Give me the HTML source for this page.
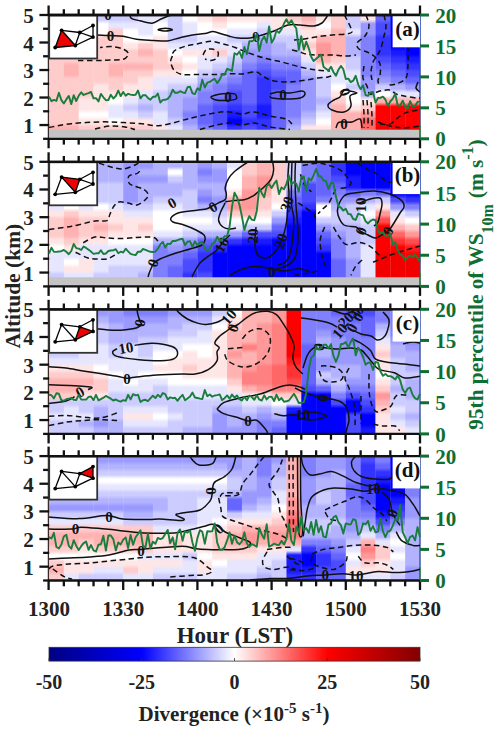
<!DOCTYPE html>
<html><head><meta charset="utf-8"><style>
html,body{margin:0;padding:0;background:#fff;}
body{width:500px;height:733px;overflow:hidden;position:relative;}
svg{position:absolute;left:0;top:0;}
</style></head><body>
<svg width="500" height="733" viewBox="0 0 500 733">
<defs><linearGradient id="g0_0" x1="0" y1="0" x2="0" y2="1"><stop offset="1.67%" stop-color="#ffcccc"/><stop offset="3.89%" stop-color="#ffcccc"/><stop offset="7.22%" stop-color="#ffcccc"/><stop offset="9.44%" stop-color="#ffcccc"/><stop offset="12.78%" stop-color="#ffcccc"/><stop offset="15.00%" stop-color="#ffcccc"/><stop offset="18.33%" stop-color="#ffcccc"/><stop offset="20.56%" stop-color="#ffcccc"/><stop offset="23.89%" stop-color="#ffcccc"/><stop offset="26.11%" stop-color="#ffcccc"/><stop offset="29.44%" stop-color="#ffcccc"/><stop offset="31.67%" stop-color="#ffcccc"/><stop offset="35.00%" stop-color="#ffcccc"/><stop offset="37.22%" stop-color="#ffcccc"/><stop offset="40.56%" stop-color="#ffcccc"/><stop offset="42.78%" stop-color="#ffcccc"/><stop offset="46.11%" stop-color="#ffcccc"/><stop offset="48.33%" stop-color="#ffcccc"/><stop offset="51.67%" stop-color="#ffcccc"/><stop offset="53.89%" stop-color="#ffcccc"/><stop offset="57.22%" stop-color="#ffcccc"/><stop offset="59.44%" stop-color="#ffcccc"/><stop offset="62.78%" stop-color="#ffcccc"/><stop offset="65.00%" stop-color="#ffcccc"/><stop offset="68.33%" stop-color="#ffcccc"/><stop offset="70.56%" stop-color="#ffcccc"/><stop offset="73.89%" stop-color="#ffcccc"/><stop offset="76.11%" stop-color="#ffcccc"/><stop offset="79.44%" stop-color="#ffcccc"/><stop offset="81.67%" stop-color="#ffcccc"/><stop offset="85.00%" stop-color="#ffcccc"/><stop offset="87.22%" stop-color="#ffcccc"/><stop offset="90.56%" stop-color="#ffb2b2"/><stop offset="92.78%" stop-color="#ffb2b2"/><stop offset="96.11%" stop-color="#ffcccc"/><stop offset="98.33%" stop-color="#ffcccc"/></linearGradient>
<linearGradient id="g0_1" x1="0" y1="0" x2="0" y2="1"><stop offset="1.67%" stop-color="#ffcccc"/><stop offset="3.89%" stop-color="#ffcccc"/><stop offset="7.22%" stop-color="#ffcccc"/><stop offset="9.44%" stop-color="#ffcccc"/><stop offset="12.78%" stop-color="#ffcccc"/><stop offset="15.00%" stop-color="#ffcccc"/><stop offset="18.33%" stop-color="#ffcccc"/><stop offset="20.56%" stop-color="#ffcccc"/><stop offset="23.89%" stop-color="#ffcccc"/><stop offset="26.11%" stop-color="#ffcccc"/><stop offset="29.44%" stop-color="#ffcccc"/><stop offset="31.67%" stop-color="#ffcccc"/><stop offset="35.00%" stop-color="#ffcccc"/><stop offset="37.22%" stop-color="#ffcccc"/><stop offset="40.56%" stop-color="#ffb2b2"/><stop offset="42.78%" stop-color="#ffb2b2"/><stop offset="46.11%" stop-color="#ffb2b2"/><stop offset="48.33%" stop-color="#ffb2b2"/><stop offset="51.67%" stop-color="#ffcccc"/><stop offset="53.89%" stop-color="#ffcccc"/><stop offset="57.22%" stop-color="#ffcccc"/><stop offset="59.44%" stop-color="#ffcccc"/><stop offset="62.78%" stop-color="#ffcccc"/><stop offset="65.00%" stop-color="#ffcccc"/><stop offset="68.33%" stop-color="#ffcccc"/><stop offset="70.56%" stop-color="#ffcccc"/><stop offset="73.89%" stop-color="#ffcccc"/><stop offset="76.11%" stop-color="#ffcccc"/><stop offset="79.44%" stop-color="#ffcccc"/><stop offset="81.67%" stop-color="#ffcccc"/><stop offset="85.00%" stop-color="#ffcccc"/><stop offset="87.22%" stop-color="#ffcccc"/><stop offset="90.56%" stop-color="#ffb2b2"/><stop offset="92.78%" stop-color="#ffb2b2"/><stop offset="96.11%" stop-color="#ffb2b2"/><stop offset="98.33%" stop-color="#ffb2b2"/></linearGradient>
<linearGradient id="g0_2" x1="0" y1="0" x2="0" y2="1"><stop offset="1.67%" stop-color="#ffcccc"/><stop offset="3.89%" stop-color="#ffcccc"/><stop offset="7.22%" stop-color="#ffcccc"/><stop offset="9.44%" stop-color="#ffcccc"/><stop offset="12.78%" stop-color="#ffcccc"/><stop offset="15.00%" stop-color="#ffcccc"/><stop offset="18.33%" stop-color="#ffcccc"/><stop offset="20.56%" stop-color="#ffcccc"/><stop offset="23.89%" stop-color="#ffcccc"/><stop offset="26.11%" stop-color="#ffcccc"/><stop offset="29.44%" stop-color="#ffcccc"/><stop offset="31.67%" stop-color="#ffcccc"/><stop offset="35.00%" stop-color="#ffcccc"/><stop offset="37.22%" stop-color="#ffcccc"/><stop offset="40.56%" stop-color="#ffcccc"/><stop offset="42.78%" stop-color="#ffcccc"/><stop offset="46.11%" stop-color="#ffcccc"/><stop offset="48.33%" stop-color="#ffcccc"/><stop offset="51.67%" stop-color="#ffcccc"/><stop offset="53.89%" stop-color="#ffcccc"/><stop offset="57.22%" stop-color="#ffcccc"/><stop offset="59.44%" stop-color="#ffcccc"/><stop offset="62.78%" stop-color="#ffcccc"/><stop offset="65.00%" stop-color="#ffcccc"/><stop offset="68.33%" stop-color="#ffe6e6"/><stop offset="70.56%" stop-color="#ffe6e6"/><stop offset="73.89%" stop-color="#ffe6e6"/><stop offset="76.11%" stop-color="#ffe6e6"/><stop offset="79.44%" stop-color="#ffffff"/><stop offset="81.67%" stop-color="#ffffff"/><stop offset="85.00%" stop-color="#ffe6e6"/><stop offset="87.22%" stop-color="#ffe6e6"/><stop offset="90.56%" stop-color="#ffcccc"/><stop offset="92.78%" stop-color="#ffcccc"/><stop offset="96.11%" stop-color="#ffcccc"/><stop offset="98.33%" stop-color="#ffcccc"/></linearGradient>
<linearGradient id="g0_3" x1="0" y1="0" x2="0" y2="1"><stop offset="1.67%" stop-color="#ccccff"/><stop offset="3.89%" stop-color="#ccccff"/><stop offset="7.22%" stop-color="#ffffff"/><stop offset="9.44%" stop-color="#ffffff"/><stop offset="12.78%" stop-color="#ffffff"/><stop offset="15.00%" stop-color="#ffffff"/><stop offset="18.33%" stop-color="#ffcccc"/><stop offset="20.56%" stop-color="#ffcccc"/><stop offset="23.89%" stop-color="#ffcccc"/><stop offset="26.11%" stop-color="#ffcccc"/><stop offset="29.44%" stop-color="#ffcccc"/><stop offset="31.67%" stop-color="#ffcccc"/><stop offset="35.00%" stop-color="#ffcccc"/><stop offset="37.22%" stop-color="#ffcccc"/><stop offset="40.56%" stop-color="#ffcccc"/><stop offset="42.78%" stop-color="#ffcccc"/><stop offset="46.11%" stop-color="#ffcccc"/><stop offset="48.33%" stop-color="#ffcccc"/><stop offset="51.67%" stop-color="#ffcccc"/><stop offset="53.89%" stop-color="#ffcccc"/><stop offset="57.22%" stop-color="#ffe6e6"/><stop offset="59.44%" stop-color="#ffe6e6"/><stop offset="62.78%" stop-color="#ffe6e6"/><stop offset="65.00%" stop-color="#ffe6e6"/><stop offset="68.33%" stop-color="#ffe6e6"/><stop offset="70.56%" stop-color="#ffe6e6"/><stop offset="73.89%" stop-color="#ffe6e6"/><stop offset="76.11%" stop-color="#ffe6e6"/><stop offset="79.44%" stop-color="#ffffff"/><stop offset="81.67%" stop-color="#ffffff"/><stop offset="85.00%" stop-color="#ffe6e6"/><stop offset="87.22%" stop-color="#ffe6e6"/><stop offset="90.56%" stop-color="#ffcccc"/><stop offset="92.78%" stop-color="#ffcccc"/><stop offset="96.11%" stop-color="#ffcccc"/><stop offset="98.33%" stop-color="#ffcccc"/></linearGradient>
<linearGradient id="g0_4" x1="0" y1="0" x2="0" y2="1"><stop offset="1.67%" stop-color="#ccccff"/><stop offset="3.89%" stop-color="#ccccff"/><stop offset="7.22%" stop-color="#e6e6ff"/><stop offset="9.44%" stop-color="#e6e6ff"/><stop offset="12.78%" stop-color="#ffcccc"/><stop offset="15.00%" stop-color="#ffcccc"/><stop offset="18.33%" stop-color="#ffcccc"/><stop offset="20.56%" stop-color="#ffcccc"/><stop offset="23.89%" stop-color="#ffcccc"/><stop offset="26.11%" stop-color="#ffcccc"/><stop offset="29.44%" stop-color="#ffcccc"/><stop offset="31.67%" stop-color="#ffcccc"/><stop offset="35.00%" stop-color="#ffcccc"/><stop offset="37.22%" stop-color="#ffcccc"/><stop offset="40.56%" stop-color="#ffb2b2"/><stop offset="42.78%" stop-color="#ffb2b2"/><stop offset="46.11%" stop-color="#ffb2b2"/><stop offset="48.33%" stop-color="#ffb2b2"/><stop offset="51.67%" stop-color="#ffcccc"/><stop offset="53.89%" stop-color="#ffcccc"/><stop offset="57.22%" stop-color="#ffcccc"/><stop offset="59.44%" stop-color="#ffcccc"/><stop offset="62.78%" stop-color="#ffe6e6"/><stop offset="65.00%" stop-color="#ffe6e6"/><stop offset="68.33%" stop-color="#ffffff"/><stop offset="70.56%" stop-color="#ffffff"/><stop offset="73.89%" stop-color="#e6e6ff"/><stop offset="76.11%" stop-color="#e6e6ff"/><stop offset="79.44%" stop-color="#e6e6ff"/><stop offset="81.67%" stop-color="#e6e6ff"/><stop offset="85.00%" stop-color="#ffffff"/><stop offset="87.22%" stop-color="#ffffff"/><stop offset="90.56%" stop-color="#ffcccc"/><stop offset="92.78%" stop-color="#ffcccc"/><stop offset="96.11%" stop-color="#ffcccc"/><stop offset="98.33%" stop-color="#ffcccc"/></linearGradient>
<linearGradient id="g0_5" x1="0" y1="0" x2="0" y2="1"><stop offset="1.67%" stop-color="#ccccff"/><stop offset="3.89%" stop-color="#ccccff"/><stop offset="7.22%" stop-color="#e6e6ff"/><stop offset="9.44%" stop-color="#e6e6ff"/><stop offset="12.78%" stop-color="#ffffff"/><stop offset="15.00%" stop-color="#ffffff"/><stop offset="18.33%" stop-color="#ffffff"/><stop offset="20.56%" stop-color="#ffffff"/><stop offset="23.89%" stop-color="#ffe6e6"/><stop offset="26.11%" stop-color="#ffe6e6"/><stop offset="29.44%" stop-color="#ffcccc"/><stop offset="31.67%" stop-color="#ffcccc"/><stop offset="35.00%" stop-color="#ffcccc"/><stop offset="37.22%" stop-color="#ffcccc"/><stop offset="40.56%" stop-color="#ffb2b2"/><stop offset="42.78%" stop-color="#ffb2b2"/><stop offset="46.11%" stop-color="#ffcccc"/><stop offset="48.33%" stop-color="#ffcccc"/><stop offset="51.67%" stop-color="#ffcccc"/><stop offset="53.89%" stop-color="#ffcccc"/><stop offset="57.22%" stop-color="#ffe6e6"/><stop offset="59.44%" stop-color="#ffe6e6"/><stop offset="62.78%" stop-color="#ffe6e6"/><stop offset="65.00%" stop-color="#ffe6e6"/><stop offset="68.33%" stop-color="#e6e6ff"/><stop offset="70.56%" stop-color="#e6e6ff"/><stop offset="73.89%" stop-color="#ccccff"/><stop offset="76.11%" stop-color="#ccccff"/><stop offset="79.44%" stop-color="#e6e6ff"/><stop offset="81.67%" stop-color="#e6e6ff"/><stop offset="85.00%" stop-color="#ffe6e6"/><stop offset="87.22%" stop-color="#ffe6e6"/><stop offset="90.56%" stop-color="#ffcccc"/><stop offset="92.78%" stop-color="#ffcccc"/><stop offset="96.11%" stop-color="#ffcccc"/><stop offset="98.33%" stop-color="#ffcccc"/></linearGradient>
<linearGradient id="g0_6" x1="0" y1="0" x2="0" y2="1"><stop offset="1.67%" stop-color="#e6e6ff"/><stop offset="3.89%" stop-color="#e6e6ff"/><stop offset="7.22%" stop-color="#e6e6ff"/><stop offset="9.44%" stop-color="#e6e6ff"/><stop offset="12.78%" stop-color="#e6e6ff"/><stop offset="15.00%" stop-color="#e6e6ff"/><stop offset="18.33%" stop-color="#ffffff"/><stop offset="20.56%" stop-color="#ffffff"/><stop offset="23.89%" stop-color="#ffcccc"/><stop offset="26.11%" stop-color="#ffcccc"/><stop offset="29.44%" stop-color="#ffb2b2"/><stop offset="31.67%" stop-color="#ffb2b2"/><stop offset="35.00%" stop-color="#ffcccc"/><stop offset="37.22%" stop-color="#ffcccc"/><stop offset="40.56%" stop-color="#ffb2b2"/><stop offset="42.78%" stop-color="#ffb2b2"/><stop offset="46.11%" stop-color="#ffcccc"/><stop offset="48.33%" stop-color="#ffcccc"/><stop offset="51.67%" stop-color="#ffe6e6"/><stop offset="53.89%" stop-color="#ffe6e6"/><stop offset="57.22%" stop-color="#ffe6e6"/><stop offset="59.44%" stop-color="#ffe6e6"/><stop offset="62.78%" stop-color="#e6e6ff"/><stop offset="65.00%" stop-color="#e6e6ff"/><stop offset="68.33%" stop-color="#ccccff"/><stop offset="70.56%" stop-color="#ccccff"/><stop offset="73.89%" stop-color="#b2b2ff"/><stop offset="76.11%" stop-color="#b2b2ff"/><stop offset="79.44%" stop-color="#ccccff"/><stop offset="81.67%" stop-color="#ccccff"/><stop offset="85.00%" stop-color="#ffe6e6"/><stop offset="87.22%" stop-color="#ffe6e6"/><stop offset="90.56%" stop-color="#ffcccc"/><stop offset="92.78%" stop-color="#ffcccc"/><stop offset="96.11%" stop-color="#ffcccc"/><stop offset="98.33%" stop-color="#ffcccc"/></linearGradient>
<linearGradient id="g0_7" x1="0" y1="0" x2="0" y2="1"><stop offset="1.67%" stop-color="#e6e6ff"/><stop offset="3.89%" stop-color="#e6e6ff"/><stop offset="7.22%" stop-color="#ffffff"/><stop offset="9.44%" stop-color="#ffffff"/><stop offset="12.78%" stop-color="#ffffff"/><stop offset="15.00%" stop-color="#ffffff"/><stop offset="18.33%" stop-color="#ffe6e6"/><stop offset="20.56%" stop-color="#ffe6e6"/><stop offset="23.89%" stop-color="#ffe6e6"/><stop offset="26.11%" stop-color="#ffe6e6"/><stop offset="29.44%" stop-color="#ffcccc"/><stop offset="31.67%" stop-color="#ffcccc"/><stop offset="35.00%" stop-color="#ffcccc"/><stop offset="37.22%" stop-color="#ffcccc"/><stop offset="40.56%" stop-color="#ffcccc"/><stop offset="42.78%" stop-color="#ffcccc"/><stop offset="46.11%" stop-color="#ffe6e6"/><stop offset="48.33%" stop-color="#ffe6e6"/><stop offset="51.67%" stop-color="#e6e6ff"/><stop offset="53.89%" stop-color="#e6e6ff"/><stop offset="57.22%" stop-color="#e6e6ff"/><stop offset="59.44%" stop-color="#e6e6ff"/><stop offset="62.78%" stop-color="#ccccff"/><stop offset="65.00%" stop-color="#ccccff"/><stop offset="68.33%" stop-color="#ccccff"/><stop offset="70.56%" stop-color="#ccccff"/><stop offset="73.89%" stop-color="#ccccff"/><stop offset="76.11%" stop-color="#ccccff"/><stop offset="79.44%" stop-color="#e6e6ff"/><stop offset="81.67%" stop-color="#e6e6ff"/><stop offset="85.00%" stop-color="#e6e6ff"/><stop offset="87.22%" stop-color="#e6e6ff"/><stop offset="90.56%" stop-color="#ffe6e6"/><stop offset="92.78%" stop-color="#ffe6e6"/><stop offset="96.11%" stop-color="#ffe6e6"/><stop offset="98.33%" stop-color="#ffe6e6"/></linearGradient>
<linearGradient id="g0_8" x1="0" y1="0" x2="0" y2="1"><stop offset="1.67%" stop-color="#ccccff"/><stop offset="3.89%" stop-color="#ccccff"/><stop offset="7.22%" stop-color="#ccccff"/><stop offset="9.44%" stop-color="#ccccff"/><stop offset="12.78%" stop-color="#ccccff"/><stop offset="15.00%" stop-color="#ccccff"/><stop offset="18.33%" stop-color="#ccccff"/><stop offset="20.56%" stop-color="#ccccff"/><stop offset="23.89%" stop-color="#e6e6ff"/><stop offset="26.11%" stop-color="#e6e6ff"/><stop offset="29.44%" stop-color="#ffffff"/><stop offset="31.67%" stop-color="#ffffff"/><stop offset="35.00%" stop-color="#ffe6e6"/><stop offset="37.22%" stop-color="#ffe6e6"/><stop offset="40.56%" stop-color="#ffcccc"/><stop offset="42.78%" stop-color="#ffcccc"/><stop offset="46.11%" stop-color="#ffe6e6"/><stop offset="48.33%" stop-color="#ffe6e6"/><stop offset="51.67%" stop-color="#e6e6ff"/><stop offset="53.89%" stop-color="#e6e6ff"/><stop offset="57.22%" stop-color="#ccccff"/><stop offset="59.44%" stop-color="#ccccff"/><stop offset="62.78%" stop-color="#b2b2ff"/><stop offset="65.00%" stop-color="#b2b2ff"/><stop offset="68.33%" stop-color="#b2b2ff"/><stop offset="70.56%" stop-color="#b2b2ff"/><stop offset="73.89%" stop-color="#b2b2ff"/><stop offset="76.11%" stop-color="#b2b2ff"/><stop offset="79.44%" stop-color="#b2b2ff"/><stop offset="81.67%" stop-color="#b2b2ff"/><stop offset="85.00%" stop-color="#ccccff"/><stop offset="87.22%" stop-color="#ccccff"/><stop offset="90.56%" stop-color="#e6e6ff"/><stop offset="92.78%" stop-color="#e6e6ff"/><stop offset="96.11%" stop-color="#e6e6ff"/><stop offset="98.33%" stop-color="#e6e6ff"/></linearGradient>
<linearGradient id="g0_9" x1="0" y1="0" x2="0" y2="1"><stop offset="1.67%" stop-color="#ffffff"/><stop offset="3.89%" stop-color="#ffffff"/><stop offset="7.22%" stop-color="#e6e6ff"/><stop offset="9.44%" stop-color="#e6e6ff"/><stop offset="12.78%" stop-color="#e6e6ff"/><stop offset="15.00%" stop-color="#e6e6ff"/><stop offset="18.33%" stop-color="#ccccff"/><stop offset="20.56%" stop-color="#ccccff"/><stop offset="23.89%" stop-color="#e6e6ff"/><stop offset="26.11%" stop-color="#e6e6ff"/><stop offset="29.44%" stop-color="#ffe6e6"/><stop offset="31.67%" stop-color="#ffe6e6"/><stop offset="35.00%" stop-color="#ffffff"/><stop offset="37.22%" stop-color="#ffffff"/><stop offset="40.56%" stop-color="#ffe6e6"/><stop offset="42.78%" stop-color="#ffe6e6"/><stop offset="46.11%" stop-color="#ffffff"/><stop offset="48.33%" stop-color="#ffffff"/><stop offset="51.67%" stop-color="#e6e6ff"/><stop offset="53.89%" stop-color="#e6e6ff"/><stop offset="57.22%" stop-color="#ccccff"/><stop offset="59.44%" stop-color="#ccccff"/><stop offset="62.78%" stop-color="#b2b2ff"/><stop offset="65.00%" stop-color="#b2b2ff"/><stop offset="68.33%" stop-color="#9999ff"/><stop offset="70.56%" stop-color="#9999ff"/><stop offset="73.89%" stop-color="#9999ff"/><stop offset="76.11%" stop-color="#9999ff"/><stop offset="79.44%" stop-color="#8080ff"/><stop offset="81.67%" stop-color="#8080ff"/><stop offset="85.00%" stop-color="#9999ff"/><stop offset="87.22%" stop-color="#9999ff"/><stop offset="90.56%" stop-color="#b2b2ff"/><stop offset="92.78%" stop-color="#b2b2ff"/><stop offset="96.11%" stop-color="#b2b2ff"/><stop offset="98.33%" stop-color="#b2b2ff"/></linearGradient>
<linearGradient id="g0_10" x1="0" y1="0" x2="0" y2="1"><stop offset="1.67%" stop-color="#ffe6e6"/><stop offset="3.89%" stop-color="#ffe6e6"/><stop offset="7.22%" stop-color="#ffffff"/><stop offset="9.44%" stop-color="#ffffff"/><stop offset="12.78%" stop-color="#ffffff"/><stop offset="15.00%" stop-color="#ffffff"/><stop offset="18.33%" stop-color="#e6e6ff"/><stop offset="20.56%" stop-color="#e6e6ff"/><stop offset="23.89%" stop-color="#e6e6ff"/><stop offset="26.11%" stop-color="#e6e6ff"/><stop offset="29.44%" stop-color="#ffe6e6"/><stop offset="31.67%" stop-color="#ffe6e6"/><stop offset="35.00%" stop-color="#e6e6ff"/><stop offset="37.22%" stop-color="#e6e6ff"/><stop offset="40.56%" stop-color="#e6e6ff"/><stop offset="42.78%" stop-color="#e6e6ff"/><stop offset="46.11%" stop-color="#ccccff"/><stop offset="48.33%" stop-color="#ccccff"/><stop offset="51.67%" stop-color="#b2b2ff"/><stop offset="53.89%" stop-color="#b2b2ff"/><stop offset="57.22%" stop-color="#9999ff"/><stop offset="59.44%" stop-color="#9999ff"/><stop offset="62.78%" stop-color="#8080ff"/><stop offset="65.00%" stop-color="#8080ff"/><stop offset="68.33%" stop-color="#8080ff"/><stop offset="70.56%" stop-color="#8080ff"/><stop offset="73.89%" stop-color="#6666ff"/><stop offset="76.11%" stop-color="#6666ff"/><stop offset="79.44%" stop-color="#6666ff"/><stop offset="81.67%" stop-color="#6666ff"/><stop offset="85.00%" stop-color="#6666ff"/><stop offset="87.22%" stop-color="#6666ff"/><stop offset="90.56%" stop-color="#8080ff"/><stop offset="92.78%" stop-color="#8080ff"/><stop offset="96.11%" stop-color="#8080ff"/><stop offset="98.33%" stop-color="#8080ff"/></linearGradient>
<linearGradient id="g0_11" x1="0" y1="0" x2="0" y2="1"><stop offset="1.67%" stop-color="#ffcccc"/><stop offset="3.89%" stop-color="#ffcccc"/><stop offset="7.22%" stop-color="#ffe6e6"/><stop offset="9.44%" stop-color="#ffe6e6"/><stop offset="12.78%" stop-color="#ffffff"/><stop offset="15.00%" stop-color="#ffffff"/><stop offset="18.33%" stop-color="#e6e6ff"/><stop offset="20.56%" stop-color="#e6e6ff"/><stop offset="23.89%" stop-color="#e6e6ff"/><stop offset="26.11%" stop-color="#e6e6ff"/><stop offset="29.44%" stop-color="#ffcccc"/><stop offset="31.67%" stop-color="#ffcccc"/><stop offset="35.00%" stop-color="#e6e6ff"/><stop offset="37.22%" stop-color="#e6e6ff"/><stop offset="40.56%" stop-color="#ccccff"/><stop offset="42.78%" stop-color="#ccccff"/><stop offset="46.11%" stop-color="#b2b2ff"/><stop offset="48.33%" stop-color="#b2b2ff"/><stop offset="51.67%" stop-color="#9999ff"/><stop offset="53.89%" stop-color="#9999ff"/><stop offset="57.22%" stop-color="#8080ff"/><stop offset="59.44%" stop-color="#8080ff"/><stop offset="62.78%" stop-color="#8080ff"/><stop offset="65.00%" stop-color="#8080ff"/><stop offset="68.33%" stop-color="#6666ff"/><stop offset="70.56%" stop-color="#6666ff"/><stop offset="73.89%" stop-color="#4c4cff"/><stop offset="76.11%" stop-color="#4c4cff"/><stop offset="79.44%" stop-color="#4c4cff"/><stop offset="81.67%" stop-color="#4c4cff"/><stop offset="85.00%" stop-color="#4c4cff"/><stop offset="87.22%" stop-color="#4c4cff"/><stop offset="90.56%" stop-color="#6666ff"/><stop offset="92.78%" stop-color="#6666ff"/><stop offset="96.11%" stop-color="#6666ff"/><stop offset="98.33%" stop-color="#6666ff"/></linearGradient>
<linearGradient id="g0_12" x1="0" y1="0" x2="0" y2="1"><stop offset="1.67%" stop-color="#ffe6e6"/><stop offset="3.89%" stop-color="#ffe6e6"/><stop offset="7.22%" stop-color="#ffffff"/><stop offset="9.44%" stop-color="#ffffff"/><stop offset="12.78%" stop-color="#e6e6ff"/><stop offset="15.00%" stop-color="#e6e6ff"/><stop offset="18.33%" stop-color="#ccccff"/><stop offset="20.56%" stop-color="#ccccff"/><stop offset="23.89%" stop-color="#e6e6ff"/><stop offset="26.11%" stop-color="#e6e6ff"/><stop offset="29.44%" stop-color="#e6e6ff"/><stop offset="31.67%" stop-color="#e6e6ff"/><stop offset="35.00%" stop-color="#ccccff"/><stop offset="37.22%" stop-color="#ccccff"/><stop offset="40.56%" stop-color="#b2b2ff"/><stop offset="42.78%" stop-color="#b2b2ff"/><stop offset="46.11%" stop-color="#9999ff"/><stop offset="48.33%" stop-color="#9999ff"/><stop offset="51.67%" stop-color="#8080ff"/><stop offset="53.89%" stop-color="#8080ff"/><stop offset="57.22%" stop-color="#6666ff"/><stop offset="59.44%" stop-color="#6666ff"/><stop offset="62.78%" stop-color="#4c4cff"/><stop offset="65.00%" stop-color="#4c4cff"/><stop offset="68.33%" stop-color="#4c4cff"/><stop offset="70.56%" stop-color="#4c4cff"/><stop offset="73.89%" stop-color="#3333ff"/><stop offset="76.11%" stop-color="#3333ff"/><stop offset="79.44%" stop-color="#1a1aff"/><stop offset="81.67%" stop-color="#1a1aff"/><stop offset="85.00%" stop-color="#0000ff"/><stop offset="87.22%" stop-color="#0000ff"/><stop offset="90.56%" stop-color="#3333ff"/><stop offset="92.78%" stop-color="#3333ff"/><stop offset="96.11%" stop-color="#3333ff"/><stop offset="98.33%" stop-color="#3333ff"/></linearGradient>
<linearGradient id="g0_13" x1="0" y1="0" x2="0" y2="1"><stop offset="1.67%" stop-color="#ffe6e6"/><stop offset="3.89%" stop-color="#ffe6e6"/><stop offset="7.22%" stop-color="#ffffff"/><stop offset="9.44%" stop-color="#ffffff"/><stop offset="12.78%" stop-color="#e6e6ff"/><stop offset="15.00%" stop-color="#e6e6ff"/><stop offset="18.33%" stop-color="#ccccff"/><stop offset="20.56%" stop-color="#ccccff"/><stop offset="23.89%" stop-color="#b2b2ff"/><stop offset="26.11%" stop-color="#b2b2ff"/><stop offset="29.44%" stop-color="#9999ff"/><stop offset="31.67%" stop-color="#9999ff"/><stop offset="35.00%" stop-color="#9999ff"/><stop offset="37.22%" stop-color="#9999ff"/><stop offset="40.56%" stop-color="#8080ff"/><stop offset="42.78%" stop-color="#8080ff"/><stop offset="46.11%" stop-color="#6666ff"/><stop offset="48.33%" stop-color="#6666ff"/><stop offset="51.67%" stop-color="#6666ff"/><stop offset="53.89%" stop-color="#6666ff"/><stop offset="57.22%" stop-color="#6666ff"/><stop offset="59.44%" stop-color="#6666ff"/><stop offset="62.78%" stop-color="#6666ff"/><stop offset="65.00%" stop-color="#6666ff"/><stop offset="68.33%" stop-color="#6666ff"/><stop offset="70.56%" stop-color="#6666ff"/><stop offset="73.89%" stop-color="#4c4cff"/><stop offset="76.11%" stop-color="#4c4cff"/><stop offset="79.44%" stop-color="#4c4cff"/><stop offset="81.67%" stop-color="#4c4cff"/><stop offset="85.00%" stop-color="#3333ff"/><stop offset="87.22%" stop-color="#3333ff"/><stop offset="90.56%" stop-color="#4c4cff"/><stop offset="92.78%" stop-color="#4c4cff"/><stop offset="96.11%" stop-color="#6666ff"/><stop offset="98.33%" stop-color="#6666ff"/></linearGradient>
<linearGradient id="g0_14" x1="0" y1="0" x2="0" y2="1"><stop offset="1.67%" stop-color="#ffe6e6"/><stop offset="3.89%" stop-color="#ffe6e6"/><stop offset="7.22%" stop-color="#e6e6ff"/><stop offset="9.44%" stop-color="#e6e6ff"/><stop offset="12.78%" stop-color="#ccccff"/><stop offset="15.00%" stop-color="#ccccff"/><stop offset="18.33%" stop-color="#b2b2ff"/><stop offset="20.56%" stop-color="#b2b2ff"/><stop offset="23.89%" stop-color="#9999ff"/><stop offset="26.11%" stop-color="#9999ff"/><stop offset="29.44%" stop-color="#9999ff"/><stop offset="31.67%" stop-color="#9999ff"/><stop offset="35.00%" stop-color="#8080ff"/><stop offset="37.22%" stop-color="#8080ff"/><stop offset="40.56%" stop-color="#6666ff"/><stop offset="42.78%" stop-color="#6666ff"/><stop offset="46.11%" stop-color="#4c4cff"/><stop offset="48.33%" stop-color="#4c4cff"/><stop offset="51.67%" stop-color="#3333ff"/><stop offset="53.89%" stop-color="#3333ff"/><stop offset="57.22%" stop-color="#3333ff"/><stop offset="59.44%" stop-color="#3333ff"/><stop offset="62.78%" stop-color="#3333ff"/><stop offset="65.00%" stop-color="#3333ff"/><stop offset="68.33%" stop-color="#3333ff"/><stop offset="70.56%" stop-color="#3333ff"/><stop offset="73.89%" stop-color="#1a1aff"/><stop offset="76.11%" stop-color="#1a1aff"/><stop offset="79.44%" stop-color="#1a1aff"/><stop offset="81.67%" stop-color="#1a1aff"/><stop offset="85.00%" stop-color="#3333ff"/><stop offset="87.22%" stop-color="#3333ff"/><stop offset="90.56%" stop-color="#3333ff"/><stop offset="92.78%" stop-color="#3333ff"/><stop offset="96.11%" stop-color="#ff4c4c"/><stop offset="98.33%" stop-color="#ff4c4c"/></linearGradient>
<linearGradient id="g0_15" x1="0" y1="0" x2="0" y2="1"><stop offset="1.67%" stop-color="#ffe6e6"/><stop offset="3.89%" stop-color="#ffe6e6"/><stop offset="7.22%" stop-color="#ffe6e6"/><stop offset="9.44%" stop-color="#ffe6e6"/><stop offset="12.78%" stop-color="#e6e6ff"/><stop offset="15.00%" stop-color="#e6e6ff"/><stop offset="18.33%" stop-color="#ccccff"/><stop offset="20.56%" stop-color="#ccccff"/><stop offset="23.89%" stop-color="#b2b2ff"/><stop offset="26.11%" stop-color="#b2b2ff"/><stop offset="29.44%" stop-color="#b2b2ff"/><stop offset="31.67%" stop-color="#b2b2ff"/><stop offset="35.00%" stop-color="#9999ff"/><stop offset="37.22%" stop-color="#9999ff"/><stop offset="40.56%" stop-color="#8080ff"/><stop offset="42.78%" stop-color="#8080ff"/><stop offset="46.11%" stop-color="#6666ff"/><stop offset="48.33%" stop-color="#6666ff"/><stop offset="51.67%" stop-color="#4c4cff"/><stop offset="53.89%" stop-color="#4c4cff"/><stop offset="57.22%" stop-color="#4c4cff"/><stop offset="59.44%" stop-color="#4c4cff"/><stop offset="62.78%" stop-color="#6666ff"/><stop offset="65.00%" stop-color="#6666ff"/><stop offset="68.33%" stop-color="#6666ff"/><stop offset="70.56%" stop-color="#6666ff"/><stop offset="73.89%" stop-color="#6666ff"/><stop offset="76.11%" stop-color="#6666ff"/><stop offset="79.44%" stop-color="#6666ff"/><stop offset="81.67%" stop-color="#6666ff"/><stop offset="85.00%" stop-color="#6666ff"/><stop offset="87.22%" stop-color="#6666ff"/><stop offset="90.56%" stop-color="#6666ff"/><stop offset="92.78%" stop-color="#6666ff"/><stop offset="96.11%" stop-color="#8080ff"/><stop offset="98.33%" stop-color="#8080ff"/></linearGradient>
<linearGradient id="g0_16" x1="0" y1="0" x2="0" y2="1"><stop offset="1.67%" stop-color="#ffcccc"/><stop offset="3.89%" stop-color="#ffcccc"/><stop offset="7.22%" stop-color="#ffe6e6"/><stop offset="9.44%" stop-color="#ffe6e6"/><stop offset="12.78%" stop-color="#e6e6ff"/><stop offset="15.00%" stop-color="#e6e6ff"/><stop offset="18.33%" stop-color="#ccccff"/><stop offset="20.56%" stop-color="#ccccff"/><stop offset="23.89%" stop-color="#ccccff"/><stop offset="26.11%" stop-color="#ccccff"/><stop offset="29.44%" stop-color="#b2b2ff"/><stop offset="31.67%" stop-color="#b2b2ff"/><stop offset="35.00%" stop-color="#9999ff"/><stop offset="37.22%" stop-color="#9999ff"/><stop offset="40.56%" stop-color="#8080ff"/><stop offset="42.78%" stop-color="#8080ff"/><stop offset="46.11%" stop-color="#6666ff"/><stop offset="48.33%" stop-color="#6666ff"/><stop offset="51.67%" stop-color="#6666ff"/><stop offset="53.89%" stop-color="#6666ff"/><stop offset="57.22%" stop-color="#8080ff"/><stop offset="59.44%" stop-color="#8080ff"/><stop offset="62.78%" stop-color="#8080ff"/><stop offset="65.00%" stop-color="#8080ff"/><stop offset="68.33%" stop-color="#8080ff"/><stop offset="70.56%" stop-color="#8080ff"/><stop offset="73.89%" stop-color="#8080ff"/><stop offset="76.11%" stop-color="#8080ff"/><stop offset="79.44%" stop-color="#8080ff"/><stop offset="81.67%" stop-color="#8080ff"/><stop offset="85.00%" stop-color="#9999ff"/><stop offset="87.22%" stop-color="#9999ff"/><stop offset="90.56%" stop-color="#b2b2ff"/><stop offset="92.78%" stop-color="#b2b2ff"/><stop offset="96.11%" stop-color="#b2b2ff"/><stop offset="98.33%" stop-color="#b2b2ff"/></linearGradient>
<linearGradient id="g0_17" x1="0" y1="0" x2="0" y2="1"><stop offset="1.67%" stop-color="#ffb2b2"/><stop offset="3.89%" stop-color="#ffb2b2"/><stop offset="7.22%" stop-color="#ffcccc"/><stop offset="9.44%" stop-color="#ffcccc"/><stop offset="12.78%" stop-color="#ffe6e6"/><stop offset="15.00%" stop-color="#ffe6e6"/><stop offset="18.33%" stop-color="#ffe6e6"/><stop offset="20.56%" stop-color="#ffe6e6"/><stop offset="23.89%" stop-color="#ffcccc"/><stop offset="26.11%" stop-color="#ffcccc"/><stop offset="29.44%" stop-color="#ffe6e6"/><stop offset="31.67%" stop-color="#ffe6e6"/><stop offset="35.00%" stop-color="#e6e6ff"/><stop offset="37.22%" stop-color="#e6e6ff"/><stop offset="40.56%" stop-color="#ccccff"/><stop offset="42.78%" stop-color="#ccccff"/><stop offset="46.11%" stop-color="#b2b2ff"/><stop offset="48.33%" stop-color="#b2b2ff"/><stop offset="51.67%" stop-color="#9999ff"/><stop offset="53.89%" stop-color="#9999ff"/><stop offset="57.22%" stop-color="#9999ff"/><stop offset="59.44%" stop-color="#9999ff"/><stop offset="62.78%" stop-color="#9999ff"/><stop offset="65.00%" stop-color="#9999ff"/><stop offset="68.33%" stop-color="#9999ff"/><stop offset="70.56%" stop-color="#9999ff"/><stop offset="73.89%" stop-color="#9999ff"/><stop offset="76.11%" stop-color="#9999ff"/><stop offset="79.44%" stop-color="#b2b2ff"/><stop offset="81.67%" stop-color="#b2b2ff"/><stop offset="85.00%" stop-color="#ccccff"/><stop offset="87.22%" stop-color="#ccccff"/><stop offset="90.56%" stop-color="#ffe6e6"/><stop offset="92.78%" stop-color="#ffe6e6"/><stop offset="96.11%" stop-color="#ffe6e6"/><stop offset="98.33%" stop-color="#ffe6e6"/></linearGradient>
<linearGradient id="g0_18" x1="0" y1="0" x2="0" y2="1"><stop offset="1.67%" stop-color="#ffe6e6"/><stop offset="3.89%" stop-color="#ffe6e6"/><stop offset="7.22%" stop-color="#ffffff"/><stop offset="9.44%" stop-color="#ffffff"/><stop offset="12.78%" stop-color="#ffe6e6"/><stop offset="15.00%" stop-color="#ffe6e6"/><stop offset="18.33%" stop-color="#ffb2b2"/><stop offset="20.56%" stop-color="#ffb2b2"/><stop offset="23.89%" stop-color="#ff9999"/><stop offset="26.11%" stop-color="#ff9999"/><stop offset="29.44%" stop-color="#ff9999"/><stop offset="31.67%" stop-color="#ff9999"/><stop offset="35.00%" stop-color="#ffb2b2"/><stop offset="37.22%" stop-color="#ffb2b2"/><stop offset="40.56%" stop-color="#ffe6e6"/><stop offset="42.78%" stop-color="#ffe6e6"/><stop offset="46.11%" stop-color="#e6e6ff"/><stop offset="48.33%" stop-color="#e6e6ff"/><stop offset="51.67%" stop-color="#ccccff"/><stop offset="53.89%" stop-color="#ccccff"/><stop offset="57.22%" stop-color="#ccccff"/><stop offset="59.44%" stop-color="#ccccff"/><stop offset="62.78%" stop-color="#ccccff"/><stop offset="65.00%" stop-color="#ccccff"/><stop offset="68.33%" stop-color="#b2b2ff"/><stop offset="70.56%" stop-color="#b2b2ff"/><stop offset="73.89%" stop-color="#ccccff"/><stop offset="76.11%" stop-color="#ccccff"/><stop offset="79.44%" stop-color="#e6e6ff"/><stop offset="81.67%" stop-color="#e6e6ff"/><stop offset="85.00%" stop-color="#ffffff"/><stop offset="87.22%" stop-color="#ffffff"/><stop offset="90.56%" stop-color="#ffe6e6"/><stop offset="92.78%" stop-color="#ffe6e6"/><stop offset="96.11%" stop-color="#ffe6e6"/><stop offset="98.33%" stop-color="#ffe6e6"/></linearGradient>
<linearGradient id="g0_19" x1="0" y1="0" x2="0" y2="1"><stop offset="1.67%" stop-color="#ffcccc"/><stop offset="3.89%" stop-color="#ffcccc"/><stop offset="7.22%" stop-color="#ffcccc"/><stop offset="9.44%" stop-color="#ffcccc"/><stop offset="12.78%" stop-color="#ffb2b2"/><stop offset="15.00%" stop-color="#ffb2b2"/><stop offset="18.33%" stop-color="#ffb2b2"/><stop offset="20.56%" stop-color="#ffb2b2"/><stop offset="23.89%" stop-color="#ffb2b2"/><stop offset="26.11%" stop-color="#ffb2b2"/><stop offset="29.44%" stop-color="#ffb2b2"/><stop offset="31.67%" stop-color="#ffb2b2"/><stop offset="35.00%" stop-color="#ffcccc"/><stop offset="37.22%" stop-color="#ffcccc"/><stop offset="40.56%" stop-color="#ffe6e6"/><stop offset="42.78%" stop-color="#ffe6e6"/><stop offset="46.11%" stop-color="#e6e6ff"/><stop offset="48.33%" stop-color="#e6e6ff"/><stop offset="51.67%" stop-color="#e6e6ff"/><stop offset="53.89%" stop-color="#e6e6ff"/><stop offset="57.22%" stop-color="#ffffff"/><stop offset="59.44%" stop-color="#ffffff"/><stop offset="62.78%" stop-color="#ffe6e6"/><stop offset="65.00%" stop-color="#ffe6e6"/><stop offset="68.33%" stop-color="#ffcccc"/><stop offset="70.56%" stop-color="#ffcccc"/><stop offset="73.89%" stop-color="#ffb2b2"/><stop offset="76.11%" stop-color="#ffb2b2"/><stop offset="79.44%" stop-color="#ffb2b2"/><stop offset="81.67%" stop-color="#ffb2b2"/><stop offset="85.00%" stop-color="#ffb2b2"/><stop offset="87.22%" stop-color="#ffb2b2"/><stop offset="90.56%" stop-color="#ffb2b2"/><stop offset="92.78%" stop-color="#ffb2b2"/><stop offset="96.11%" stop-color="#ffb2b2"/><stop offset="98.33%" stop-color="#ffb2b2"/></linearGradient>
<linearGradient id="g0_20" x1="0" y1="0" x2="0" y2="1"><stop offset="1.67%" stop-color="#ccccff"/><stop offset="3.89%" stop-color="#ccccff"/><stop offset="7.22%" stop-color="#ccccff"/><stop offset="9.44%" stop-color="#ccccff"/><stop offset="12.78%" stop-color="#e6e6ff"/><stop offset="15.00%" stop-color="#e6e6ff"/><stop offset="18.33%" stop-color="#b2b2ff"/><stop offset="20.56%" stop-color="#b2b2ff"/><stop offset="23.89%" stop-color="#b2b2ff"/><stop offset="26.11%" stop-color="#b2b2ff"/><stop offset="29.44%" stop-color="#b2b2ff"/><stop offset="31.67%" stop-color="#b2b2ff"/><stop offset="35.00%" stop-color="#ccccff"/><stop offset="37.22%" stop-color="#ccccff"/><stop offset="40.56%" stop-color="#ccccff"/><stop offset="42.78%" stop-color="#ccccff"/><stop offset="46.11%" stop-color="#e6e6ff"/><stop offset="48.33%" stop-color="#e6e6ff"/><stop offset="51.67%" stop-color="#e6e6ff"/><stop offset="53.89%" stop-color="#e6e6ff"/><stop offset="57.22%" stop-color="#ccccff"/><stop offset="59.44%" stop-color="#ccccff"/><stop offset="62.78%" stop-color="#ffffff"/><stop offset="65.00%" stop-color="#ffffff"/><stop offset="68.33%" stop-color="#ffffff"/><stop offset="70.56%" stop-color="#ffffff"/><stop offset="73.89%" stop-color="#ffe6e6"/><stop offset="76.11%" stop-color="#ffe6e6"/><stop offset="79.44%" stop-color="#ffb2b2"/><stop offset="81.67%" stop-color="#ffb2b2"/><stop offset="85.00%" stop-color="#ffb2b2"/><stop offset="87.22%" stop-color="#ffb2b2"/><stop offset="90.56%" stop-color="#ffb2b2"/><stop offset="92.78%" stop-color="#ffb2b2"/><stop offset="96.11%" stop-color="#ffb2b2"/><stop offset="98.33%" stop-color="#ffb2b2"/></linearGradient>
<linearGradient id="g0_21" x1="0" y1="0" x2="0" y2="1"><stop offset="1.67%" stop-color="#ffe6e6"/><stop offset="3.89%" stop-color="#ffe6e6"/><stop offset="7.22%" stop-color="#9999ff"/><stop offset="9.44%" stop-color="#9999ff"/><stop offset="12.78%" stop-color="#9999ff"/><stop offset="15.00%" stop-color="#9999ff"/><stop offset="18.33%" stop-color="#8080ff"/><stop offset="20.56%" stop-color="#8080ff"/><stop offset="23.89%" stop-color="#8080ff"/><stop offset="26.11%" stop-color="#8080ff"/><stop offset="29.44%" stop-color="#8080ff"/><stop offset="31.67%" stop-color="#8080ff"/><stop offset="35.00%" stop-color="#8080ff"/><stop offset="37.22%" stop-color="#8080ff"/><stop offset="40.56%" stop-color="#8080ff"/><stop offset="42.78%" stop-color="#8080ff"/><stop offset="46.11%" stop-color="#8080ff"/><stop offset="48.33%" stop-color="#8080ff"/><stop offset="51.67%" stop-color="#9999ff"/><stop offset="53.89%" stop-color="#9999ff"/><stop offset="57.22%" stop-color="#9999ff"/><stop offset="59.44%" stop-color="#9999ff"/><stop offset="62.78%" stop-color="#b2b2ff"/><stop offset="65.00%" stop-color="#b2b2ff"/><stop offset="68.33%" stop-color="#ffe6e6"/><stop offset="70.56%" stop-color="#ffe6e6"/><stop offset="73.89%" stop-color="#ffcccc"/><stop offset="76.11%" stop-color="#ffcccc"/><stop offset="79.44%" stop-color="#ff9999"/><stop offset="81.67%" stop-color="#ff9999"/><stop offset="85.00%" stop-color="#ff6666"/><stop offset="87.22%" stop-color="#ff6666"/><stop offset="90.56%" stop-color="#ff6666"/><stop offset="92.78%" stop-color="#ff6666"/><stop offset="96.11%" stop-color="#ff6666"/><stop offset="98.33%" stop-color="#ff6666"/></linearGradient>
<linearGradient id="g0_22" x1="0" y1="0" x2="0" y2="1"><stop offset="1.67%" stop-color="#6666ff"/><stop offset="3.89%" stop-color="#6666ff"/><stop offset="7.22%" stop-color="#4c4cff"/><stop offset="9.44%" stop-color="#4c4cff"/><stop offset="12.78%" stop-color="#4c4cff"/><stop offset="15.00%" stop-color="#4c4cff"/><stop offset="18.33%" stop-color="#3333ff"/><stop offset="20.56%" stop-color="#3333ff"/><stop offset="23.89%" stop-color="#3333ff"/><stop offset="26.11%" stop-color="#3333ff"/><stop offset="29.44%" stop-color="#3333ff"/><stop offset="31.67%" stop-color="#3333ff"/><stop offset="35.00%" stop-color="#4c4cff"/><stop offset="37.22%" stop-color="#4c4cff"/><stop offset="40.56%" stop-color="#6666ff"/><stop offset="42.78%" stop-color="#6666ff"/><stop offset="46.11%" stop-color="#8080ff"/><stop offset="48.33%" stop-color="#8080ff"/><stop offset="51.67%" stop-color="#9999ff"/><stop offset="53.89%" stop-color="#9999ff"/><stop offset="57.22%" stop-color="#ccccff"/><stop offset="59.44%" stop-color="#ccccff"/><stop offset="62.78%" stop-color="#ffffff"/><stop offset="65.00%" stop-color="#ffffff"/><stop offset="68.33%" stop-color="#ffb2b2"/><stop offset="70.56%" stop-color="#ffb2b2"/><stop offset="73.89%" stop-color="#ff0000"/><stop offset="76.11%" stop-color="#ff0000"/><stop offset="79.44%" stop-color="#ff0000"/><stop offset="81.67%" stop-color="#ff0000"/><stop offset="85.00%" stop-color="#ff0000"/><stop offset="87.22%" stop-color="#ff0000"/><stop offset="90.56%" stop-color="#f20000"/><stop offset="92.78%" stop-color="#f20000"/><stop offset="96.11%" stop-color="#f20000"/><stop offset="98.33%" stop-color="#f20000"/></linearGradient>
<linearGradient id="g0_23" x1="0" y1="0" x2="0" y2="1"><stop offset="1.67%" stop-color="#0000ff"/><stop offset="3.89%" stop-color="#0000ff"/><stop offset="7.22%" stop-color="#0000ff"/><stop offset="9.44%" stop-color="#0000ff"/><stop offset="12.78%" stop-color="#0000ff"/><stop offset="15.00%" stop-color="#0000ff"/><stop offset="18.33%" stop-color="#0000ff"/><stop offset="20.56%" stop-color="#0000ff"/><stop offset="23.89%" stop-color="#0000ff"/><stop offset="26.11%" stop-color="#0000ff"/><stop offset="29.44%" stop-color="#1a1aff"/><stop offset="31.67%" stop-color="#1a1aff"/><stop offset="35.00%" stop-color="#3333ff"/><stop offset="37.22%" stop-color="#3333ff"/><stop offset="40.56%" stop-color="#4c4cff"/><stop offset="42.78%" stop-color="#4c4cff"/><stop offset="46.11%" stop-color="#6666ff"/><stop offset="48.33%" stop-color="#6666ff"/><stop offset="51.67%" stop-color="#8080ff"/><stop offset="53.89%" stop-color="#8080ff"/><stop offset="57.22%" stop-color="#b2b2ff"/><stop offset="59.44%" stop-color="#b2b2ff"/><stop offset="62.78%" stop-color="#e6e6ff"/><stop offset="65.00%" stop-color="#e6e6ff"/><stop offset="68.33%" stop-color="#ffb2b2"/><stop offset="70.56%" stop-color="#ffb2b2"/><stop offset="73.89%" stop-color="#ff0000"/><stop offset="76.11%" stop-color="#ff0000"/><stop offset="79.44%" stop-color="#ff0000"/><stop offset="81.67%" stop-color="#ff0000"/><stop offset="85.00%" stop-color="#ff0000"/><stop offset="87.22%" stop-color="#ff0000"/><stop offset="90.56%" stop-color="#f20000"/><stop offset="92.78%" stop-color="#f20000"/><stop offset="96.11%" stop-color="#f20000"/><stop offset="98.33%" stop-color="#f20000"/></linearGradient>
<linearGradient id="g0_24" x1="0" y1="0" x2="0" y2="1"><stop offset="1.67%" stop-color="#0000ff"/><stop offset="3.89%" stop-color="#0000ff"/><stop offset="7.22%" stop-color="#0000ff"/><stop offset="9.44%" stop-color="#0000ff"/><stop offset="12.78%" stop-color="#0000ff"/><stop offset="15.00%" stop-color="#0000ff"/><stop offset="18.33%" stop-color="#0000ff"/><stop offset="20.56%" stop-color="#0000ff"/><stop offset="23.89%" stop-color="#0000ff"/><stop offset="26.11%" stop-color="#0000ff"/><stop offset="29.44%" stop-color="#0000ff"/><stop offset="31.67%" stop-color="#0000ff"/><stop offset="35.00%" stop-color="#1a1aff"/><stop offset="37.22%" stop-color="#1a1aff"/><stop offset="40.56%" stop-color="#3333ff"/><stop offset="42.78%" stop-color="#3333ff"/><stop offset="46.11%" stop-color="#4c4cff"/><stop offset="48.33%" stop-color="#4c4cff"/><stop offset="51.67%" stop-color="#6666ff"/><stop offset="53.89%" stop-color="#6666ff"/><stop offset="57.22%" stop-color="#9999ff"/><stop offset="59.44%" stop-color="#9999ff"/><stop offset="62.78%" stop-color="#e6e6ff"/><stop offset="65.00%" stop-color="#e6e6ff"/><stop offset="68.33%" stop-color="#ffb2b2"/><stop offset="70.56%" stop-color="#ffb2b2"/><stop offset="73.89%" stop-color="#ff0000"/><stop offset="76.11%" stop-color="#ff0000"/><stop offset="79.44%" stop-color="#ff0000"/><stop offset="81.67%" stop-color="#ff0000"/><stop offset="85.00%" stop-color="#ff0000"/><stop offset="87.22%" stop-color="#ff0000"/><stop offset="90.56%" stop-color="#f20000"/><stop offset="92.78%" stop-color="#f20000"/><stop offset="96.11%" stop-color="#f20000"/><stop offset="98.33%" stop-color="#f20000"/></linearGradient>
<linearGradient id="g1_0" x1="0" y1="0" x2="0" y2="1"><stop offset="1.67%" stop-color="#b2b2ff"/><stop offset="3.89%" stop-color="#b2b2ff"/><stop offset="7.22%" stop-color="#b2b2ff"/><stop offset="9.44%" stop-color="#b2b2ff"/><stop offset="12.78%" stop-color="#b2b2ff"/><stop offset="15.00%" stop-color="#b2b2ff"/><stop offset="18.33%" stop-color="#ccccff"/><stop offset="20.56%" stop-color="#ccccff"/><stop offset="23.89%" stop-color="#ccccff"/><stop offset="26.11%" stop-color="#ccccff"/><stop offset="29.44%" stop-color="#ccccff"/><stop offset="31.67%" stop-color="#ccccff"/><stop offset="35.00%" stop-color="#e6e6ff"/><stop offset="37.22%" stop-color="#e6e6ff"/><stop offset="40.56%" stop-color="#ffe6e6"/><stop offset="42.78%" stop-color="#ffe6e6"/><stop offset="46.11%" stop-color="#ffcccc"/><stop offset="48.33%" stop-color="#ffcccc"/><stop offset="51.67%" stop-color="#ffcccc"/><stop offset="53.89%" stop-color="#ffcccc"/><stop offset="57.22%" stop-color="#ffcccc"/><stop offset="59.44%" stop-color="#ffcccc"/><stop offset="62.78%" stop-color="#ffe6e6"/><stop offset="65.00%" stop-color="#ffe6e6"/><stop offset="68.33%" stop-color="#ffffff"/><stop offset="70.56%" stop-color="#ffffff"/><stop offset="73.89%" stop-color="#e6e6ff"/><stop offset="76.11%" stop-color="#e6e6ff"/><stop offset="79.44%" stop-color="#e6e6ff"/><stop offset="81.67%" stop-color="#e6e6ff"/><stop offset="85.00%" stop-color="#e6e6ff"/><stop offset="87.22%" stop-color="#e6e6ff"/><stop offset="90.56%" stop-color="#ccccff"/><stop offset="92.78%" stop-color="#ccccff"/><stop offset="96.11%" stop-color="#ccccff"/><stop offset="98.33%" stop-color="#ccccff"/></linearGradient>
<linearGradient id="g1_1" x1="0" y1="0" x2="0" y2="1"><stop offset="1.67%" stop-color="#b2b2ff"/><stop offset="3.89%" stop-color="#b2b2ff"/><stop offset="7.22%" stop-color="#b2b2ff"/><stop offset="9.44%" stop-color="#b2b2ff"/><stop offset="12.78%" stop-color="#b2b2ff"/><stop offset="15.00%" stop-color="#b2b2ff"/><stop offset="18.33%" stop-color="#ccccff"/><stop offset="20.56%" stop-color="#ccccff"/><stop offset="23.89%" stop-color="#ccccff"/><stop offset="26.11%" stop-color="#ccccff"/><stop offset="29.44%" stop-color="#ccccff"/><stop offset="31.67%" stop-color="#ccccff"/><stop offset="35.00%" stop-color="#ffffff"/><stop offset="37.22%" stop-color="#ffffff"/><stop offset="40.56%" stop-color="#ffcccc"/><stop offset="42.78%" stop-color="#ffcccc"/><stop offset="46.11%" stop-color="#ffb2b2"/><stop offset="48.33%" stop-color="#ffb2b2"/><stop offset="51.67%" stop-color="#ffb2b2"/><stop offset="53.89%" stop-color="#ffb2b2"/><stop offset="57.22%" stop-color="#ffb2b2"/><stop offset="59.44%" stop-color="#ffb2b2"/><stop offset="62.78%" stop-color="#ffcccc"/><stop offset="65.00%" stop-color="#ffcccc"/><stop offset="68.33%" stop-color="#ffe6e6"/><stop offset="70.56%" stop-color="#ffe6e6"/><stop offset="73.89%" stop-color="#e6e6ff"/><stop offset="76.11%" stop-color="#e6e6ff"/><stop offset="79.44%" stop-color="#ffffff"/><stop offset="81.67%" stop-color="#ffffff"/><stop offset="85.00%" stop-color="#ffe6e6"/><stop offset="87.22%" stop-color="#ffe6e6"/><stop offset="90.56%" stop-color="#e6e6ff"/><stop offset="92.78%" stop-color="#e6e6ff"/><stop offset="96.11%" stop-color="#ffffff"/><stop offset="98.33%" stop-color="#ffffff"/></linearGradient>
<linearGradient id="g1_2" x1="0" y1="0" x2="0" y2="1"><stop offset="1.67%" stop-color="#b2b2ff"/><stop offset="3.89%" stop-color="#b2b2ff"/><stop offset="7.22%" stop-color="#b2b2ff"/><stop offset="9.44%" stop-color="#b2b2ff"/><stop offset="12.78%" stop-color="#b2b2ff"/><stop offset="15.00%" stop-color="#b2b2ff"/><stop offset="18.33%" stop-color="#ccccff"/><stop offset="20.56%" stop-color="#ccccff"/><stop offset="23.89%" stop-color="#ccccff"/><stop offset="26.11%" stop-color="#ccccff"/><stop offset="29.44%" stop-color="#ccccff"/><stop offset="31.67%" stop-color="#ccccff"/><stop offset="35.00%" stop-color="#e6e6ff"/><stop offset="37.22%" stop-color="#e6e6ff"/><stop offset="40.56%" stop-color="#ffe6e6"/><stop offset="42.78%" stop-color="#ffe6e6"/><stop offset="46.11%" stop-color="#ffcccc"/><stop offset="48.33%" stop-color="#ffcccc"/><stop offset="51.67%" stop-color="#ffcccc"/><stop offset="53.89%" stop-color="#ffcccc"/><stop offset="57.22%" stop-color="#ffcccc"/><stop offset="59.44%" stop-color="#ffcccc"/><stop offset="62.78%" stop-color="#ffe6e6"/><stop offset="65.00%" stop-color="#ffe6e6"/><stop offset="68.33%" stop-color="#e6e6ff"/><stop offset="70.56%" stop-color="#e6e6ff"/><stop offset="73.89%" stop-color="#e6e6ff"/><stop offset="76.11%" stop-color="#e6e6ff"/><stop offset="79.44%" stop-color="#ffe6e6"/><stop offset="81.67%" stop-color="#ffe6e6"/><stop offset="85.00%" stop-color="#ffe6e6"/><stop offset="87.22%" stop-color="#ffe6e6"/><stop offset="90.56%" stop-color="#e6e6ff"/><stop offset="92.78%" stop-color="#e6e6ff"/><stop offset="96.11%" stop-color="#e6e6ff"/><stop offset="98.33%" stop-color="#e6e6ff"/></linearGradient>
<linearGradient id="g1_3" x1="0" y1="0" x2="0" y2="1"><stop offset="1.67%" stop-color="#b2b2ff"/><stop offset="3.89%" stop-color="#b2b2ff"/><stop offset="7.22%" stop-color="#b2b2ff"/><stop offset="9.44%" stop-color="#b2b2ff"/><stop offset="12.78%" stop-color="#b2b2ff"/><stop offset="15.00%" stop-color="#b2b2ff"/><stop offset="18.33%" stop-color="#ccccff"/><stop offset="20.56%" stop-color="#ccccff"/><stop offset="23.89%" stop-color="#ccccff"/><stop offset="26.11%" stop-color="#ccccff"/><stop offset="29.44%" stop-color="#ccccff"/><stop offset="31.67%" stop-color="#ccccff"/><stop offset="35.00%" stop-color="#ffffff"/><stop offset="37.22%" stop-color="#ffffff"/><stop offset="40.56%" stop-color="#ffe6e6"/><stop offset="42.78%" stop-color="#ffe6e6"/><stop offset="46.11%" stop-color="#ffcccc"/><stop offset="48.33%" stop-color="#ffcccc"/><stop offset="51.67%" stop-color="#ffb2b2"/><stop offset="53.89%" stop-color="#ffb2b2"/><stop offset="57.22%" stop-color="#ffcccc"/><stop offset="59.44%" stop-color="#ffcccc"/><stop offset="62.78%" stop-color="#ffe6e6"/><stop offset="65.00%" stop-color="#ffe6e6"/><stop offset="68.33%" stop-color="#e6e6ff"/><stop offset="70.56%" stop-color="#e6e6ff"/><stop offset="73.89%" stop-color="#e6e6ff"/><stop offset="76.11%" stop-color="#e6e6ff"/><stop offset="79.44%" stop-color="#e6e6ff"/><stop offset="81.67%" stop-color="#e6e6ff"/><stop offset="85.00%" stop-color="#e6e6ff"/><stop offset="87.22%" stop-color="#e6e6ff"/><stop offset="90.56%" stop-color="#ccccff"/><stop offset="92.78%" stop-color="#ccccff"/><stop offset="96.11%" stop-color="#ccccff"/><stop offset="98.33%" stop-color="#ccccff"/></linearGradient>
<linearGradient id="g1_4" x1="0" y1="0" x2="0" y2="1"><stop offset="1.67%" stop-color="#b2b2ff"/><stop offset="3.89%" stop-color="#b2b2ff"/><stop offset="7.22%" stop-color="#b2b2ff"/><stop offset="9.44%" stop-color="#b2b2ff"/><stop offset="12.78%" stop-color="#b2b2ff"/><stop offset="15.00%" stop-color="#b2b2ff"/><stop offset="18.33%" stop-color="#ccccff"/><stop offset="20.56%" stop-color="#ccccff"/><stop offset="23.89%" stop-color="#ccccff"/><stop offset="26.11%" stop-color="#ccccff"/><stop offset="29.44%" stop-color="#ccccff"/><stop offset="31.67%" stop-color="#ccccff"/><stop offset="35.00%" stop-color="#e6e6ff"/><stop offset="37.22%" stop-color="#e6e6ff"/><stop offset="40.56%" stop-color="#ffe6e6"/><stop offset="42.78%" stop-color="#ffe6e6"/><stop offset="46.11%" stop-color="#ffe6e6"/><stop offset="48.33%" stop-color="#ffe6e6"/><stop offset="51.67%" stop-color="#ffcccc"/><stop offset="53.89%" stop-color="#ffcccc"/><stop offset="57.22%" stop-color="#ffe6e6"/><stop offset="59.44%" stop-color="#ffe6e6"/><stop offset="62.78%" stop-color="#ffffff"/><stop offset="65.00%" stop-color="#ffffff"/><stop offset="68.33%" stop-color="#e6e6ff"/><stop offset="70.56%" stop-color="#e6e6ff"/><stop offset="73.89%" stop-color="#e6e6ff"/><stop offset="76.11%" stop-color="#e6e6ff"/><stop offset="79.44%" stop-color="#e6e6ff"/><stop offset="81.67%" stop-color="#e6e6ff"/><stop offset="85.00%" stop-color="#ccccff"/><stop offset="87.22%" stop-color="#ccccff"/><stop offset="90.56%" stop-color="#ccccff"/><stop offset="92.78%" stop-color="#ccccff"/><stop offset="96.11%" stop-color="#ccccff"/><stop offset="98.33%" stop-color="#ccccff"/></linearGradient>
<linearGradient id="g1_5" x1="0" y1="0" x2="0" y2="1"><stop offset="1.67%" stop-color="#9999ff"/><stop offset="3.89%" stop-color="#9999ff"/><stop offset="7.22%" stop-color="#9999ff"/><stop offset="9.44%" stop-color="#9999ff"/><stop offset="12.78%" stop-color="#9999ff"/><stop offset="15.00%" stop-color="#9999ff"/><stop offset="18.33%" stop-color="#9999ff"/><stop offset="20.56%" stop-color="#9999ff"/><stop offset="23.89%" stop-color="#9999ff"/><stop offset="26.11%" stop-color="#9999ff"/><stop offset="29.44%" stop-color="#9999ff"/><stop offset="31.67%" stop-color="#9999ff"/><stop offset="35.00%" stop-color="#ccccff"/><stop offset="37.22%" stop-color="#ccccff"/><stop offset="40.56%" stop-color="#e6e6ff"/><stop offset="42.78%" stop-color="#e6e6ff"/><stop offset="46.11%" stop-color="#ffe6e6"/><stop offset="48.33%" stop-color="#ffe6e6"/><stop offset="51.67%" stop-color="#ffe6e6"/><stop offset="53.89%" stop-color="#ffe6e6"/><stop offset="57.22%" stop-color="#ffe6e6"/><stop offset="59.44%" stop-color="#ffe6e6"/><stop offset="62.78%" stop-color="#ffffff"/><stop offset="65.00%" stop-color="#ffffff"/><stop offset="68.33%" stop-color="#e6e6ff"/><stop offset="70.56%" stop-color="#e6e6ff"/><stop offset="73.89%" stop-color="#e6e6ff"/><stop offset="76.11%" stop-color="#e6e6ff"/><stop offset="79.44%" stop-color="#e6e6ff"/><stop offset="81.67%" stop-color="#e6e6ff"/><stop offset="85.00%" stop-color="#ccccff"/><stop offset="87.22%" stop-color="#ccccff"/><stop offset="90.56%" stop-color="#ccccff"/><stop offset="92.78%" stop-color="#ccccff"/><stop offset="96.11%" stop-color="#e6e6ff"/><stop offset="98.33%" stop-color="#e6e6ff"/></linearGradient>
<linearGradient id="g1_6" x1="0" y1="0" x2="0" y2="1"><stop offset="1.67%" stop-color="#9999ff"/><stop offset="3.89%" stop-color="#9999ff"/><stop offset="7.22%" stop-color="#b2b2ff"/><stop offset="9.44%" stop-color="#b2b2ff"/><stop offset="12.78%" stop-color="#9999ff"/><stop offset="15.00%" stop-color="#9999ff"/><stop offset="18.33%" stop-color="#b2b2ff"/><stop offset="20.56%" stop-color="#b2b2ff"/><stop offset="23.89%" stop-color="#b2b2ff"/><stop offset="26.11%" stop-color="#b2b2ff"/><stop offset="29.44%" stop-color="#b2b2ff"/><stop offset="31.67%" stop-color="#b2b2ff"/><stop offset="35.00%" stop-color="#ccccff"/><stop offset="37.22%" stop-color="#ccccff"/><stop offset="40.56%" stop-color="#e6e6ff"/><stop offset="42.78%" stop-color="#e6e6ff"/><stop offset="46.11%" stop-color="#ffe6e6"/><stop offset="48.33%" stop-color="#ffe6e6"/><stop offset="51.67%" stop-color="#ffcccc"/><stop offset="53.89%" stop-color="#ffcccc"/><stop offset="57.22%" stop-color="#ffe6e6"/><stop offset="59.44%" stop-color="#ffe6e6"/><stop offset="62.78%" stop-color="#ffffff"/><stop offset="65.00%" stop-color="#ffffff"/><stop offset="68.33%" stop-color="#e6e6ff"/><stop offset="70.56%" stop-color="#e6e6ff"/><stop offset="73.89%" stop-color="#e6e6ff"/><stop offset="76.11%" stop-color="#e6e6ff"/><stop offset="79.44%" stop-color="#e6e6ff"/><stop offset="81.67%" stop-color="#e6e6ff"/><stop offset="85.00%" stop-color="#ccccff"/><stop offset="87.22%" stop-color="#ccccff"/><stop offset="90.56%" stop-color="#b2b2ff"/><stop offset="92.78%" stop-color="#b2b2ff"/><stop offset="96.11%" stop-color="#ccccff"/><stop offset="98.33%" stop-color="#ccccff"/></linearGradient>
<linearGradient id="g1_7" x1="0" y1="0" x2="0" y2="1"><stop offset="1.67%" stop-color="#b2b2ff"/><stop offset="3.89%" stop-color="#b2b2ff"/><stop offset="7.22%" stop-color="#b2b2ff"/><stop offset="9.44%" stop-color="#b2b2ff"/><stop offset="12.78%" stop-color="#9999ff"/><stop offset="15.00%" stop-color="#9999ff"/><stop offset="18.33%" stop-color="#b2b2ff"/><stop offset="20.56%" stop-color="#b2b2ff"/><stop offset="23.89%" stop-color="#b2b2ff"/><stop offset="26.11%" stop-color="#b2b2ff"/><stop offset="29.44%" stop-color="#ccccff"/><stop offset="31.67%" stop-color="#ccccff"/><stop offset="35.00%" stop-color="#e6e6ff"/><stop offset="37.22%" stop-color="#e6e6ff"/><stop offset="40.56%" stop-color="#ffffff"/><stop offset="42.78%" stop-color="#ffffff"/><stop offset="46.11%" stop-color="#ffffff"/><stop offset="48.33%" stop-color="#ffffff"/><stop offset="51.67%" stop-color="#ffffff"/><stop offset="53.89%" stop-color="#ffffff"/><stop offset="57.22%" stop-color="#e6e6ff"/><stop offset="59.44%" stop-color="#e6e6ff"/><stop offset="62.78%" stop-color="#b2b2ff"/><stop offset="65.00%" stop-color="#b2b2ff"/><stop offset="68.33%" stop-color="#8080ff"/><stop offset="70.56%" stop-color="#8080ff"/><stop offset="73.89%" stop-color="#8080ff"/><stop offset="76.11%" stop-color="#8080ff"/><stop offset="79.44%" stop-color="#8080ff"/><stop offset="81.67%" stop-color="#8080ff"/><stop offset="85.00%" stop-color="#8080ff"/><stop offset="87.22%" stop-color="#8080ff"/><stop offset="90.56%" stop-color="#8080ff"/><stop offset="92.78%" stop-color="#8080ff"/><stop offset="96.11%" stop-color="#6666ff"/><stop offset="98.33%" stop-color="#6666ff"/></linearGradient>
<linearGradient id="g1_8" x1="0" y1="0" x2="0" y2="1"><stop offset="1.67%" stop-color="#b2b2ff"/><stop offset="3.89%" stop-color="#b2b2ff"/><stop offset="7.22%" stop-color="#ffffff"/><stop offset="9.44%" stop-color="#ffffff"/><stop offset="12.78%" stop-color="#ccccff"/><stop offset="15.00%" stop-color="#ccccff"/><stop offset="18.33%" stop-color="#b2b2ff"/><stop offset="20.56%" stop-color="#b2b2ff"/><stop offset="23.89%" stop-color="#b2b2ff"/><stop offset="26.11%" stop-color="#b2b2ff"/><stop offset="29.44%" stop-color="#ccccff"/><stop offset="31.67%" stop-color="#ccccff"/><stop offset="35.00%" stop-color="#e6e6ff"/><stop offset="37.22%" stop-color="#e6e6ff"/><stop offset="40.56%" stop-color="#ffffff"/><stop offset="42.78%" stop-color="#ffffff"/><stop offset="46.11%" stop-color="#ffffff"/><stop offset="48.33%" stop-color="#ffffff"/><stop offset="51.67%" stop-color="#ffffff"/><stop offset="53.89%" stop-color="#ffffff"/><stop offset="57.22%" stop-color="#e6e6ff"/><stop offset="59.44%" stop-color="#e6e6ff"/><stop offset="62.78%" stop-color="#b2b2ff"/><stop offset="65.00%" stop-color="#b2b2ff"/><stop offset="68.33%" stop-color="#9999ff"/><stop offset="70.56%" stop-color="#9999ff"/><stop offset="73.89%" stop-color="#8080ff"/><stop offset="76.11%" stop-color="#8080ff"/><stop offset="79.44%" stop-color="#8080ff"/><stop offset="81.67%" stop-color="#8080ff"/><stop offset="85.00%" stop-color="#6666ff"/><stop offset="87.22%" stop-color="#6666ff"/><stop offset="90.56%" stop-color="#6666ff"/><stop offset="92.78%" stop-color="#6666ff"/><stop offset="96.11%" stop-color="#4c4cff"/><stop offset="98.33%" stop-color="#4c4cff"/></linearGradient>
<linearGradient id="g1_9" x1="0" y1="0" x2="0" y2="1"><stop offset="1.67%" stop-color="#b2b2ff"/><stop offset="3.89%" stop-color="#b2b2ff"/><stop offset="7.22%" stop-color="#b2b2ff"/><stop offset="9.44%" stop-color="#b2b2ff"/><stop offset="12.78%" stop-color="#b2b2ff"/><stop offset="15.00%" stop-color="#b2b2ff"/><stop offset="18.33%" stop-color="#b2b2ff"/><stop offset="20.56%" stop-color="#b2b2ff"/><stop offset="23.89%" stop-color="#ccccff"/><stop offset="26.11%" stop-color="#ccccff"/><stop offset="29.44%" stop-color="#ccccff"/><stop offset="31.67%" stop-color="#ccccff"/><stop offset="35.00%" stop-color="#ccccff"/><stop offset="37.22%" stop-color="#ccccff"/><stop offset="40.56%" stop-color="#e6e6ff"/><stop offset="42.78%" stop-color="#e6e6ff"/><stop offset="46.11%" stop-color="#ffffff"/><stop offset="48.33%" stop-color="#ffffff"/><stop offset="51.67%" stop-color="#e6e6ff"/><stop offset="53.89%" stop-color="#e6e6ff"/><stop offset="57.22%" stop-color="#ccccff"/><stop offset="59.44%" stop-color="#ccccff"/><stop offset="62.78%" stop-color="#9999ff"/><stop offset="65.00%" stop-color="#9999ff"/><stop offset="68.33%" stop-color="#8080ff"/><stop offset="70.56%" stop-color="#8080ff"/><stop offset="73.89%" stop-color="#6666ff"/><stop offset="76.11%" stop-color="#6666ff"/><stop offset="79.44%" stop-color="#4c4cff"/><stop offset="81.67%" stop-color="#4c4cff"/><stop offset="85.00%" stop-color="#4c4cff"/><stop offset="87.22%" stop-color="#4c4cff"/><stop offset="90.56%" stop-color="#3333ff"/><stop offset="92.78%" stop-color="#3333ff"/><stop offset="96.11%" stop-color="#1a1aff"/><stop offset="98.33%" stop-color="#1a1aff"/></linearGradient>
<linearGradient id="g1_10" x1="0" y1="0" x2="0" y2="1"><stop offset="1.67%" stop-color="#9999ff"/><stop offset="3.89%" stop-color="#9999ff"/><stop offset="7.22%" stop-color="#8080ff"/><stop offset="9.44%" stop-color="#8080ff"/><stop offset="12.78%" stop-color="#9999ff"/><stop offset="15.00%" stop-color="#9999ff"/><stop offset="18.33%" stop-color="#b2b2ff"/><stop offset="20.56%" stop-color="#b2b2ff"/><stop offset="23.89%" stop-color="#9999ff"/><stop offset="26.11%" stop-color="#9999ff"/><stop offset="29.44%" stop-color="#8080ff"/><stop offset="31.67%" stop-color="#8080ff"/><stop offset="35.00%" stop-color="#b2b2ff"/><stop offset="37.22%" stop-color="#b2b2ff"/><stop offset="40.56%" stop-color="#e6e6ff"/><stop offset="42.78%" stop-color="#e6e6ff"/><stop offset="46.11%" stop-color="#ffffff"/><stop offset="48.33%" stop-color="#ffffff"/><stop offset="51.67%" stop-color="#e6e6ff"/><stop offset="53.89%" stop-color="#e6e6ff"/><stop offset="57.22%" stop-color="#b2b2ff"/><stop offset="59.44%" stop-color="#b2b2ff"/><stop offset="62.78%" stop-color="#6666ff"/><stop offset="65.00%" stop-color="#6666ff"/><stop offset="68.33%" stop-color="#4c4cff"/><stop offset="70.56%" stop-color="#4c4cff"/><stop offset="73.89%" stop-color="#3333ff"/><stop offset="76.11%" stop-color="#3333ff"/><stop offset="79.44%" stop-color="#3333ff"/><stop offset="81.67%" stop-color="#3333ff"/><stop offset="85.00%" stop-color="#3333ff"/><stop offset="87.22%" stop-color="#3333ff"/><stop offset="90.56%" stop-color="#4c4cff"/><stop offset="92.78%" stop-color="#4c4cff"/><stop offset="96.11%" stop-color="#6666ff"/><stop offset="98.33%" stop-color="#6666ff"/></linearGradient>
<linearGradient id="g1_11" x1="0" y1="0" x2="0" y2="1"><stop offset="1.67%" stop-color="#b2b2ff"/><stop offset="3.89%" stop-color="#b2b2ff"/><stop offset="7.22%" stop-color="#9999ff"/><stop offset="9.44%" stop-color="#9999ff"/><stop offset="12.78%" stop-color="#9999ff"/><stop offset="15.00%" stop-color="#9999ff"/><stop offset="18.33%" stop-color="#b2b2ff"/><stop offset="20.56%" stop-color="#b2b2ff"/><stop offset="23.89%" stop-color="#b2b2ff"/><stop offset="26.11%" stop-color="#b2b2ff"/><stop offset="29.44%" stop-color="#9999ff"/><stop offset="31.67%" stop-color="#9999ff"/><stop offset="35.00%" stop-color="#b2b2ff"/><stop offset="37.22%" stop-color="#b2b2ff"/><stop offset="40.56%" stop-color="#ccccff"/><stop offset="42.78%" stop-color="#ccccff"/><stop offset="46.11%" stop-color="#e6e6ff"/><stop offset="48.33%" stop-color="#e6e6ff"/><stop offset="51.67%" stop-color="#e6e6ff"/><stop offset="53.89%" stop-color="#e6e6ff"/><stop offset="57.22%" stop-color="#b2b2ff"/><stop offset="59.44%" stop-color="#b2b2ff"/><stop offset="62.78%" stop-color="#6666ff"/><stop offset="65.00%" stop-color="#6666ff"/><stop offset="68.33%" stop-color="#3333ff"/><stop offset="70.56%" stop-color="#3333ff"/><stop offset="73.89%" stop-color="#0000ff"/><stop offset="76.11%" stop-color="#0000ff"/><stop offset="79.44%" stop-color="#0000ff"/><stop offset="81.67%" stop-color="#0000ff"/><stop offset="85.00%" stop-color="#0000ff"/><stop offset="87.22%" stop-color="#0000ff"/><stop offset="90.56%" stop-color="#0000ff"/><stop offset="92.78%" stop-color="#0000ff"/><stop offset="96.11%" stop-color="#1a1aff"/><stop offset="98.33%" stop-color="#1a1aff"/></linearGradient>
<linearGradient id="g1_12" x1="0" y1="0" x2="0" y2="1"><stop offset="1.67%" stop-color="#e6e6ff"/><stop offset="3.89%" stop-color="#e6e6ff"/><stop offset="7.22%" stop-color="#ffffff"/><stop offset="9.44%" stop-color="#ffffff"/><stop offset="12.78%" stop-color="#ffffff"/><stop offset="15.00%" stop-color="#ffffff"/><stop offset="18.33%" stop-color="#ffffff"/><stop offset="20.56%" stop-color="#ffffff"/><stop offset="23.89%" stop-color="#ffe6e6"/><stop offset="26.11%" stop-color="#ffe6e6"/><stop offset="29.44%" stop-color="#ffb2b2"/><stop offset="31.67%" stop-color="#ffb2b2"/><stop offset="35.00%" stop-color="#ff9999"/><stop offset="37.22%" stop-color="#ff9999"/><stop offset="40.56%" stop-color="#ffcccc"/><stop offset="42.78%" stop-color="#ffcccc"/><stop offset="46.11%" stop-color="#ffffff"/><stop offset="48.33%" stop-color="#ffffff"/><stop offset="51.67%" stop-color="#e6e6ff"/><stop offset="53.89%" stop-color="#e6e6ff"/><stop offset="57.22%" stop-color="#9999ff"/><stop offset="59.44%" stop-color="#9999ff"/><stop offset="62.78%" stop-color="#3333ff"/><stop offset="65.00%" stop-color="#3333ff"/><stop offset="68.33%" stop-color="#0000ff"/><stop offset="70.56%" stop-color="#0000ff"/><stop offset="73.89%" stop-color="#0000ff"/><stop offset="76.11%" stop-color="#0000ff"/><stop offset="79.44%" stop-color="#0000ff"/><stop offset="81.67%" stop-color="#0000ff"/><stop offset="85.00%" stop-color="#0000ff"/><stop offset="87.22%" stop-color="#0000ff"/><stop offset="90.56%" stop-color="#0000ff"/><stop offset="92.78%" stop-color="#0000ff"/><stop offset="96.11%" stop-color="#0000ff"/><stop offset="98.33%" stop-color="#0000ff"/></linearGradient>
<linearGradient id="g1_13" x1="0" y1="0" x2="0" y2="1"><stop offset="1.67%" stop-color="#ffcccc"/><stop offset="3.89%" stop-color="#ffcccc"/><stop offset="7.22%" stop-color="#ffcccc"/><stop offset="9.44%" stop-color="#ffcccc"/><stop offset="12.78%" stop-color="#ffb2b2"/><stop offset="15.00%" stop-color="#ffb2b2"/><stop offset="18.33%" stop-color="#ffb2b2"/><stop offset="20.56%" stop-color="#ffb2b2"/><stop offset="23.89%" stop-color="#ff9999"/><stop offset="26.11%" stop-color="#ff9999"/><stop offset="29.44%" stop-color="#ff9999"/><stop offset="31.67%" stop-color="#ff9999"/><stop offset="35.00%" stop-color="#ff9999"/><stop offset="37.22%" stop-color="#ff9999"/><stop offset="40.56%" stop-color="#ffb2b2"/><stop offset="42.78%" stop-color="#ffb2b2"/><stop offset="46.11%" stop-color="#ffffff"/><stop offset="48.33%" stop-color="#ffffff"/><stop offset="51.67%" stop-color="#ccccff"/><stop offset="53.89%" stop-color="#ccccff"/><stop offset="57.22%" stop-color="#6666ff"/><stop offset="59.44%" stop-color="#6666ff"/><stop offset="62.78%" stop-color="#1a1aff"/><stop offset="65.00%" stop-color="#1a1aff"/><stop offset="68.33%" stop-color="#0000ff"/><stop offset="70.56%" stop-color="#0000ff"/><stop offset="73.89%" stop-color="#0000ff"/><stop offset="76.11%" stop-color="#0000ff"/><stop offset="79.44%" stop-color="#0000ff"/><stop offset="81.67%" stop-color="#0000ff"/><stop offset="85.00%" stop-color="#0000ff"/><stop offset="87.22%" stop-color="#0000ff"/><stop offset="90.56%" stop-color="#0000ff"/><stop offset="92.78%" stop-color="#0000ff"/><stop offset="96.11%" stop-color="#0000ff"/><stop offset="98.33%" stop-color="#0000ff"/></linearGradient>
<linearGradient id="g1_14" x1="0" y1="0" x2="0" y2="1"><stop offset="1.67%" stop-color="#ffb2b2"/><stop offset="3.89%" stop-color="#ffb2b2"/><stop offset="7.22%" stop-color="#ffb2b2"/><stop offset="9.44%" stop-color="#ffb2b2"/><stop offset="12.78%" stop-color="#ff9999"/><stop offset="15.00%" stop-color="#ff9999"/><stop offset="18.33%" stop-color="#ff9999"/><stop offset="20.56%" stop-color="#ff9999"/><stop offset="23.89%" stop-color="#ffb2b2"/><stop offset="26.11%" stop-color="#ffb2b2"/><stop offset="29.44%" stop-color="#ffcccc"/><stop offset="31.67%" stop-color="#ffcccc"/><stop offset="35.00%" stop-color="#ffcccc"/><stop offset="37.22%" stop-color="#ffcccc"/><stop offset="40.56%" stop-color="#ffe6e6"/><stop offset="42.78%" stop-color="#ffe6e6"/><stop offset="46.11%" stop-color="#ffffff"/><stop offset="48.33%" stop-color="#ffffff"/><stop offset="51.67%" stop-color="#ccccff"/><stop offset="53.89%" stop-color="#ccccff"/><stop offset="57.22%" stop-color="#4c4cff"/><stop offset="59.44%" stop-color="#4c4cff"/><stop offset="62.78%" stop-color="#1a1aff"/><stop offset="65.00%" stop-color="#1a1aff"/><stop offset="68.33%" stop-color="#0000ff"/><stop offset="70.56%" stop-color="#0000ff"/><stop offset="73.89%" stop-color="#0000ff"/><stop offset="76.11%" stop-color="#0000ff"/><stop offset="79.44%" stop-color="#0000f2"/><stop offset="81.67%" stop-color="#0000f2"/><stop offset="85.00%" stop-color="#0000f2"/><stop offset="87.22%" stop-color="#0000f2"/><stop offset="90.56%" stop-color="#0000f2"/><stop offset="92.78%" stop-color="#0000f2"/><stop offset="96.11%" stop-color="#0000f2"/><stop offset="98.33%" stop-color="#0000f2"/></linearGradient>
<linearGradient id="g1_15" x1="0" y1="0" x2="0" y2="1"><stop offset="1.67%" stop-color="#ffcccc"/><stop offset="3.89%" stop-color="#ffcccc"/><stop offset="7.22%" stop-color="#ffcccc"/><stop offset="9.44%" stop-color="#ffcccc"/><stop offset="12.78%" stop-color="#ffcccc"/><stop offset="15.00%" stop-color="#ffcccc"/><stop offset="18.33%" stop-color="#ffcccc"/><stop offset="20.56%" stop-color="#ffcccc"/><stop offset="23.89%" stop-color="#ffe6e6"/><stop offset="26.11%" stop-color="#ffe6e6"/><stop offset="29.44%" stop-color="#ffe6e6"/><stop offset="31.67%" stop-color="#ffe6e6"/><stop offset="35.00%" stop-color="#ffffff"/><stop offset="37.22%" stop-color="#ffffff"/><stop offset="40.56%" stop-color="#ccccff"/><stop offset="42.78%" stop-color="#ccccff"/><stop offset="46.11%" stop-color="#9999ff"/><stop offset="48.33%" stop-color="#9999ff"/><stop offset="51.67%" stop-color="#6666ff"/><stop offset="53.89%" stop-color="#6666ff"/><stop offset="57.22%" stop-color="#4c4cff"/><stop offset="59.44%" stop-color="#4c4cff"/><stop offset="62.78%" stop-color="#0000ff"/><stop offset="65.00%" stop-color="#0000ff"/><stop offset="68.33%" stop-color="#0000ff"/><stop offset="70.56%" stop-color="#0000ff"/><stop offset="73.89%" stop-color="#0000ff"/><stop offset="76.11%" stop-color="#0000ff"/><stop offset="79.44%" stop-color="#0000ff"/><stop offset="81.67%" stop-color="#0000ff"/><stop offset="85.00%" stop-color="#0000ff"/><stop offset="87.22%" stop-color="#0000ff"/><stop offset="90.56%" stop-color="#0000ff"/><stop offset="92.78%" stop-color="#0000ff"/><stop offset="96.11%" stop-color="#0000ff"/><stop offset="98.33%" stop-color="#0000ff"/></linearGradient>
<linearGradient id="g1_16" x1="0" y1="0" x2="0" y2="1"><stop offset="1.67%" stop-color="#ccccff"/><stop offset="3.89%" stop-color="#ccccff"/><stop offset="7.22%" stop-color="#ccccff"/><stop offset="9.44%" stop-color="#ccccff"/><stop offset="12.78%" stop-color="#ccccff"/><stop offset="15.00%" stop-color="#ccccff"/><stop offset="18.33%" stop-color="#b2b2ff"/><stop offset="20.56%" stop-color="#b2b2ff"/><stop offset="23.89%" stop-color="#8080ff"/><stop offset="26.11%" stop-color="#8080ff"/><stop offset="29.44%" stop-color="#6666ff"/><stop offset="31.67%" stop-color="#6666ff"/><stop offset="35.00%" stop-color="#4c4cff"/><stop offset="37.22%" stop-color="#4c4cff"/><stop offset="40.56%" stop-color="#3333ff"/><stop offset="42.78%" stop-color="#3333ff"/><stop offset="46.11%" stop-color="#1a1aff"/><stop offset="48.33%" stop-color="#1a1aff"/><stop offset="51.67%" stop-color="#0000ff"/><stop offset="53.89%" stop-color="#0000ff"/><stop offset="57.22%" stop-color="#0000ff"/><stop offset="59.44%" stop-color="#0000ff"/><stop offset="62.78%" stop-color="#0000ff"/><stop offset="65.00%" stop-color="#0000ff"/><stop offset="68.33%" stop-color="#0000ff"/><stop offset="70.56%" stop-color="#0000ff"/><stop offset="73.89%" stop-color="#0000ff"/><stop offset="76.11%" stop-color="#0000ff"/><stop offset="79.44%" stop-color="#0000ff"/><stop offset="81.67%" stop-color="#0000ff"/><stop offset="85.00%" stop-color="#0000ff"/><stop offset="87.22%" stop-color="#0000ff"/><stop offset="90.56%" stop-color="#0000ff"/><stop offset="92.78%" stop-color="#0000ff"/><stop offset="96.11%" stop-color="#0000ff"/><stop offset="98.33%" stop-color="#0000ff"/></linearGradient>
<linearGradient id="g1_17" x1="0" y1="0" x2="0" y2="1"><stop offset="1.67%" stop-color="#8080ff"/><stop offset="3.89%" stop-color="#8080ff"/><stop offset="7.22%" stop-color="#8080ff"/><stop offset="9.44%" stop-color="#8080ff"/><stop offset="12.78%" stop-color="#8080ff"/><stop offset="15.00%" stop-color="#8080ff"/><stop offset="18.33%" stop-color="#4c4cff"/><stop offset="20.56%" stop-color="#4c4cff"/><stop offset="23.89%" stop-color="#4c4cff"/><stop offset="26.11%" stop-color="#4c4cff"/><stop offset="29.44%" stop-color="#4c4cff"/><stop offset="31.67%" stop-color="#4c4cff"/><stop offset="35.00%" stop-color="#3333ff"/><stop offset="37.22%" stop-color="#3333ff"/><stop offset="40.56%" stop-color="#0000ff"/><stop offset="42.78%" stop-color="#0000ff"/><stop offset="46.11%" stop-color="#0000ff"/><stop offset="48.33%" stop-color="#0000ff"/><stop offset="51.67%" stop-color="#0000ff"/><stop offset="53.89%" stop-color="#0000ff"/><stop offset="57.22%" stop-color="#0000ff"/><stop offset="59.44%" stop-color="#0000ff"/><stop offset="62.78%" stop-color="#0000ff"/><stop offset="65.00%" stop-color="#0000ff"/><stop offset="68.33%" stop-color="#0000ff"/><stop offset="70.56%" stop-color="#0000ff"/><stop offset="73.89%" stop-color="#0000ff"/><stop offset="76.11%" stop-color="#0000ff"/><stop offset="79.44%" stop-color="#0000ff"/><stop offset="81.67%" stop-color="#0000ff"/><stop offset="85.00%" stop-color="#0000ff"/><stop offset="87.22%" stop-color="#0000ff"/><stop offset="90.56%" stop-color="#0000ff"/><stop offset="92.78%" stop-color="#0000ff"/><stop offset="96.11%" stop-color="#0000ff"/><stop offset="98.33%" stop-color="#0000ff"/></linearGradient>
<linearGradient id="g1_18" x1="0" y1="0" x2="0" y2="1"><stop offset="1.67%" stop-color="#6666ff"/><stop offset="3.89%" stop-color="#6666ff"/><stop offset="7.22%" stop-color="#6666ff"/><stop offset="9.44%" stop-color="#6666ff"/><stop offset="12.78%" stop-color="#6666ff"/><stop offset="15.00%" stop-color="#6666ff"/><stop offset="18.33%" stop-color="#6666ff"/><stop offset="20.56%" stop-color="#6666ff"/><stop offset="23.89%" stop-color="#6666ff"/><stop offset="26.11%" stop-color="#6666ff"/><stop offset="29.44%" stop-color="#8080ff"/><stop offset="31.67%" stop-color="#8080ff"/><stop offset="35.00%" stop-color="#ffffff"/><stop offset="37.22%" stop-color="#ffffff"/><stop offset="40.56%" stop-color="#ffffff"/><stop offset="42.78%" stop-color="#ffffff"/><stop offset="46.11%" stop-color="#ccccff"/><stop offset="48.33%" stop-color="#ccccff"/><stop offset="51.67%" stop-color="#9999ff"/><stop offset="53.89%" stop-color="#9999ff"/><stop offset="57.22%" stop-color="#6666ff"/><stop offset="59.44%" stop-color="#6666ff"/><stop offset="62.78%" stop-color="#4c4cff"/><stop offset="65.00%" stop-color="#4c4cff"/><stop offset="68.33%" stop-color="#3333ff"/><stop offset="70.56%" stop-color="#3333ff"/><stop offset="73.89%" stop-color="#0000ff"/><stop offset="76.11%" stop-color="#0000ff"/><stop offset="79.44%" stop-color="#0000ff"/><stop offset="81.67%" stop-color="#0000ff"/><stop offset="85.00%" stop-color="#0000ff"/><stop offset="87.22%" stop-color="#0000ff"/><stop offset="90.56%" stop-color="#0000ff"/><stop offset="92.78%" stop-color="#0000ff"/><stop offset="96.11%" stop-color="#0000ff"/><stop offset="98.33%" stop-color="#0000ff"/></linearGradient>
<linearGradient id="g1_19" x1="0" y1="0" x2="0" y2="1"><stop offset="1.67%" stop-color="#3333ff"/><stop offset="3.89%" stop-color="#3333ff"/><stop offset="7.22%" stop-color="#3333ff"/><stop offset="9.44%" stop-color="#3333ff"/><stop offset="12.78%" stop-color="#4c4cff"/><stop offset="15.00%" stop-color="#4c4cff"/><stop offset="18.33%" stop-color="#6666ff"/><stop offset="20.56%" stop-color="#6666ff"/><stop offset="23.89%" stop-color="#8080ff"/><stop offset="26.11%" stop-color="#8080ff"/><stop offset="29.44%" stop-color="#9999ff"/><stop offset="31.67%" stop-color="#9999ff"/><stop offset="35.00%" stop-color="#b2b2ff"/><stop offset="37.22%" stop-color="#b2b2ff"/><stop offset="40.56%" stop-color="#ccccff"/><stop offset="42.78%" stop-color="#ccccff"/><stop offset="46.11%" stop-color="#ccccff"/><stop offset="48.33%" stop-color="#ccccff"/><stop offset="51.67%" stop-color="#b2b2ff"/><stop offset="53.89%" stop-color="#b2b2ff"/><stop offset="57.22%" stop-color="#9999ff"/><stop offset="59.44%" stop-color="#9999ff"/><stop offset="62.78%" stop-color="#8080ff"/><stop offset="65.00%" stop-color="#8080ff"/><stop offset="68.33%" stop-color="#8080ff"/><stop offset="70.56%" stop-color="#8080ff"/><stop offset="73.89%" stop-color="#8080ff"/><stop offset="76.11%" stop-color="#8080ff"/><stop offset="79.44%" stop-color="#6666ff"/><stop offset="81.67%" stop-color="#6666ff"/><stop offset="85.00%" stop-color="#6666ff"/><stop offset="87.22%" stop-color="#6666ff"/><stop offset="90.56%" stop-color="#6666ff"/><stop offset="92.78%" stop-color="#6666ff"/><stop offset="96.11%" stop-color="#4c4cff"/><stop offset="98.33%" stop-color="#4c4cff"/></linearGradient>
<linearGradient id="g1_20" x1="0" y1="0" x2="0" y2="1"><stop offset="1.67%" stop-color="#0000ff"/><stop offset="3.89%" stop-color="#0000ff"/><stop offset="7.22%" stop-color="#0000ff"/><stop offset="9.44%" stop-color="#0000ff"/><stop offset="12.78%" stop-color="#1a1aff"/><stop offset="15.00%" stop-color="#1a1aff"/><stop offset="18.33%" stop-color="#1a1aff"/><stop offset="20.56%" stop-color="#1a1aff"/><stop offset="23.89%" stop-color="#6666ff"/><stop offset="26.11%" stop-color="#6666ff"/><stop offset="29.44%" stop-color="#9999ff"/><stop offset="31.67%" stop-color="#9999ff"/><stop offset="35.00%" stop-color="#ccccff"/><stop offset="37.22%" stop-color="#ccccff"/><stop offset="40.56%" stop-color="#ccccff"/><stop offset="42.78%" stop-color="#ccccff"/><stop offset="46.11%" stop-color="#ccccff"/><stop offset="48.33%" stop-color="#ccccff"/><stop offset="51.67%" stop-color="#b2b2ff"/><stop offset="53.89%" stop-color="#b2b2ff"/><stop offset="57.22%" stop-color="#b2b2ff"/><stop offset="59.44%" stop-color="#b2b2ff"/><stop offset="62.78%" stop-color="#b2b2ff"/><stop offset="65.00%" stop-color="#b2b2ff"/><stop offset="68.33%" stop-color="#b2b2ff"/><stop offset="70.56%" stop-color="#b2b2ff"/><stop offset="73.89%" stop-color="#b2b2ff"/><stop offset="76.11%" stop-color="#b2b2ff"/><stop offset="79.44%" stop-color="#9999ff"/><stop offset="81.67%" stop-color="#9999ff"/><stop offset="85.00%" stop-color="#9999ff"/><stop offset="87.22%" stop-color="#9999ff"/><stop offset="90.56%" stop-color="#9999ff"/><stop offset="92.78%" stop-color="#9999ff"/><stop offset="96.11%" stop-color="#8080ff"/><stop offset="98.33%" stop-color="#8080ff"/></linearGradient>
<linearGradient id="g1_21" x1="0" y1="0" x2="0" y2="1"><stop offset="1.67%" stop-color="#0000ff"/><stop offset="3.89%" stop-color="#0000ff"/><stop offset="7.22%" stop-color="#0000ff"/><stop offset="9.44%" stop-color="#0000ff"/><stop offset="12.78%" stop-color="#0000ff"/><stop offset="15.00%" stop-color="#0000ff"/><stop offset="18.33%" stop-color="#0000ff"/><stop offset="20.56%" stop-color="#0000ff"/><stop offset="23.89%" stop-color="#8080ff"/><stop offset="26.11%" stop-color="#8080ff"/><stop offset="29.44%" stop-color="#b2b2ff"/><stop offset="31.67%" stop-color="#b2b2ff"/><stop offset="35.00%" stop-color="#e6e6ff"/><stop offset="37.22%" stop-color="#e6e6ff"/><stop offset="40.56%" stop-color="#ffffff"/><stop offset="42.78%" stop-color="#ffffff"/><stop offset="46.11%" stop-color="#e6e6ff"/><stop offset="48.33%" stop-color="#e6e6ff"/><stop offset="51.67%" stop-color="#ccccff"/><stop offset="53.89%" stop-color="#ccccff"/><stop offset="57.22%" stop-color="#ccccff"/><stop offset="59.44%" stop-color="#ccccff"/><stop offset="62.78%" stop-color="#ccccff"/><stop offset="65.00%" stop-color="#ccccff"/><stop offset="68.33%" stop-color="#e6e6ff"/><stop offset="70.56%" stop-color="#e6e6ff"/><stop offset="73.89%" stop-color="#e6e6ff"/><stop offset="76.11%" stop-color="#e6e6ff"/><stop offset="79.44%" stop-color="#e6e6ff"/><stop offset="81.67%" stop-color="#e6e6ff"/><stop offset="85.00%" stop-color="#e6e6ff"/><stop offset="87.22%" stop-color="#e6e6ff"/><stop offset="90.56%" stop-color="#e6e6ff"/><stop offset="92.78%" stop-color="#e6e6ff"/><stop offset="96.11%" stop-color="#ccccff"/><stop offset="98.33%" stop-color="#ccccff"/></linearGradient>
<linearGradient id="g1_22" x1="0" y1="0" x2="0" y2="1"><stop offset="1.67%" stop-color="#0000ff"/><stop offset="3.89%" stop-color="#0000ff"/><stop offset="7.22%" stop-color="#0000ff"/><stop offset="9.44%" stop-color="#0000ff"/><stop offset="12.78%" stop-color="#0000ff"/><stop offset="15.00%" stop-color="#0000ff"/><stop offset="18.33%" stop-color="#0000ff"/><stop offset="20.56%" stop-color="#0000ff"/><stop offset="23.89%" stop-color="#6666ff"/><stop offset="26.11%" stop-color="#6666ff"/><stop offset="29.44%" stop-color="#ccccff"/><stop offset="31.67%" stop-color="#ccccff"/><stop offset="35.00%" stop-color="#ffe6e6"/><stop offset="37.22%" stop-color="#ffe6e6"/><stop offset="40.56%" stop-color="#ff9999"/><stop offset="42.78%" stop-color="#ff9999"/><stop offset="46.11%" stop-color="#ff4c4c"/><stop offset="48.33%" stop-color="#ff4c4c"/><stop offset="51.67%" stop-color="#ff0000"/><stop offset="53.89%" stop-color="#ff0000"/><stop offset="57.22%" stop-color="#ff0000"/><stop offset="59.44%" stop-color="#ff0000"/><stop offset="62.78%" stop-color="#ff0000"/><stop offset="65.00%" stop-color="#ff0000"/><stop offset="68.33%" stop-color="#ff0000"/><stop offset="70.56%" stop-color="#ff0000"/><stop offset="73.89%" stop-color="#f20000"/><stop offset="76.11%" stop-color="#f20000"/><stop offset="79.44%" stop-color="#f20000"/><stop offset="81.67%" stop-color="#f20000"/><stop offset="85.00%" stop-color="#f20000"/><stop offset="87.22%" stop-color="#f20000"/><stop offset="90.56%" stop-color="#f20000"/><stop offset="92.78%" stop-color="#f20000"/><stop offset="96.11%" stop-color="#ff0000"/><stop offset="98.33%" stop-color="#ff0000"/></linearGradient>
<linearGradient id="g1_23" x1="0" y1="0" x2="0" y2="1"><stop offset="1.67%" stop-color="#0000ff"/><stop offset="3.89%" stop-color="#0000ff"/><stop offset="7.22%" stop-color="#0000ff"/><stop offset="9.44%" stop-color="#0000ff"/><stop offset="12.78%" stop-color="#0000ff"/><stop offset="15.00%" stop-color="#0000ff"/><stop offset="18.33%" stop-color="#0000ff"/><stop offset="20.56%" stop-color="#0000ff"/><stop offset="23.89%" stop-color="#0000ff"/><stop offset="26.11%" stop-color="#0000ff"/><stop offset="29.44%" stop-color="#4c4cff"/><stop offset="31.67%" stop-color="#4c4cff"/><stop offset="35.00%" stop-color="#9999ff"/><stop offset="37.22%" stop-color="#9999ff"/><stop offset="40.56%" stop-color="#e6e6ff"/><stop offset="42.78%" stop-color="#e6e6ff"/><stop offset="46.11%" stop-color="#ffe6e6"/><stop offset="48.33%" stop-color="#ffe6e6"/><stop offset="51.67%" stop-color="#ffb2b2"/><stop offset="53.89%" stop-color="#ffb2b2"/><stop offset="57.22%" stop-color="#ff6666"/><stop offset="59.44%" stop-color="#ff6666"/><stop offset="62.78%" stop-color="#ff3333"/><stop offset="65.00%" stop-color="#ff3333"/><stop offset="68.33%" stop-color="#ff0000"/><stop offset="70.56%" stop-color="#ff0000"/><stop offset="73.89%" stop-color="#f20000"/><stop offset="76.11%" stop-color="#f20000"/><stop offset="79.44%" stop-color="#f20000"/><stop offset="81.67%" stop-color="#f20000"/><stop offset="85.00%" stop-color="#f20000"/><stop offset="87.22%" stop-color="#f20000"/><stop offset="90.56%" stop-color="#f20000"/><stop offset="92.78%" stop-color="#f20000"/><stop offset="96.11%" stop-color="#ff0000"/><stop offset="98.33%" stop-color="#ff0000"/></linearGradient>
<linearGradient id="g1_24" x1="0" y1="0" x2="0" y2="1"><stop offset="1.67%" stop-color="#0000ff"/><stop offset="3.89%" stop-color="#0000ff"/><stop offset="7.22%" stop-color="#0000ff"/><stop offset="9.44%" stop-color="#0000ff"/><stop offset="12.78%" stop-color="#0000ff"/><stop offset="15.00%" stop-color="#0000ff"/><stop offset="18.33%" stop-color="#0000ff"/><stop offset="20.56%" stop-color="#0000ff"/><stop offset="23.89%" stop-color="#0000ff"/><stop offset="26.11%" stop-color="#0000ff"/><stop offset="29.44%" stop-color="#3333ff"/><stop offset="31.67%" stop-color="#3333ff"/><stop offset="35.00%" stop-color="#8080ff"/><stop offset="37.22%" stop-color="#8080ff"/><stop offset="40.56%" stop-color="#ccccff"/><stop offset="42.78%" stop-color="#ccccff"/><stop offset="46.11%" stop-color="#ffffff"/><stop offset="48.33%" stop-color="#ffffff"/><stop offset="51.67%" stop-color="#ffcccc"/><stop offset="53.89%" stop-color="#ffcccc"/><stop offset="57.22%" stop-color="#ff9999"/><stop offset="59.44%" stop-color="#ff9999"/><stop offset="62.78%" stop-color="#ff4c4c"/><stop offset="65.00%" stop-color="#ff4c4c"/><stop offset="68.33%" stop-color="#ff1a1a"/><stop offset="70.56%" stop-color="#ff1a1a"/><stop offset="73.89%" stop-color="#ff0000"/><stop offset="76.11%" stop-color="#ff0000"/><stop offset="79.44%" stop-color="#f20000"/><stop offset="81.67%" stop-color="#f20000"/><stop offset="85.00%" stop-color="#f20000"/><stop offset="87.22%" stop-color="#f20000"/><stop offset="90.56%" stop-color="#f20000"/><stop offset="92.78%" stop-color="#f20000"/><stop offset="96.11%" stop-color="#ff0000"/><stop offset="98.33%" stop-color="#ff0000"/></linearGradient>
<linearGradient id="g2_0" x1="0" y1="0" x2="0" y2="1"><stop offset="1.67%" stop-color="#b2b2ff"/><stop offset="3.89%" stop-color="#b2b2ff"/><stop offset="7.22%" stop-color="#b2b2ff"/><stop offset="9.44%" stop-color="#b2b2ff"/><stop offset="12.78%" stop-color="#b2b2ff"/><stop offset="15.00%" stop-color="#b2b2ff"/><stop offset="18.33%" stop-color="#b2b2ff"/><stop offset="20.56%" stop-color="#b2b2ff"/><stop offset="23.89%" stop-color="#b2b2ff"/><stop offset="26.11%" stop-color="#b2b2ff"/><stop offset="29.44%" stop-color="#e6e6ff"/><stop offset="31.67%" stop-color="#e6e6ff"/><stop offset="35.00%" stop-color="#ccccff"/><stop offset="37.22%" stop-color="#ccccff"/><stop offset="40.56%" stop-color="#e6e6ff"/><stop offset="42.78%" stop-color="#e6e6ff"/><stop offset="46.11%" stop-color="#ffe6e6"/><stop offset="48.33%" stop-color="#ffe6e6"/><stop offset="51.67%" stop-color="#ffcccc"/><stop offset="53.89%" stop-color="#ffcccc"/><stop offset="57.22%" stop-color="#ffb2b2"/><stop offset="59.44%" stop-color="#ffb2b2"/><stop offset="62.78%" stop-color="#ffb2b2"/><stop offset="65.00%" stop-color="#ffb2b2"/><stop offset="68.33%" stop-color="#ffcccc"/><stop offset="70.56%" stop-color="#ffcccc"/><stop offset="73.89%" stop-color="#ccccff"/><stop offset="76.11%" stop-color="#ccccff"/><stop offset="79.44%" stop-color="#ccccff"/><stop offset="81.67%" stop-color="#ccccff"/><stop offset="85.00%" stop-color="#e6e6ff"/><stop offset="87.22%" stop-color="#e6e6ff"/><stop offset="90.56%" stop-color="#ccccff"/><stop offset="92.78%" stop-color="#ccccff"/><stop offset="96.11%" stop-color="#ccccff"/><stop offset="98.33%" stop-color="#ccccff"/></linearGradient>
<linearGradient id="g2_1" x1="0" y1="0" x2="0" y2="1"><stop offset="1.67%" stop-color="#b2b2ff"/><stop offset="3.89%" stop-color="#b2b2ff"/><stop offset="7.22%" stop-color="#b2b2ff"/><stop offset="9.44%" stop-color="#b2b2ff"/><stop offset="12.78%" stop-color="#b2b2ff"/><stop offset="15.00%" stop-color="#b2b2ff"/><stop offset="18.33%" stop-color="#b2b2ff"/><stop offset="20.56%" stop-color="#b2b2ff"/><stop offset="23.89%" stop-color="#b2b2ff"/><stop offset="26.11%" stop-color="#b2b2ff"/><stop offset="29.44%" stop-color="#e6e6ff"/><stop offset="31.67%" stop-color="#e6e6ff"/><stop offset="35.00%" stop-color="#ccccff"/><stop offset="37.22%" stop-color="#ccccff"/><stop offset="40.56%" stop-color="#e6e6ff"/><stop offset="42.78%" stop-color="#e6e6ff"/><stop offset="46.11%" stop-color="#ffe6e6"/><stop offset="48.33%" stop-color="#ffe6e6"/><stop offset="51.67%" stop-color="#ffcccc"/><stop offset="53.89%" stop-color="#ffcccc"/><stop offset="57.22%" stop-color="#ffb2b2"/><stop offset="59.44%" stop-color="#ffb2b2"/><stop offset="62.78%" stop-color="#ffb2b2"/><stop offset="65.00%" stop-color="#ffb2b2"/><stop offset="68.33%" stop-color="#ffcccc"/><stop offset="70.56%" stop-color="#ffcccc"/><stop offset="73.89%" stop-color="#ccccff"/><stop offset="76.11%" stop-color="#ccccff"/><stop offset="79.44%" stop-color="#e6e6ff"/><stop offset="81.67%" stop-color="#e6e6ff"/><stop offset="85.00%" stop-color="#e6e6ff"/><stop offset="87.22%" stop-color="#e6e6ff"/><stop offset="90.56%" stop-color="#ccccff"/><stop offset="92.78%" stop-color="#ccccff"/><stop offset="96.11%" stop-color="#ccccff"/><stop offset="98.33%" stop-color="#ccccff"/></linearGradient>
<linearGradient id="g2_2" x1="0" y1="0" x2="0" y2="1"><stop offset="1.67%" stop-color="#b2b2ff"/><stop offset="3.89%" stop-color="#b2b2ff"/><stop offset="7.22%" stop-color="#b2b2ff"/><stop offset="9.44%" stop-color="#b2b2ff"/><stop offset="12.78%" stop-color="#b2b2ff"/><stop offset="15.00%" stop-color="#b2b2ff"/><stop offset="18.33%" stop-color="#b2b2ff"/><stop offset="20.56%" stop-color="#b2b2ff"/><stop offset="23.89%" stop-color="#b2b2ff"/><stop offset="26.11%" stop-color="#b2b2ff"/><stop offset="29.44%" stop-color="#ccccff"/><stop offset="31.67%" stop-color="#ccccff"/><stop offset="35.00%" stop-color="#e6e6ff"/><stop offset="37.22%" stop-color="#e6e6ff"/><stop offset="40.56%" stop-color="#e6e6ff"/><stop offset="42.78%" stop-color="#e6e6ff"/><stop offset="46.11%" stop-color="#ffe6e6"/><stop offset="48.33%" stop-color="#ffe6e6"/><stop offset="51.67%" stop-color="#ffcccc"/><stop offset="53.89%" stop-color="#ffcccc"/><stop offset="57.22%" stop-color="#ffb2b2"/><stop offset="59.44%" stop-color="#ffb2b2"/><stop offset="62.78%" stop-color="#ffcccc"/><stop offset="65.00%" stop-color="#ffcccc"/><stop offset="68.33%" stop-color="#ffe6e6"/><stop offset="70.56%" stop-color="#ffe6e6"/><stop offset="73.89%" stop-color="#ccccff"/><stop offset="76.11%" stop-color="#ccccff"/><stop offset="79.44%" stop-color="#ccccff"/><stop offset="81.67%" stop-color="#ccccff"/><stop offset="85.00%" stop-color="#e6e6ff"/><stop offset="87.22%" stop-color="#e6e6ff"/><stop offset="90.56%" stop-color="#b2b2ff"/><stop offset="92.78%" stop-color="#b2b2ff"/><stop offset="96.11%" stop-color="#ccccff"/><stop offset="98.33%" stop-color="#ccccff"/></linearGradient>
<linearGradient id="g2_3" x1="0" y1="0" x2="0" y2="1"><stop offset="1.67%" stop-color="#9999ff"/><stop offset="3.89%" stop-color="#9999ff"/><stop offset="7.22%" stop-color="#b2b2ff"/><stop offset="9.44%" stop-color="#b2b2ff"/><stop offset="12.78%" stop-color="#ccccff"/><stop offset="15.00%" stop-color="#ccccff"/><stop offset="18.33%" stop-color="#ccccff"/><stop offset="20.56%" stop-color="#ccccff"/><stop offset="23.89%" stop-color="#ccccff"/><stop offset="26.11%" stop-color="#ccccff"/><stop offset="29.44%" stop-color="#e6e6ff"/><stop offset="31.67%" stop-color="#e6e6ff"/><stop offset="35.00%" stop-color="#e6e6ff"/><stop offset="37.22%" stop-color="#e6e6ff"/><stop offset="40.56%" stop-color="#e6e6ff"/><stop offset="42.78%" stop-color="#e6e6ff"/><stop offset="46.11%" stop-color="#ffffff"/><stop offset="48.33%" stop-color="#ffffff"/><stop offset="51.67%" stop-color="#ffe6e6"/><stop offset="53.89%" stop-color="#ffe6e6"/><stop offset="57.22%" stop-color="#ffcccc"/><stop offset="59.44%" stop-color="#ffcccc"/><stop offset="62.78%" stop-color="#ffcccc"/><stop offset="65.00%" stop-color="#ffcccc"/><stop offset="68.33%" stop-color="#ffe6e6"/><stop offset="70.56%" stop-color="#ffe6e6"/><stop offset="73.89%" stop-color="#ccccff"/><stop offset="76.11%" stop-color="#ccccff"/><stop offset="79.44%" stop-color="#b2b2ff"/><stop offset="81.67%" stop-color="#b2b2ff"/><stop offset="85.00%" stop-color="#b2b2ff"/><stop offset="87.22%" stop-color="#b2b2ff"/><stop offset="90.56%" stop-color="#9999ff"/><stop offset="92.78%" stop-color="#9999ff"/><stop offset="96.11%" stop-color="#b2b2ff"/><stop offset="98.33%" stop-color="#b2b2ff"/></linearGradient>
<linearGradient id="g2_4" x1="0" y1="0" x2="0" y2="1"><stop offset="1.67%" stop-color="#9999ff"/><stop offset="3.89%" stop-color="#9999ff"/><stop offset="7.22%" stop-color="#9999ff"/><stop offset="9.44%" stop-color="#9999ff"/><stop offset="12.78%" stop-color="#b2b2ff"/><stop offset="15.00%" stop-color="#b2b2ff"/><stop offset="18.33%" stop-color="#b2b2ff"/><stop offset="20.56%" stop-color="#b2b2ff"/><stop offset="23.89%" stop-color="#b2b2ff"/><stop offset="26.11%" stop-color="#b2b2ff"/><stop offset="29.44%" stop-color="#ccccff"/><stop offset="31.67%" stop-color="#ccccff"/><stop offset="35.00%" stop-color="#ccccff"/><stop offset="37.22%" stop-color="#ccccff"/><stop offset="40.56%" stop-color="#e6e6ff"/><stop offset="42.78%" stop-color="#e6e6ff"/><stop offset="46.11%" stop-color="#e6e6ff"/><stop offset="48.33%" stop-color="#e6e6ff"/><stop offset="51.67%" stop-color="#ffffff"/><stop offset="53.89%" stop-color="#ffffff"/><stop offset="57.22%" stop-color="#e6e6ff"/><stop offset="59.44%" stop-color="#e6e6ff"/><stop offset="62.78%" stop-color="#e6e6ff"/><stop offset="65.00%" stop-color="#e6e6ff"/><stop offset="68.33%" stop-color="#ccccff"/><stop offset="70.56%" stop-color="#ccccff"/><stop offset="73.89%" stop-color="#ccccff"/><stop offset="76.11%" stop-color="#ccccff"/><stop offset="79.44%" stop-color="#ccccff"/><stop offset="81.67%" stop-color="#ccccff"/><stop offset="85.00%" stop-color="#ccccff"/><stop offset="87.22%" stop-color="#ccccff"/><stop offset="90.56%" stop-color="#b2b2ff"/><stop offset="92.78%" stop-color="#b2b2ff"/><stop offset="96.11%" stop-color="#b2b2ff"/><stop offset="98.33%" stop-color="#b2b2ff"/></linearGradient>
<linearGradient id="g2_5" x1="0" y1="0" x2="0" y2="1"><stop offset="1.67%" stop-color="#8080ff"/><stop offset="3.89%" stop-color="#8080ff"/><stop offset="7.22%" stop-color="#9999ff"/><stop offset="9.44%" stop-color="#9999ff"/><stop offset="12.78%" stop-color="#9999ff"/><stop offset="15.00%" stop-color="#9999ff"/><stop offset="18.33%" stop-color="#b2b2ff"/><stop offset="20.56%" stop-color="#b2b2ff"/><stop offset="23.89%" stop-color="#b2b2ff"/><stop offset="26.11%" stop-color="#b2b2ff"/><stop offset="29.44%" stop-color="#e6e6ff"/><stop offset="31.67%" stop-color="#e6e6ff"/><stop offset="35.00%" stop-color="#e6e6ff"/><stop offset="37.22%" stop-color="#e6e6ff"/><stop offset="40.56%" stop-color="#e6e6ff"/><stop offset="42.78%" stop-color="#e6e6ff"/><stop offset="46.11%" stop-color="#e6e6ff"/><stop offset="48.33%" stop-color="#e6e6ff"/><stop offset="51.67%" stop-color="#e6e6ff"/><stop offset="53.89%" stop-color="#e6e6ff"/><stop offset="57.22%" stop-color="#ffffff"/><stop offset="59.44%" stop-color="#ffffff"/><stop offset="62.78%" stop-color="#e6e6ff"/><stop offset="65.00%" stop-color="#e6e6ff"/><stop offset="68.33%" stop-color="#ccccff"/><stop offset="70.56%" stop-color="#ccccff"/><stop offset="73.89%" stop-color="#ccccff"/><stop offset="76.11%" stop-color="#ccccff"/><stop offset="79.44%" stop-color="#e6e6ff"/><stop offset="81.67%" stop-color="#e6e6ff"/><stop offset="85.00%" stop-color="#ffe6e6"/><stop offset="87.22%" stop-color="#ffe6e6"/><stop offset="90.56%" stop-color="#e6e6ff"/><stop offset="92.78%" stop-color="#e6e6ff"/><stop offset="96.11%" stop-color="#ccccff"/><stop offset="98.33%" stop-color="#ccccff"/></linearGradient>
<linearGradient id="g2_6" x1="0" y1="0" x2="0" y2="1"><stop offset="1.67%" stop-color="#8080ff"/><stop offset="3.89%" stop-color="#8080ff"/><stop offset="7.22%" stop-color="#9999ff"/><stop offset="9.44%" stop-color="#9999ff"/><stop offset="12.78%" stop-color="#b2b2ff"/><stop offset="15.00%" stop-color="#b2b2ff"/><stop offset="18.33%" stop-color="#b2b2ff"/><stop offset="20.56%" stop-color="#b2b2ff"/><stop offset="23.89%" stop-color="#ccccff"/><stop offset="26.11%" stop-color="#ccccff"/><stop offset="29.44%" stop-color="#ccccff"/><stop offset="31.67%" stop-color="#ccccff"/><stop offset="35.00%" stop-color="#ccccff"/><stop offset="37.22%" stop-color="#ccccff"/><stop offset="40.56%" stop-color="#e6e6ff"/><stop offset="42.78%" stop-color="#e6e6ff"/><stop offset="46.11%" stop-color="#e6e6ff"/><stop offset="48.33%" stop-color="#e6e6ff"/><stop offset="51.67%" stop-color="#ffffff"/><stop offset="53.89%" stop-color="#ffffff"/><stop offset="57.22%" stop-color="#e6e6ff"/><stop offset="59.44%" stop-color="#e6e6ff"/><stop offset="62.78%" stop-color="#e6e6ff"/><stop offset="65.00%" stop-color="#e6e6ff"/><stop offset="68.33%" stop-color="#ccccff"/><stop offset="70.56%" stop-color="#ccccff"/><stop offset="73.89%" stop-color="#ccccff"/><stop offset="76.11%" stop-color="#ccccff"/><stop offset="79.44%" stop-color="#e6e6ff"/><stop offset="81.67%" stop-color="#e6e6ff"/><stop offset="85.00%" stop-color="#ffe6e6"/><stop offset="87.22%" stop-color="#ffe6e6"/><stop offset="90.56%" stop-color="#e6e6ff"/><stop offset="92.78%" stop-color="#e6e6ff"/><stop offset="96.11%" stop-color="#ccccff"/><stop offset="98.33%" stop-color="#ccccff"/></linearGradient>
<linearGradient id="g2_7" x1="0" y1="0" x2="0" y2="1"><stop offset="1.67%" stop-color="#8080ff"/><stop offset="3.89%" stop-color="#8080ff"/><stop offset="7.22%" stop-color="#9999ff"/><stop offset="9.44%" stop-color="#9999ff"/><stop offset="12.78%" stop-color="#b2b2ff"/><stop offset="15.00%" stop-color="#b2b2ff"/><stop offset="18.33%" stop-color="#b2b2ff"/><stop offset="20.56%" stop-color="#b2b2ff"/><stop offset="23.89%" stop-color="#ccccff"/><stop offset="26.11%" stop-color="#ccccff"/><stop offset="29.44%" stop-color="#e6e6ff"/><stop offset="31.67%" stop-color="#e6e6ff"/><stop offset="35.00%" stop-color="#ffffff"/><stop offset="37.22%" stop-color="#ffffff"/><stop offset="40.56%" stop-color="#ffffff"/><stop offset="42.78%" stop-color="#ffffff"/><stop offset="46.11%" stop-color="#ffe6e6"/><stop offset="48.33%" stop-color="#ffe6e6"/><stop offset="51.67%" stop-color="#ffffff"/><stop offset="53.89%" stop-color="#ffffff"/><stop offset="57.22%" stop-color="#e6e6ff"/><stop offset="59.44%" stop-color="#e6e6ff"/><stop offset="62.78%" stop-color="#ccccff"/><stop offset="65.00%" stop-color="#ccccff"/><stop offset="68.33%" stop-color="#ccccff"/><stop offset="70.56%" stop-color="#ccccff"/><stop offset="73.89%" stop-color="#ccccff"/><stop offset="76.11%" stop-color="#ccccff"/><stop offset="79.44%" stop-color="#e6e6ff"/><stop offset="81.67%" stop-color="#e6e6ff"/><stop offset="85.00%" stop-color="#ffffff"/><stop offset="87.22%" stop-color="#ffffff"/><stop offset="90.56%" stop-color="#e6e6ff"/><stop offset="92.78%" stop-color="#e6e6ff"/><stop offset="96.11%" stop-color="#ccccff"/><stop offset="98.33%" stop-color="#ccccff"/></linearGradient>
<linearGradient id="g2_8" x1="0" y1="0" x2="0" y2="1"><stop offset="1.67%" stop-color="#9999ff"/><stop offset="3.89%" stop-color="#9999ff"/><stop offset="7.22%" stop-color="#b2b2ff"/><stop offset="9.44%" stop-color="#b2b2ff"/><stop offset="12.78%" stop-color="#b2b2ff"/><stop offset="15.00%" stop-color="#b2b2ff"/><stop offset="18.33%" stop-color="#ccccff"/><stop offset="20.56%" stop-color="#ccccff"/><stop offset="23.89%" stop-color="#e6e6ff"/><stop offset="26.11%" stop-color="#e6e6ff"/><stop offset="29.44%" stop-color="#e6e6ff"/><stop offset="31.67%" stop-color="#e6e6ff"/><stop offset="35.00%" stop-color="#ffffff"/><stop offset="37.22%" stop-color="#ffffff"/><stop offset="40.56%" stop-color="#ffe6e6"/><stop offset="42.78%" stop-color="#ffe6e6"/><stop offset="46.11%" stop-color="#ffe6e6"/><stop offset="48.33%" stop-color="#ffe6e6"/><stop offset="51.67%" stop-color="#ffffff"/><stop offset="53.89%" stop-color="#ffffff"/><stop offset="57.22%" stop-color="#ffffff"/><stop offset="59.44%" stop-color="#ffffff"/><stop offset="62.78%" stop-color="#e6e6ff"/><stop offset="65.00%" stop-color="#e6e6ff"/><stop offset="68.33%" stop-color="#e6e6ff"/><stop offset="70.56%" stop-color="#e6e6ff"/><stop offset="73.89%" stop-color="#ccccff"/><stop offset="76.11%" stop-color="#ccccff"/><stop offset="79.44%" stop-color="#ccccff"/><stop offset="81.67%" stop-color="#ccccff"/><stop offset="85.00%" stop-color="#e6e6ff"/><stop offset="87.22%" stop-color="#e6e6ff"/><stop offset="90.56%" stop-color="#ccccff"/><stop offset="92.78%" stop-color="#ccccff"/><stop offset="96.11%" stop-color="#ccccff"/><stop offset="98.33%" stop-color="#ccccff"/></linearGradient>
<linearGradient id="g2_9" x1="0" y1="0" x2="0" y2="1"><stop offset="1.67%" stop-color="#9999ff"/><stop offset="3.89%" stop-color="#9999ff"/><stop offset="7.22%" stop-color="#b2b2ff"/><stop offset="9.44%" stop-color="#b2b2ff"/><stop offset="12.78%" stop-color="#ccccff"/><stop offset="15.00%" stop-color="#ccccff"/><stop offset="18.33%" stop-color="#ccccff"/><stop offset="20.56%" stop-color="#ccccff"/><stop offset="23.89%" stop-color="#e6e6ff"/><stop offset="26.11%" stop-color="#e6e6ff"/><stop offset="29.44%" stop-color="#ffffff"/><stop offset="31.67%" stop-color="#ffffff"/><stop offset="35.00%" stop-color="#ffe6e6"/><stop offset="37.22%" stop-color="#ffe6e6"/><stop offset="40.56%" stop-color="#ffe6e6"/><stop offset="42.78%" stop-color="#ffe6e6"/><stop offset="46.11%" stop-color="#ffcccc"/><stop offset="48.33%" stop-color="#ffcccc"/><stop offset="51.67%" stop-color="#ffe6e6"/><stop offset="53.89%" stop-color="#ffe6e6"/><stop offset="57.22%" stop-color="#ffffff"/><stop offset="59.44%" stop-color="#ffffff"/><stop offset="62.78%" stop-color="#e6e6ff"/><stop offset="65.00%" stop-color="#e6e6ff"/><stop offset="68.33%" stop-color="#e6e6ff"/><stop offset="70.56%" stop-color="#e6e6ff"/><stop offset="73.89%" stop-color="#ccccff"/><stop offset="76.11%" stop-color="#ccccff"/><stop offset="79.44%" stop-color="#ccccff"/><stop offset="81.67%" stop-color="#ccccff"/><stop offset="85.00%" stop-color="#ccccff"/><stop offset="87.22%" stop-color="#ccccff"/><stop offset="90.56%" stop-color="#ccccff"/><stop offset="92.78%" stop-color="#ccccff"/><stop offset="96.11%" stop-color="#b2b2ff"/><stop offset="98.33%" stop-color="#b2b2ff"/></linearGradient>
<linearGradient id="g2_10" x1="0" y1="0" x2="0" y2="1"><stop offset="1.67%" stop-color="#9999ff"/><stop offset="3.89%" stop-color="#9999ff"/><stop offset="7.22%" stop-color="#b2b2ff"/><stop offset="9.44%" stop-color="#b2b2ff"/><stop offset="12.78%" stop-color="#ccccff"/><stop offset="15.00%" stop-color="#ccccff"/><stop offset="18.33%" stop-color="#e6e6ff"/><stop offset="20.56%" stop-color="#e6e6ff"/><stop offset="23.89%" stop-color="#e6e6ff"/><stop offset="26.11%" stop-color="#e6e6ff"/><stop offset="29.44%" stop-color="#ffffff"/><stop offset="31.67%" stop-color="#ffffff"/><stop offset="35.00%" stop-color="#ffffff"/><stop offset="37.22%" stop-color="#ffffff"/><stop offset="40.56%" stop-color="#ffe6e6"/><stop offset="42.78%" stop-color="#ffe6e6"/><stop offset="46.11%" stop-color="#ffe6e6"/><stop offset="48.33%" stop-color="#ffe6e6"/><stop offset="51.67%" stop-color="#ffe6e6"/><stop offset="53.89%" stop-color="#ffe6e6"/><stop offset="57.22%" stop-color="#ffffff"/><stop offset="59.44%" stop-color="#ffffff"/><stop offset="62.78%" stop-color="#e6e6ff"/><stop offset="65.00%" stop-color="#e6e6ff"/><stop offset="68.33%" stop-color="#e6e6ff"/><stop offset="70.56%" stop-color="#e6e6ff"/><stop offset="73.89%" stop-color="#ccccff"/><stop offset="76.11%" stop-color="#ccccff"/><stop offset="79.44%" stop-color="#ccccff"/><stop offset="81.67%" stop-color="#ccccff"/><stop offset="85.00%" stop-color="#ccccff"/><stop offset="87.22%" stop-color="#ccccff"/><stop offset="90.56%" stop-color="#ccccff"/><stop offset="92.78%" stop-color="#ccccff"/><stop offset="96.11%" stop-color="#b2b2ff"/><stop offset="98.33%" stop-color="#b2b2ff"/></linearGradient>
<linearGradient id="g2_11" x1="0" y1="0" x2="0" y2="1"><stop offset="1.67%" stop-color="#ccccff"/><stop offset="3.89%" stop-color="#ccccff"/><stop offset="7.22%" stop-color="#e6e6ff"/><stop offset="9.44%" stop-color="#e6e6ff"/><stop offset="12.78%" stop-color="#ffffff"/><stop offset="15.00%" stop-color="#ffffff"/><stop offset="18.33%" stop-color="#ffe6e6"/><stop offset="20.56%" stop-color="#ffe6e6"/><stop offset="23.89%" stop-color="#ffe6e6"/><stop offset="26.11%" stop-color="#ffe6e6"/><stop offset="29.44%" stop-color="#ffe6e6"/><stop offset="31.67%" stop-color="#ffe6e6"/><stop offset="35.00%" stop-color="#ffe6e6"/><stop offset="37.22%" stop-color="#ffe6e6"/><stop offset="40.56%" stop-color="#ffe6e6"/><stop offset="42.78%" stop-color="#ffe6e6"/><stop offset="46.11%" stop-color="#ffe6e6"/><stop offset="48.33%" stop-color="#ffe6e6"/><stop offset="51.67%" stop-color="#ffe6e6"/><stop offset="53.89%" stop-color="#ffe6e6"/><stop offset="57.22%" stop-color="#ffffff"/><stop offset="59.44%" stop-color="#ffffff"/><stop offset="62.78%" stop-color="#e6e6ff"/><stop offset="65.00%" stop-color="#e6e6ff"/><stop offset="68.33%" stop-color="#e6e6ff"/><stop offset="70.56%" stop-color="#e6e6ff"/><stop offset="73.89%" stop-color="#ccccff"/><stop offset="76.11%" stop-color="#ccccff"/><stop offset="79.44%" stop-color="#b2b2ff"/><stop offset="81.67%" stop-color="#b2b2ff"/><stop offset="85.00%" stop-color="#9999ff"/><stop offset="87.22%" stop-color="#9999ff"/><stop offset="90.56%" stop-color="#9999ff"/><stop offset="92.78%" stop-color="#9999ff"/><stop offset="96.11%" stop-color="#9999ff"/><stop offset="98.33%" stop-color="#9999ff"/></linearGradient>
<linearGradient id="g2_12" x1="0" y1="0" x2="0" y2="1"><stop offset="1.67%" stop-color="#ffffff"/><stop offset="3.89%" stop-color="#ffffff"/><stop offset="7.22%" stop-color="#ffe6e6"/><stop offset="9.44%" stop-color="#ffe6e6"/><stop offset="12.78%" stop-color="#ffcccc"/><stop offset="15.00%" stop-color="#ffcccc"/><stop offset="18.33%" stop-color="#ffb2b2"/><stop offset="20.56%" stop-color="#ffb2b2"/><stop offset="23.89%" stop-color="#ffb2b2"/><stop offset="26.11%" stop-color="#ffb2b2"/><stop offset="29.44%" stop-color="#ffb2b2"/><stop offset="31.67%" stop-color="#ffb2b2"/><stop offset="35.00%" stop-color="#ff9999"/><stop offset="37.22%" stop-color="#ff9999"/><stop offset="40.56%" stop-color="#ffb2b2"/><stop offset="42.78%" stop-color="#ffb2b2"/><stop offset="46.11%" stop-color="#ffb2b2"/><stop offset="48.33%" stop-color="#ffb2b2"/><stop offset="51.67%" stop-color="#ffb2b2"/><stop offset="53.89%" stop-color="#ffb2b2"/><stop offset="57.22%" stop-color="#ffcccc"/><stop offset="59.44%" stop-color="#ffcccc"/><stop offset="62.78%" stop-color="#ffe6e6"/><stop offset="65.00%" stop-color="#ffe6e6"/><stop offset="68.33%" stop-color="#e6e6ff"/><stop offset="70.56%" stop-color="#e6e6ff"/><stop offset="73.89%" stop-color="#ccccff"/><stop offset="76.11%" stop-color="#ccccff"/><stop offset="79.44%" stop-color="#b2b2ff"/><stop offset="81.67%" stop-color="#b2b2ff"/><stop offset="85.00%" stop-color="#b2b2ff"/><stop offset="87.22%" stop-color="#b2b2ff"/><stop offset="90.56%" stop-color="#b2b2ff"/><stop offset="92.78%" stop-color="#b2b2ff"/><stop offset="96.11%" stop-color="#9999ff"/><stop offset="98.33%" stop-color="#9999ff"/></linearGradient>
<linearGradient id="g2_13" x1="0" y1="0" x2="0" y2="1"><stop offset="1.67%" stop-color="#ffb2b2"/><stop offset="3.89%" stop-color="#ffb2b2"/><stop offset="7.22%" stop-color="#ffb2b2"/><stop offset="9.44%" stop-color="#ffb2b2"/><stop offset="12.78%" stop-color="#ffb2b2"/><stop offset="15.00%" stop-color="#ffb2b2"/><stop offset="18.33%" stop-color="#ffb2b2"/><stop offset="20.56%" stop-color="#ffb2b2"/><stop offset="23.89%" stop-color="#ffb2b2"/><stop offset="26.11%" stop-color="#ffb2b2"/><stop offset="29.44%" stop-color="#ff8080"/><stop offset="31.67%" stop-color="#ff8080"/><stop offset="35.00%" stop-color="#ffb2b2"/><stop offset="37.22%" stop-color="#ffb2b2"/><stop offset="40.56%" stop-color="#ffb2b2"/><stop offset="42.78%" stop-color="#ffb2b2"/><stop offset="46.11%" stop-color="#ff9999"/><stop offset="48.33%" stop-color="#ff9999"/><stop offset="51.67%" stop-color="#ff8080"/><stop offset="53.89%" stop-color="#ff8080"/><stop offset="57.22%" stop-color="#ff8080"/><stop offset="59.44%" stop-color="#ff8080"/><stop offset="62.78%" stop-color="#ffb2b2"/><stop offset="65.00%" stop-color="#ffb2b2"/><stop offset="68.33%" stop-color="#ffe6e6"/><stop offset="70.56%" stop-color="#ffe6e6"/><stop offset="73.89%" stop-color="#e6e6ff"/><stop offset="76.11%" stop-color="#e6e6ff"/><stop offset="79.44%" stop-color="#ccccff"/><stop offset="81.67%" stop-color="#ccccff"/><stop offset="85.00%" stop-color="#b2b2ff"/><stop offset="87.22%" stop-color="#b2b2ff"/><stop offset="90.56%" stop-color="#9999ff"/><stop offset="92.78%" stop-color="#9999ff"/><stop offset="96.11%" stop-color="#9999ff"/><stop offset="98.33%" stop-color="#9999ff"/></linearGradient>
<linearGradient id="g2_14" x1="0" y1="0" x2="0" y2="1"><stop offset="1.67%" stop-color="#ffb2b2"/><stop offset="3.89%" stop-color="#ffb2b2"/><stop offset="7.22%" stop-color="#ffb2b2"/><stop offset="9.44%" stop-color="#ffb2b2"/><stop offset="12.78%" stop-color="#ff9999"/><stop offset="15.00%" stop-color="#ff9999"/><stop offset="18.33%" stop-color="#ff9999"/><stop offset="20.56%" stop-color="#ff9999"/><stop offset="23.89%" stop-color="#ff9999"/><stop offset="26.11%" stop-color="#ff9999"/><stop offset="29.44%" stop-color="#ff9999"/><stop offset="31.67%" stop-color="#ff9999"/><stop offset="35.00%" stop-color="#ff9999"/><stop offset="37.22%" stop-color="#ff9999"/><stop offset="40.56%" stop-color="#ff9999"/><stop offset="42.78%" stop-color="#ff9999"/><stop offset="46.11%" stop-color="#ff8080"/><stop offset="48.33%" stop-color="#ff8080"/><stop offset="51.67%" stop-color="#ff8080"/><stop offset="53.89%" stop-color="#ff8080"/><stop offset="57.22%" stop-color="#ff8080"/><stop offset="59.44%" stop-color="#ff8080"/><stop offset="62.78%" stop-color="#ff9999"/><stop offset="65.00%" stop-color="#ff9999"/><stop offset="68.33%" stop-color="#ffe6e6"/><stop offset="70.56%" stop-color="#ffe6e6"/><stop offset="73.89%" stop-color="#e6e6ff"/><stop offset="76.11%" stop-color="#e6e6ff"/><stop offset="79.44%" stop-color="#b2b2ff"/><stop offset="81.67%" stop-color="#b2b2ff"/><stop offset="85.00%" stop-color="#9999ff"/><stop offset="87.22%" stop-color="#9999ff"/><stop offset="90.56%" stop-color="#8080ff"/><stop offset="92.78%" stop-color="#8080ff"/><stop offset="96.11%" stop-color="#8080ff"/><stop offset="98.33%" stop-color="#8080ff"/></linearGradient>
<linearGradient id="g2_15" x1="0" y1="0" x2="0" y2="1"><stop offset="1.67%" stop-color="#ff9999"/><stop offset="3.89%" stop-color="#ff9999"/><stop offset="7.22%" stop-color="#ff9999"/><stop offset="9.44%" stop-color="#ff9999"/><stop offset="12.78%" stop-color="#ff8080"/><stop offset="15.00%" stop-color="#ff8080"/><stop offset="18.33%" stop-color="#ff8080"/><stop offset="20.56%" stop-color="#ff8080"/><stop offset="23.89%" stop-color="#ff8080"/><stop offset="26.11%" stop-color="#ff8080"/><stop offset="29.44%" stop-color="#ff8080"/><stop offset="31.67%" stop-color="#ff8080"/><stop offset="35.00%" stop-color="#ff8080"/><stop offset="37.22%" stop-color="#ff8080"/><stop offset="40.56%" stop-color="#ff8080"/><stop offset="42.78%" stop-color="#ff8080"/><stop offset="46.11%" stop-color="#ff6666"/><stop offset="48.33%" stop-color="#ff6666"/><stop offset="51.67%" stop-color="#ff6666"/><stop offset="53.89%" stop-color="#ff6666"/><stop offset="57.22%" stop-color="#ff6666"/><stop offset="59.44%" stop-color="#ff6666"/><stop offset="62.78%" stop-color="#ff8080"/><stop offset="65.00%" stop-color="#ff8080"/><stop offset="68.33%" stop-color="#ffcccc"/><stop offset="70.56%" stop-color="#ffcccc"/><stop offset="73.89%" stop-color="#ffffff"/><stop offset="76.11%" stop-color="#ffffff"/><stop offset="79.44%" stop-color="#ccccff"/><stop offset="81.67%" stop-color="#ccccff"/><stop offset="85.00%" stop-color="#b2b2ff"/><stop offset="87.22%" stop-color="#b2b2ff"/><stop offset="90.56%" stop-color="#8080ff"/><stop offset="92.78%" stop-color="#8080ff"/><stop offset="96.11%" stop-color="#6666ff"/><stop offset="98.33%" stop-color="#6666ff"/></linearGradient>
<linearGradient id="g2_16" x1="0" y1="0" x2="0" y2="1"><stop offset="1.67%" stop-color="#ff0000"/><stop offset="3.89%" stop-color="#ff0000"/><stop offset="7.22%" stop-color="#ff0000"/><stop offset="9.44%" stop-color="#ff0000"/><stop offset="12.78%" stop-color="#ff0000"/><stop offset="15.00%" stop-color="#ff0000"/><stop offset="18.33%" stop-color="#ff0000"/><stop offset="20.56%" stop-color="#ff0000"/><stop offset="23.89%" stop-color="#ff0000"/><stop offset="26.11%" stop-color="#ff0000"/><stop offset="29.44%" stop-color="#ff0000"/><stop offset="31.67%" stop-color="#ff0000"/><stop offset="35.00%" stop-color="#ff0000"/><stop offset="37.22%" stop-color="#ff0000"/><stop offset="40.56%" stop-color="#ff1a1a"/><stop offset="42.78%" stop-color="#ff1a1a"/><stop offset="46.11%" stop-color="#ff3333"/><stop offset="48.33%" stop-color="#ff3333"/><stop offset="51.67%" stop-color="#ff3333"/><stop offset="53.89%" stop-color="#ff3333"/><stop offset="57.22%" stop-color="#ff4c4c"/><stop offset="59.44%" stop-color="#ff4c4c"/><stop offset="62.78%" stop-color="#ff8080"/><stop offset="65.00%" stop-color="#ff8080"/><stop offset="68.33%" stop-color="#ffcccc"/><stop offset="70.56%" stop-color="#ffcccc"/><stop offset="73.89%" stop-color="#e6e6ff"/><stop offset="76.11%" stop-color="#e6e6ff"/><stop offset="79.44%" stop-color="#1a1aff"/><stop offset="81.67%" stop-color="#1a1aff"/><stop offset="85.00%" stop-color="#0000ff"/><stop offset="87.22%" stop-color="#0000ff"/><stop offset="90.56%" stop-color="#0000ff"/><stop offset="92.78%" stop-color="#0000ff"/><stop offset="96.11%" stop-color="#0000ff"/><stop offset="98.33%" stop-color="#0000ff"/></linearGradient>
<linearGradient id="g2_17" x1="0" y1="0" x2="0" y2="1"><stop offset="1.67%" stop-color="#8080ff"/><stop offset="3.89%" stop-color="#8080ff"/><stop offset="7.22%" stop-color="#8080ff"/><stop offset="9.44%" stop-color="#8080ff"/><stop offset="12.78%" stop-color="#8080ff"/><stop offset="15.00%" stop-color="#8080ff"/><stop offset="18.33%" stop-color="#8080ff"/><stop offset="20.56%" stop-color="#8080ff"/><stop offset="23.89%" stop-color="#8080ff"/><stop offset="26.11%" stop-color="#8080ff"/><stop offset="29.44%" stop-color="#6666ff"/><stop offset="31.67%" stop-color="#6666ff"/><stop offset="35.00%" stop-color="#6666ff"/><stop offset="37.22%" stop-color="#6666ff"/><stop offset="40.56%" stop-color="#6666ff"/><stop offset="42.78%" stop-color="#6666ff"/><stop offset="46.11%" stop-color="#6666ff"/><stop offset="48.33%" stop-color="#6666ff"/><stop offset="51.67%" stop-color="#6666ff"/><stop offset="53.89%" stop-color="#6666ff"/><stop offset="57.22%" stop-color="#6666ff"/><stop offset="59.44%" stop-color="#6666ff"/><stop offset="62.78%" stop-color="#4c4cff"/><stop offset="65.00%" stop-color="#4c4cff"/><stop offset="68.33%" stop-color="#0000ff"/><stop offset="70.56%" stop-color="#0000ff"/><stop offset="73.89%" stop-color="#0000ff"/><stop offset="76.11%" stop-color="#0000ff"/><stop offset="79.44%" stop-color="#0000ff"/><stop offset="81.67%" stop-color="#0000ff"/><stop offset="85.00%" stop-color="#0000ff"/><stop offset="87.22%" stop-color="#0000ff"/><stop offset="90.56%" stop-color="#0000ff"/><stop offset="92.78%" stop-color="#0000ff"/><stop offset="96.11%" stop-color="#0000ff"/><stop offset="98.33%" stop-color="#0000ff"/></linearGradient>
<linearGradient id="g2_18" x1="0" y1="0" x2="0" y2="1"><stop offset="1.67%" stop-color="#8080ff"/><stop offset="3.89%" stop-color="#8080ff"/><stop offset="7.22%" stop-color="#8080ff"/><stop offset="9.44%" stop-color="#8080ff"/><stop offset="12.78%" stop-color="#8080ff"/><stop offset="15.00%" stop-color="#8080ff"/><stop offset="18.33%" stop-color="#9999ff"/><stop offset="20.56%" stop-color="#9999ff"/><stop offset="23.89%" stop-color="#b2b2ff"/><stop offset="26.11%" stop-color="#b2b2ff"/><stop offset="29.44%" stop-color="#b2b2ff"/><stop offset="31.67%" stop-color="#b2b2ff"/><stop offset="35.00%" stop-color="#b2b2ff"/><stop offset="37.22%" stop-color="#b2b2ff"/><stop offset="40.56%" stop-color="#9999ff"/><stop offset="42.78%" stop-color="#9999ff"/><stop offset="46.11%" stop-color="#9999ff"/><stop offset="48.33%" stop-color="#9999ff"/><stop offset="51.67%" stop-color="#ccccff"/><stop offset="53.89%" stop-color="#ccccff"/><stop offset="57.22%" stop-color="#b2b2ff"/><stop offset="59.44%" stop-color="#b2b2ff"/><stop offset="62.78%" stop-color="#6666ff"/><stop offset="65.00%" stop-color="#6666ff"/><stop offset="68.33%" stop-color="#0000ff"/><stop offset="70.56%" stop-color="#0000ff"/><stop offset="73.89%" stop-color="#0000ff"/><stop offset="76.11%" stop-color="#0000ff"/><stop offset="79.44%" stop-color="#0000ff"/><stop offset="81.67%" stop-color="#0000ff"/><stop offset="85.00%" stop-color="#0000ff"/><stop offset="87.22%" stop-color="#0000ff"/><stop offset="90.56%" stop-color="#0000ff"/><stop offset="92.78%" stop-color="#0000ff"/><stop offset="96.11%" stop-color="#0000ff"/><stop offset="98.33%" stop-color="#0000ff"/></linearGradient>
<linearGradient id="g2_19" x1="0" y1="0" x2="0" y2="1"><stop offset="1.67%" stop-color="#6666ff"/><stop offset="3.89%" stop-color="#6666ff"/><stop offset="7.22%" stop-color="#8080ff"/><stop offset="9.44%" stop-color="#8080ff"/><stop offset="12.78%" stop-color="#8080ff"/><stop offset="15.00%" stop-color="#8080ff"/><stop offset="18.33%" stop-color="#8080ff"/><stop offset="20.56%" stop-color="#8080ff"/><stop offset="23.89%" stop-color="#9999ff"/><stop offset="26.11%" stop-color="#9999ff"/><stop offset="29.44%" stop-color="#9999ff"/><stop offset="31.67%" stop-color="#9999ff"/><stop offset="35.00%" stop-color="#9999ff"/><stop offset="37.22%" stop-color="#9999ff"/><stop offset="40.56%" stop-color="#9999ff"/><stop offset="42.78%" stop-color="#9999ff"/><stop offset="46.11%" stop-color="#b2b2ff"/><stop offset="48.33%" stop-color="#b2b2ff"/><stop offset="51.67%" stop-color="#b2b2ff"/><stop offset="53.89%" stop-color="#b2b2ff"/><stop offset="57.22%" stop-color="#ccccff"/><stop offset="59.44%" stop-color="#ccccff"/><stop offset="62.78%" stop-color="#b2b2ff"/><stop offset="65.00%" stop-color="#b2b2ff"/><stop offset="68.33%" stop-color="#8080ff"/><stop offset="70.56%" stop-color="#8080ff"/><stop offset="73.89%" stop-color="#4c4cff"/><stop offset="76.11%" stop-color="#4c4cff"/><stop offset="79.44%" stop-color="#0000ff"/><stop offset="81.67%" stop-color="#0000ff"/><stop offset="85.00%" stop-color="#0000ff"/><stop offset="87.22%" stop-color="#0000ff"/><stop offset="90.56%" stop-color="#0000ff"/><stop offset="92.78%" stop-color="#0000ff"/><stop offset="96.11%" stop-color="#0000ff"/><stop offset="98.33%" stop-color="#0000ff"/></linearGradient>
<linearGradient id="g2_20" x1="0" y1="0" x2="0" y2="1"><stop offset="1.67%" stop-color="#4c4cff"/><stop offset="3.89%" stop-color="#4c4cff"/><stop offset="7.22%" stop-color="#6666ff"/><stop offset="9.44%" stop-color="#6666ff"/><stop offset="12.78%" stop-color="#8080ff"/><stop offset="15.00%" stop-color="#8080ff"/><stop offset="18.33%" stop-color="#8080ff"/><stop offset="20.56%" stop-color="#8080ff"/><stop offset="23.89%" stop-color="#8080ff"/><stop offset="26.11%" stop-color="#8080ff"/><stop offset="29.44%" stop-color="#9999ff"/><stop offset="31.67%" stop-color="#9999ff"/><stop offset="35.00%" stop-color="#9999ff"/><stop offset="37.22%" stop-color="#9999ff"/><stop offset="40.56%" stop-color="#9999ff"/><stop offset="42.78%" stop-color="#9999ff"/><stop offset="46.11%" stop-color="#b2b2ff"/><stop offset="48.33%" stop-color="#b2b2ff"/><stop offset="51.67%" stop-color="#b2b2ff"/><stop offset="53.89%" stop-color="#b2b2ff"/><stop offset="57.22%" stop-color="#9999ff"/><stop offset="59.44%" stop-color="#9999ff"/><stop offset="62.78%" stop-color="#8080ff"/><stop offset="65.00%" stop-color="#8080ff"/><stop offset="68.33%" stop-color="#4c4cff"/><stop offset="70.56%" stop-color="#4c4cff"/><stop offset="73.89%" stop-color="#0000ff"/><stop offset="76.11%" stop-color="#0000ff"/><stop offset="79.44%" stop-color="#0000ff"/><stop offset="81.67%" stop-color="#0000ff"/><stop offset="85.00%" stop-color="#4c4cff"/><stop offset="87.22%" stop-color="#4c4cff"/><stop offset="90.56%" stop-color="#4c4cff"/><stop offset="92.78%" stop-color="#4c4cff"/><stop offset="96.11%" stop-color="#4c4cff"/><stop offset="98.33%" stop-color="#4c4cff"/></linearGradient>
<linearGradient id="g2_21" x1="0" y1="0" x2="0" y2="1"><stop offset="1.67%" stop-color="#4c4cff"/><stop offset="3.89%" stop-color="#4c4cff"/><stop offset="7.22%" stop-color="#6666ff"/><stop offset="9.44%" stop-color="#6666ff"/><stop offset="12.78%" stop-color="#6666ff"/><stop offset="15.00%" stop-color="#6666ff"/><stop offset="18.33%" stop-color="#6666ff"/><stop offset="20.56%" stop-color="#6666ff"/><stop offset="23.89%" stop-color="#8080ff"/><stop offset="26.11%" stop-color="#8080ff"/><stop offset="29.44%" stop-color="#8080ff"/><stop offset="31.67%" stop-color="#8080ff"/><stop offset="35.00%" stop-color="#8080ff"/><stop offset="37.22%" stop-color="#8080ff"/><stop offset="40.56%" stop-color="#9999ff"/><stop offset="42.78%" stop-color="#9999ff"/><stop offset="46.11%" stop-color="#9999ff"/><stop offset="48.33%" stop-color="#9999ff"/><stop offset="51.67%" stop-color="#9999ff"/><stop offset="53.89%" stop-color="#9999ff"/><stop offset="57.22%" stop-color="#9999ff"/><stop offset="59.44%" stop-color="#9999ff"/><stop offset="62.78%" stop-color="#8080ff"/><stop offset="65.00%" stop-color="#8080ff"/><stop offset="68.33%" stop-color="#6666ff"/><stop offset="70.56%" stop-color="#6666ff"/><stop offset="73.89%" stop-color="#4c4cff"/><stop offset="76.11%" stop-color="#4c4cff"/><stop offset="79.44%" stop-color="#3333ff"/><stop offset="81.67%" stop-color="#3333ff"/><stop offset="85.00%" stop-color="#0000ff"/><stop offset="87.22%" stop-color="#0000ff"/><stop offset="90.56%" stop-color="#0000ff"/><stop offset="92.78%" stop-color="#0000ff"/><stop offset="96.11%" stop-color="#1a1aff"/><stop offset="98.33%" stop-color="#1a1aff"/></linearGradient>
<linearGradient id="g2_22" x1="0" y1="0" x2="0" y2="1"><stop offset="1.67%" stop-color="#8080ff"/><stop offset="3.89%" stop-color="#8080ff"/><stop offset="7.22%" stop-color="#8080ff"/><stop offset="9.44%" stop-color="#8080ff"/><stop offset="12.78%" stop-color="#b2b2ff"/><stop offset="15.00%" stop-color="#b2b2ff"/><stop offset="18.33%" stop-color="#ccccff"/><stop offset="20.56%" stop-color="#ccccff"/><stop offset="23.89%" stop-color="#e6e6ff"/><stop offset="26.11%" stop-color="#e6e6ff"/><stop offset="29.44%" stop-color="#ffe6e6"/><stop offset="31.67%" stop-color="#ffe6e6"/><stop offset="35.00%" stop-color="#ffcccc"/><stop offset="37.22%" stop-color="#ffcccc"/><stop offset="40.56%" stop-color="#ffe6e6"/><stop offset="42.78%" stop-color="#ffe6e6"/><stop offset="46.11%" stop-color="#ffe6e6"/><stop offset="48.33%" stop-color="#ffe6e6"/><stop offset="51.67%" stop-color="#ffffff"/><stop offset="53.89%" stop-color="#ffffff"/><stop offset="57.22%" stop-color="#ffe6e6"/><stop offset="59.44%" stop-color="#ffe6e6"/><stop offset="62.78%" stop-color="#ffcccc"/><stop offset="65.00%" stop-color="#ffcccc"/><stop offset="68.33%" stop-color="#ff9999"/><stop offset="70.56%" stop-color="#ff9999"/><stop offset="73.89%" stop-color="#ffb2b2"/><stop offset="76.11%" stop-color="#ffb2b2"/><stop offset="79.44%" stop-color="#ffcccc"/><stop offset="81.67%" stop-color="#ffcccc"/><stop offset="85.00%" stop-color="#ffe6e6"/><stop offset="87.22%" stop-color="#ffe6e6"/><stop offset="90.56%" stop-color="#ffe6e6"/><stop offset="92.78%" stop-color="#ffe6e6"/><stop offset="96.11%" stop-color="#ffe6e6"/><stop offset="98.33%" stop-color="#ffe6e6"/></linearGradient>
<linearGradient id="g2_23" x1="0" y1="0" x2="0" y2="1"><stop offset="1.67%" stop-color="#8080ff"/><stop offset="3.89%" stop-color="#8080ff"/><stop offset="7.22%" stop-color="#8080ff"/><stop offset="9.44%" stop-color="#8080ff"/><stop offset="12.78%" stop-color="#8080ff"/><stop offset="15.00%" stop-color="#8080ff"/><stop offset="18.33%" stop-color="#8080ff"/><stop offset="20.56%" stop-color="#8080ff"/><stop offset="23.89%" stop-color="#9999ff"/><stop offset="26.11%" stop-color="#9999ff"/><stop offset="29.44%" stop-color="#b2b2ff"/><stop offset="31.67%" stop-color="#b2b2ff"/><stop offset="35.00%" stop-color="#b2b2ff"/><stop offset="37.22%" stop-color="#b2b2ff"/><stop offset="40.56%" stop-color="#ccccff"/><stop offset="42.78%" stop-color="#ccccff"/><stop offset="46.11%" stop-color="#ccccff"/><stop offset="48.33%" stop-color="#ccccff"/><stop offset="51.67%" stop-color="#ccccff"/><stop offset="53.89%" stop-color="#ccccff"/><stop offset="57.22%" stop-color="#ccccff"/><stop offset="59.44%" stop-color="#ccccff"/><stop offset="62.78%" stop-color="#b2b2ff"/><stop offset="65.00%" stop-color="#b2b2ff"/><stop offset="68.33%" stop-color="#ccccff"/><stop offset="70.56%" stop-color="#ccccff"/><stop offset="73.89%" stop-color="#ccccff"/><stop offset="76.11%" stop-color="#ccccff"/><stop offset="79.44%" stop-color="#e6e6ff"/><stop offset="81.67%" stop-color="#e6e6ff"/><stop offset="85.00%" stop-color="#ccccff"/><stop offset="87.22%" stop-color="#ccccff"/><stop offset="90.56%" stop-color="#e6e6ff"/><stop offset="92.78%" stop-color="#e6e6ff"/><stop offset="96.11%" stop-color="#ffe6e6"/><stop offset="98.33%" stop-color="#ffe6e6"/></linearGradient>
<linearGradient id="g2_24" x1="0" y1="0" x2="0" y2="1"><stop offset="1.67%" stop-color="#8080ff"/><stop offset="3.89%" stop-color="#8080ff"/><stop offset="7.22%" stop-color="#8080ff"/><stop offset="9.44%" stop-color="#8080ff"/><stop offset="12.78%" stop-color="#8080ff"/><stop offset="15.00%" stop-color="#8080ff"/><stop offset="18.33%" stop-color="#8080ff"/><stop offset="20.56%" stop-color="#8080ff"/><stop offset="23.89%" stop-color="#8080ff"/><stop offset="26.11%" stop-color="#8080ff"/><stop offset="29.44%" stop-color="#9999ff"/><stop offset="31.67%" stop-color="#9999ff"/><stop offset="35.00%" stop-color="#b2b2ff"/><stop offset="37.22%" stop-color="#b2b2ff"/><stop offset="40.56%" stop-color="#b2b2ff"/><stop offset="42.78%" stop-color="#b2b2ff"/><stop offset="46.11%" stop-color="#b2b2ff"/><stop offset="48.33%" stop-color="#b2b2ff"/><stop offset="51.67%" stop-color="#ccccff"/><stop offset="53.89%" stop-color="#ccccff"/><stop offset="57.22%" stop-color="#b2b2ff"/><stop offset="59.44%" stop-color="#b2b2ff"/><stop offset="62.78%" stop-color="#b2b2ff"/><stop offset="65.00%" stop-color="#b2b2ff"/><stop offset="68.33%" stop-color="#b2b2ff"/><stop offset="70.56%" stop-color="#b2b2ff"/><stop offset="73.89%" stop-color="#ccccff"/><stop offset="76.11%" stop-color="#ccccff"/><stop offset="79.44%" stop-color="#ccccff"/><stop offset="81.67%" stop-color="#ccccff"/><stop offset="85.00%" stop-color="#b2b2ff"/><stop offset="87.22%" stop-color="#b2b2ff"/><stop offset="90.56%" stop-color="#ccccff"/><stop offset="92.78%" stop-color="#ccccff"/><stop offset="96.11%" stop-color="#e6e6ff"/><stop offset="98.33%" stop-color="#e6e6ff"/></linearGradient>
<linearGradient id="g3_0" x1="0" y1="0" x2="0" y2="1"><stop offset="1.67%" stop-color="#b2b2ff"/><stop offset="3.89%" stop-color="#b2b2ff"/><stop offset="7.22%" stop-color="#ccccff"/><stop offset="9.44%" stop-color="#ccccff"/><stop offset="12.78%" stop-color="#e6e6ff"/><stop offset="15.00%" stop-color="#e6e6ff"/><stop offset="18.33%" stop-color="#ccccff"/><stop offset="20.56%" stop-color="#ccccff"/><stop offset="23.89%" stop-color="#e6e6ff"/><stop offset="26.11%" stop-color="#e6e6ff"/><stop offset="29.44%" stop-color="#e6e6ff"/><stop offset="31.67%" stop-color="#e6e6ff"/><stop offset="35.00%" stop-color="#b2b2ff"/><stop offset="37.22%" stop-color="#b2b2ff"/><stop offset="40.56%" stop-color="#9999ff"/><stop offset="42.78%" stop-color="#9999ff"/><stop offset="46.11%" stop-color="#ccccff"/><stop offset="48.33%" stop-color="#ccccff"/><stop offset="51.67%" stop-color="#e6e6ff"/><stop offset="53.89%" stop-color="#e6e6ff"/><stop offset="57.22%" stop-color="#ffcccc"/><stop offset="59.44%" stop-color="#ffcccc"/><stop offset="62.78%" stop-color="#ffb2b2"/><stop offset="65.00%" stop-color="#ffb2b2"/><stop offset="68.33%" stop-color="#ffb2b2"/><stop offset="70.56%" stop-color="#ffb2b2"/><stop offset="73.89%" stop-color="#ffcccc"/><stop offset="76.11%" stop-color="#ffcccc"/><stop offset="79.44%" stop-color="#ffffff"/><stop offset="81.67%" stop-color="#ffffff"/><stop offset="85.00%" stop-color="#ffcccc"/><stop offset="87.22%" stop-color="#ffcccc"/><stop offset="90.56%" stop-color="#ffb2b2"/><stop offset="92.78%" stop-color="#ffb2b2"/><stop offset="96.11%" stop-color="#ffcccc"/><stop offset="98.33%" stop-color="#ffcccc"/></linearGradient>
<linearGradient id="g3_1" x1="0" y1="0" x2="0" y2="1"><stop offset="1.67%" stop-color="#b2b2ff"/><stop offset="3.89%" stop-color="#b2b2ff"/><stop offset="7.22%" stop-color="#ccccff"/><stop offset="9.44%" stop-color="#ccccff"/><stop offset="12.78%" stop-color="#e6e6ff"/><stop offset="15.00%" stop-color="#e6e6ff"/><stop offset="18.33%" stop-color="#ccccff"/><stop offset="20.56%" stop-color="#ccccff"/><stop offset="23.89%" stop-color="#e6e6ff"/><stop offset="26.11%" stop-color="#e6e6ff"/><stop offset="29.44%" stop-color="#e6e6ff"/><stop offset="31.67%" stop-color="#e6e6ff"/><stop offset="35.00%" stop-color="#b2b2ff"/><stop offset="37.22%" stop-color="#b2b2ff"/><stop offset="40.56%" stop-color="#9999ff"/><stop offset="42.78%" stop-color="#9999ff"/><stop offset="46.11%" stop-color="#ccccff"/><stop offset="48.33%" stop-color="#ccccff"/><stop offset="51.67%" stop-color="#e6e6ff"/><stop offset="53.89%" stop-color="#e6e6ff"/><stop offset="57.22%" stop-color="#ffcccc"/><stop offset="59.44%" stop-color="#ffcccc"/><stop offset="62.78%" stop-color="#ffb2b2"/><stop offset="65.00%" stop-color="#ffb2b2"/><stop offset="68.33%" stop-color="#ffb2b2"/><stop offset="70.56%" stop-color="#ffb2b2"/><stop offset="73.89%" stop-color="#ffcccc"/><stop offset="76.11%" stop-color="#ffcccc"/><stop offset="79.44%" stop-color="#ffffff"/><stop offset="81.67%" stop-color="#ffffff"/><stop offset="85.00%" stop-color="#ffe6e6"/><stop offset="87.22%" stop-color="#ffe6e6"/><stop offset="90.56%" stop-color="#ffe6e6"/><stop offset="92.78%" stop-color="#ffe6e6"/><stop offset="96.11%" stop-color="#e6e6ff"/><stop offset="98.33%" stop-color="#e6e6ff"/></linearGradient>
<linearGradient id="g3_2" x1="0" y1="0" x2="0" y2="1"><stop offset="1.67%" stop-color="#b2b2ff"/><stop offset="3.89%" stop-color="#b2b2ff"/><stop offset="7.22%" stop-color="#ccccff"/><stop offset="9.44%" stop-color="#ccccff"/><stop offset="12.78%" stop-color="#e6e6ff"/><stop offset="15.00%" stop-color="#e6e6ff"/><stop offset="18.33%" stop-color="#ccccff"/><stop offset="20.56%" stop-color="#ccccff"/><stop offset="23.89%" stop-color="#e6e6ff"/><stop offset="26.11%" stop-color="#e6e6ff"/><stop offset="29.44%" stop-color="#e6e6ff"/><stop offset="31.67%" stop-color="#e6e6ff"/><stop offset="35.00%" stop-color="#b2b2ff"/><stop offset="37.22%" stop-color="#b2b2ff"/><stop offset="40.56%" stop-color="#9999ff"/><stop offset="42.78%" stop-color="#9999ff"/><stop offset="46.11%" stop-color="#ccccff"/><stop offset="48.33%" stop-color="#ccccff"/><stop offset="51.67%" stop-color="#e6e6ff"/><stop offset="53.89%" stop-color="#e6e6ff"/><stop offset="57.22%" stop-color="#ffcccc"/><stop offset="59.44%" stop-color="#ffcccc"/><stop offset="62.78%" stop-color="#ffb2b2"/><stop offset="65.00%" stop-color="#ffb2b2"/><stop offset="68.33%" stop-color="#ffcccc"/><stop offset="70.56%" stop-color="#ffcccc"/><stop offset="73.89%" stop-color="#ffe6e6"/><stop offset="76.11%" stop-color="#ffe6e6"/><stop offset="79.44%" stop-color="#ffffff"/><stop offset="81.67%" stop-color="#ffffff"/><stop offset="85.00%" stop-color="#ffe6e6"/><stop offset="87.22%" stop-color="#ffe6e6"/><stop offset="90.56%" stop-color="#ffe6e6"/><stop offset="92.78%" stop-color="#ffe6e6"/><stop offset="96.11%" stop-color="#ccccff"/><stop offset="98.33%" stop-color="#ccccff"/></linearGradient>
<linearGradient id="g3_3" x1="0" y1="0" x2="0" y2="1"><stop offset="1.67%" stop-color="#9999ff"/><stop offset="3.89%" stop-color="#9999ff"/><stop offset="7.22%" stop-color="#b2b2ff"/><stop offset="9.44%" stop-color="#b2b2ff"/><stop offset="12.78%" stop-color="#ccccff"/><stop offset="15.00%" stop-color="#ccccff"/><stop offset="18.33%" stop-color="#ffffff"/><stop offset="20.56%" stop-color="#ffffff"/><stop offset="23.89%" stop-color="#e6e6ff"/><stop offset="26.11%" stop-color="#e6e6ff"/><stop offset="29.44%" stop-color="#ccccff"/><stop offset="31.67%" stop-color="#ccccff"/><stop offset="35.00%" stop-color="#b2b2ff"/><stop offset="37.22%" stop-color="#b2b2ff"/><stop offset="40.56%" stop-color="#9999ff"/><stop offset="42.78%" stop-color="#9999ff"/><stop offset="46.11%" stop-color="#ccccff"/><stop offset="48.33%" stop-color="#ccccff"/><stop offset="51.67%" stop-color="#e6e6ff"/><stop offset="53.89%" stop-color="#e6e6ff"/><stop offset="57.22%" stop-color="#ffcccc"/><stop offset="59.44%" stop-color="#ffcccc"/><stop offset="62.78%" stop-color="#ffb2b2"/><stop offset="65.00%" stop-color="#ffb2b2"/><stop offset="68.33%" stop-color="#ffb2b2"/><stop offset="70.56%" stop-color="#ffb2b2"/><stop offset="73.89%" stop-color="#ffcccc"/><stop offset="76.11%" stop-color="#ffcccc"/><stop offset="79.44%" stop-color="#ffffff"/><stop offset="81.67%" stop-color="#ffffff"/><stop offset="85.00%" stop-color="#ffe6e6"/><stop offset="87.22%" stop-color="#ffe6e6"/><stop offset="90.56%" stop-color="#e6e6ff"/><stop offset="92.78%" stop-color="#e6e6ff"/><stop offset="96.11%" stop-color="#ccccff"/><stop offset="98.33%" stop-color="#ccccff"/></linearGradient>
<linearGradient id="g3_4" x1="0" y1="0" x2="0" y2="1"><stop offset="1.67%" stop-color="#9999ff"/><stop offset="3.89%" stop-color="#9999ff"/><stop offset="7.22%" stop-color="#b2b2ff"/><stop offset="9.44%" stop-color="#b2b2ff"/><stop offset="12.78%" stop-color="#ccccff"/><stop offset="15.00%" stop-color="#ccccff"/><stop offset="18.33%" stop-color="#ffffff"/><stop offset="20.56%" stop-color="#ffffff"/><stop offset="23.89%" stop-color="#e6e6ff"/><stop offset="26.11%" stop-color="#e6e6ff"/><stop offset="29.44%" stop-color="#ccccff"/><stop offset="31.67%" stop-color="#ccccff"/><stop offset="35.00%" stop-color="#b2b2ff"/><stop offset="37.22%" stop-color="#b2b2ff"/><stop offset="40.56%" stop-color="#9999ff"/><stop offset="42.78%" stop-color="#9999ff"/><stop offset="46.11%" stop-color="#ccccff"/><stop offset="48.33%" stop-color="#ccccff"/><stop offset="51.67%" stop-color="#e6e6ff"/><stop offset="53.89%" stop-color="#e6e6ff"/><stop offset="57.22%" stop-color="#ffcccc"/><stop offset="59.44%" stop-color="#ffcccc"/><stop offset="62.78%" stop-color="#ffb2b2"/><stop offset="65.00%" stop-color="#ffb2b2"/><stop offset="68.33%" stop-color="#ffb2b2"/><stop offset="70.56%" stop-color="#ffb2b2"/><stop offset="73.89%" stop-color="#ffcccc"/><stop offset="76.11%" stop-color="#ffcccc"/><stop offset="79.44%" stop-color="#ffffff"/><stop offset="81.67%" stop-color="#ffffff"/><stop offset="85.00%" stop-color="#ffe6e6"/><stop offset="87.22%" stop-color="#ffe6e6"/><stop offset="90.56%" stop-color="#e6e6ff"/><stop offset="92.78%" stop-color="#e6e6ff"/><stop offset="96.11%" stop-color="#ccccff"/><stop offset="98.33%" stop-color="#ccccff"/></linearGradient>
<linearGradient id="g3_5" x1="0" y1="0" x2="0" y2="1"><stop offset="1.67%" stop-color="#9999ff"/><stop offset="3.89%" stop-color="#9999ff"/><stop offset="7.22%" stop-color="#b2b2ff"/><stop offset="9.44%" stop-color="#b2b2ff"/><stop offset="12.78%" stop-color="#ccccff"/><stop offset="15.00%" stop-color="#ccccff"/><stop offset="18.33%" stop-color="#ffffff"/><stop offset="20.56%" stop-color="#ffffff"/><stop offset="23.89%" stop-color="#e6e6ff"/><stop offset="26.11%" stop-color="#e6e6ff"/><stop offset="29.44%" stop-color="#ccccff"/><stop offset="31.67%" stop-color="#ccccff"/><stop offset="35.00%" stop-color="#b2b2ff"/><stop offset="37.22%" stop-color="#b2b2ff"/><stop offset="40.56%" stop-color="#9999ff"/><stop offset="42.78%" stop-color="#9999ff"/><stop offset="46.11%" stop-color="#b2b2ff"/><stop offset="48.33%" stop-color="#b2b2ff"/><stop offset="51.67%" stop-color="#ccccff"/><stop offset="53.89%" stop-color="#ccccff"/><stop offset="57.22%" stop-color="#ffcccc"/><stop offset="59.44%" stop-color="#ffcccc"/><stop offset="62.78%" stop-color="#ffb2b2"/><stop offset="65.00%" stop-color="#ffb2b2"/><stop offset="68.33%" stop-color="#ffb2b2"/><stop offset="70.56%" stop-color="#ffb2b2"/><stop offset="73.89%" stop-color="#ffcccc"/><stop offset="76.11%" stop-color="#ffcccc"/><stop offset="79.44%" stop-color="#ffffff"/><stop offset="81.67%" stop-color="#ffffff"/><stop offset="85.00%" stop-color="#ffe6e6"/><stop offset="87.22%" stop-color="#ffe6e6"/><stop offset="90.56%" stop-color="#ffcccc"/><stop offset="92.78%" stop-color="#ffcccc"/><stop offset="96.11%" stop-color="#e6e6ff"/><stop offset="98.33%" stop-color="#e6e6ff"/></linearGradient>
<linearGradient id="g3_6" x1="0" y1="0" x2="0" y2="1"><stop offset="1.67%" stop-color="#9999ff"/><stop offset="3.89%" stop-color="#9999ff"/><stop offset="7.22%" stop-color="#b2b2ff"/><stop offset="9.44%" stop-color="#b2b2ff"/><stop offset="12.78%" stop-color="#ccccff"/><stop offset="15.00%" stop-color="#ccccff"/><stop offset="18.33%" stop-color="#ffffff"/><stop offset="20.56%" stop-color="#ffffff"/><stop offset="23.89%" stop-color="#e6e6ff"/><stop offset="26.11%" stop-color="#e6e6ff"/><stop offset="29.44%" stop-color="#ccccff"/><stop offset="31.67%" stop-color="#ccccff"/><stop offset="35.00%" stop-color="#b2b2ff"/><stop offset="37.22%" stop-color="#b2b2ff"/><stop offset="40.56%" stop-color="#9999ff"/><stop offset="42.78%" stop-color="#9999ff"/><stop offset="46.11%" stop-color="#b2b2ff"/><stop offset="48.33%" stop-color="#b2b2ff"/><stop offset="51.67%" stop-color="#ccccff"/><stop offset="53.89%" stop-color="#ccccff"/><stop offset="57.22%" stop-color="#ffcccc"/><stop offset="59.44%" stop-color="#ffcccc"/><stop offset="62.78%" stop-color="#ffb2b2"/><stop offset="65.00%" stop-color="#ffb2b2"/><stop offset="68.33%" stop-color="#ffb2b2"/><stop offset="70.56%" stop-color="#ffb2b2"/><stop offset="73.89%" stop-color="#ffcccc"/><stop offset="76.11%" stop-color="#ffcccc"/><stop offset="79.44%" stop-color="#e6e6ff"/><stop offset="81.67%" stop-color="#e6e6ff"/><stop offset="85.00%" stop-color="#ffe6e6"/><stop offset="87.22%" stop-color="#ffe6e6"/><stop offset="90.56%" stop-color="#ffe6e6"/><stop offset="92.78%" stop-color="#ffe6e6"/><stop offset="96.11%" stop-color="#e6e6ff"/><stop offset="98.33%" stop-color="#e6e6ff"/></linearGradient>
<linearGradient id="g3_7" x1="0" y1="0" x2="0" y2="1"><stop offset="1.67%" stop-color="#9999ff"/><stop offset="3.89%" stop-color="#9999ff"/><stop offset="7.22%" stop-color="#b2b2ff"/><stop offset="9.44%" stop-color="#b2b2ff"/><stop offset="12.78%" stop-color="#ccccff"/><stop offset="15.00%" stop-color="#ccccff"/><stop offset="18.33%" stop-color="#ffffff"/><stop offset="20.56%" stop-color="#ffffff"/><stop offset="23.89%" stop-color="#e6e6ff"/><stop offset="26.11%" stop-color="#e6e6ff"/><stop offset="29.44%" stop-color="#ccccff"/><stop offset="31.67%" stop-color="#ccccff"/><stop offset="35.00%" stop-color="#b2b2ff"/><stop offset="37.22%" stop-color="#b2b2ff"/><stop offset="40.56%" stop-color="#b2b2ff"/><stop offset="42.78%" stop-color="#b2b2ff"/><stop offset="46.11%" stop-color="#ccccff"/><stop offset="48.33%" stop-color="#ccccff"/><stop offset="51.67%" stop-color="#ccccff"/><stop offset="53.89%" stop-color="#ccccff"/><stop offset="57.22%" stop-color="#e6e6ff"/><stop offset="59.44%" stop-color="#e6e6ff"/><stop offset="62.78%" stop-color="#ffe6e6"/><stop offset="65.00%" stop-color="#ffe6e6"/><stop offset="68.33%" stop-color="#ffe6e6"/><stop offset="70.56%" stop-color="#ffe6e6"/><stop offset="73.89%" stop-color="#ffe6e6"/><stop offset="76.11%" stop-color="#ffe6e6"/><stop offset="79.44%" stop-color="#e6e6ff"/><stop offset="81.67%" stop-color="#e6e6ff"/><stop offset="85.00%" stop-color="#ffe6e6"/><stop offset="87.22%" stop-color="#ffe6e6"/><stop offset="90.56%" stop-color="#e6e6ff"/><stop offset="92.78%" stop-color="#e6e6ff"/><stop offset="96.11%" stop-color="#ccccff"/><stop offset="98.33%" stop-color="#ccccff"/></linearGradient>
<linearGradient id="g3_8" x1="0" y1="0" x2="0" y2="1"><stop offset="1.67%" stop-color="#9999ff"/><stop offset="3.89%" stop-color="#9999ff"/><stop offset="7.22%" stop-color="#b2b2ff"/><stop offset="9.44%" stop-color="#b2b2ff"/><stop offset="12.78%" stop-color="#ccccff"/><stop offset="15.00%" stop-color="#ccccff"/><stop offset="18.33%" stop-color="#ffffff"/><stop offset="20.56%" stop-color="#ffffff"/><stop offset="23.89%" stop-color="#e6e6ff"/><stop offset="26.11%" stop-color="#e6e6ff"/><stop offset="29.44%" stop-color="#ccccff"/><stop offset="31.67%" stop-color="#ccccff"/><stop offset="35.00%" stop-color="#ccccff"/><stop offset="37.22%" stop-color="#ccccff"/><stop offset="40.56%" stop-color="#ccccff"/><stop offset="42.78%" stop-color="#ccccff"/><stop offset="46.11%" stop-color="#ccccff"/><stop offset="48.33%" stop-color="#ccccff"/><stop offset="51.67%" stop-color="#ccccff"/><stop offset="53.89%" stop-color="#ccccff"/><stop offset="57.22%" stop-color="#e6e6ff"/><stop offset="59.44%" stop-color="#e6e6ff"/><stop offset="62.78%" stop-color="#ffe6e6"/><stop offset="65.00%" stop-color="#ffe6e6"/><stop offset="68.33%" stop-color="#ffcccc"/><stop offset="70.56%" stop-color="#ffcccc"/><stop offset="73.89%" stop-color="#ffe6e6"/><stop offset="76.11%" stop-color="#ffe6e6"/><stop offset="79.44%" stop-color="#e6e6ff"/><stop offset="81.67%" stop-color="#e6e6ff"/><stop offset="85.00%" stop-color="#ffe6e6"/><stop offset="87.22%" stop-color="#ffe6e6"/><stop offset="90.56%" stop-color="#e6e6ff"/><stop offset="92.78%" stop-color="#e6e6ff"/><stop offset="96.11%" stop-color="#ccccff"/><stop offset="98.33%" stop-color="#ccccff"/></linearGradient>
<linearGradient id="g3_9" x1="0" y1="0" x2="0" y2="1"><stop offset="1.67%" stop-color="#9999ff"/><stop offset="3.89%" stop-color="#9999ff"/><stop offset="7.22%" stop-color="#b2b2ff"/><stop offset="9.44%" stop-color="#b2b2ff"/><stop offset="12.78%" stop-color="#ccccff"/><stop offset="15.00%" stop-color="#ccccff"/><stop offset="18.33%" stop-color="#ffffff"/><stop offset="20.56%" stop-color="#ffffff"/><stop offset="23.89%" stop-color="#e6e6ff"/><stop offset="26.11%" stop-color="#e6e6ff"/><stop offset="29.44%" stop-color="#ccccff"/><stop offset="31.67%" stop-color="#ccccff"/><stop offset="35.00%" stop-color="#ccccff"/><stop offset="37.22%" stop-color="#ccccff"/><stop offset="40.56%" stop-color="#ccccff"/><stop offset="42.78%" stop-color="#ccccff"/><stop offset="46.11%" stop-color="#ccccff"/><stop offset="48.33%" stop-color="#ccccff"/><stop offset="51.67%" stop-color="#ccccff"/><stop offset="53.89%" stop-color="#ccccff"/><stop offset="57.22%" stop-color="#e6e6ff"/><stop offset="59.44%" stop-color="#e6e6ff"/><stop offset="62.78%" stop-color="#ffe6e6"/><stop offset="65.00%" stop-color="#ffe6e6"/><stop offset="68.33%" stop-color="#ffe6e6"/><stop offset="70.56%" stop-color="#ffe6e6"/><stop offset="73.89%" stop-color="#ffe6e6"/><stop offset="76.11%" stop-color="#ffe6e6"/><stop offset="79.44%" stop-color="#ccccff"/><stop offset="81.67%" stop-color="#ccccff"/><stop offset="85.00%" stop-color="#e6e6ff"/><stop offset="87.22%" stop-color="#e6e6ff"/><stop offset="90.56%" stop-color="#e6e6ff"/><stop offset="92.78%" stop-color="#e6e6ff"/><stop offset="96.11%" stop-color="#ccccff"/><stop offset="98.33%" stop-color="#ccccff"/></linearGradient>
<linearGradient id="g3_10" x1="0" y1="0" x2="0" y2="1"><stop offset="1.67%" stop-color="#9999ff"/><stop offset="3.89%" stop-color="#9999ff"/><stop offset="7.22%" stop-color="#b2b2ff"/><stop offset="9.44%" stop-color="#b2b2ff"/><stop offset="12.78%" stop-color="#ccccff"/><stop offset="15.00%" stop-color="#ccccff"/><stop offset="18.33%" stop-color="#ffffff"/><stop offset="20.56%" stop-color="#ffffff"/><stop offset="23.89%" stop-color="#e6e6ff"/><stop offset="26.11%" stop-color="#e6e6ff"/><stop offset="29.44%" stop-color="#ccccff"/><stop offset="31.67%" stop-color="#ccccff"/><stop offset="35.00%" stop-color="#e6e6ff"/><stop offset="37.22%" stop-color="#e6e6ff"/><stop offset="40.56%" stop-color="#e6e6ff"/><stop offset="42.78%" stop-color="#e6e6ff"/><stop offset="46.11%" stop-color="#e6e6ff"/><stop offset="48.33%" stop-color="#e6e6ff"/><stop offset="51.67%" stop-color="#e6e6ff"/><stop offset="53.89%" stop-color="#e6e6ff"/><stop offset="57.22%" stop-color="#ffffff"/><stop offset="59.44%" stop-color="#ffffff"/><stop offset="62.78%" stop-color="#ffe6e6"/><stop offset="65.00%" stop-color="#ffe6e6"/><stop offset="68.33%" stop-color="#ffe6e6"/><stop offset="70.56%" stop-color="#ffe6e6"/><stop offset="73.89%" stop-color="#ffe6e6"/><stop offset="76.11%" stop-color="#ffe6e6"/><stop offset="79.44%" stop-color="#ffffff"/><stop offset="81.67%" stop-color="#ffffff"/><stop offset="85.00%" stop-color="#ffe6e6"/><stop offset="87.22%" stop-color="#ffe6e6"/><stop offset="90.56%" stop-color="#ffe6e6"/><stop offset="92.78%" stop-color="#ffe6e6"/><stop offset="96.11%" stop-color="#e6e6ff"/><stop offset="98.33%" stop-color="#e6e6ff"/></linearGradient>
<linearGradient id="g3_11" x1="0" y1="0" x2="0" y2="1"><stop offset="1.67%" stop-color="#9999ff"/><stop offset="3.89%" stop-color="#9999ff"/><stop offset="7.22%" stop-color="#b2b2ff"/><stop offset="9.44%" stop-color="#b2b2ff"/><stop offset="12.78%" stop-color="#ccccff"/><stop offset="15.00%" stop-color="#ccccff"/><stop offset="18.33%" stop-color="#ffffff"/><stop offset="20.56%" stop-color="#ffffff"/><stop offset="23.89%" stop-color="#e6e6ff"/><stop offset="26.11%" stop-color="#e6e6ff"/><stop offset="29.44%" stop-color="#ccccff"/><stop offset="31.67%" stop-color="#ccccff"/><stop offset="35.00%" stop-color="#e6e6ff"/><stop offset="37.22%" stop-color="#e6e6ff"/><stop offset="40.56%" stop-color="#e6e6ff"/><stop offset="42.78%" stop-color="#e6e6ff"/><stop offset="46.11%" stop-color="#e6e6ff"/><stop offset="48.33%" stop-color="#e6e6ff"/><stop offset="51.67%" stop-color="#ffffff"/><stop offset="53.89%" stop-color="#ffffff"/><stop offset="57.22%" stop-color="#ffe6e6"/><stop offset="59.44%" stop-color="#ffe6e6"/><stop offset="62.78%" stop-color="#ffcccc"/><stop offset="65.00%" stop-color="#ffcccc"/><stop offset="68.33%" stop-color="#ffcccc"/><stop offset="70.56%" stop-color="#ffcccc"/><stop offset="73.89%" stop-color="#ffcccc"/><stop offset="76.11%" stop-color="#ffcccc"/><stop offset="79.44%" stop-color="#ffe6e6"/><stop offset="81.67%" stop-color="#ffe6e6"/><stop offset="85.00%" stop-color="#ffffff"/><stop offset="87.22%" stop-color="#ffffff"/><stop offset="90.56%" stop-color="#e6e6ff"/><stop offset="92.78%" stop-color="#e6e6ff"/><stop offset="96.11%" stop-color="#e6e6ff"/><stop offset="98.33%" stop-color="#e6e6ff"/></linearGradient>
<linearGradient id="g3_12" x1="0" y1="0" x2="0" y2="1"><stop offset="1.67%" stop-color="#9999ff"/><stop offset="3.89%" stop-color="#9999ff"/><stop offset="7.22%" stop-color="#9999ff"/><stop offset="9.44%" stop-color="#9999ff"/><stop offset="12.78%" stop-color="#b2b2ff"/><stop offset="15.00%" stop-color="#b2b2ff"/><stop offset="18.33%" stop-color="#ccccff"/><stop offset="20.56%" stop-color="#ccccff"/><stop offset="23.89%" stop-color="#ccccff"/><stop offset="26.11%" stop-color="#ccccff"/><stop offset="29.44%" stop-color="#b2b2ff"/><stop offset="31.67%" stop-color="#b2b2ff"/><stop offset="35.00%" stop-color="#6666ff"/><stop offset="37.22%" stop-color="#6666ff"/><stop offset="40.56%" stop-color="#6666ff"/><stop offset="42.78%" stop-color="#6666ff"/><stop offset="46.11%" stop-color="#ccccff"/><stop offset="48.33%" stop-color="#ccccff"/><stop offset="51.67%" stop-color="#ffe6e6"/><stop offset="53.89%" stop-color="#ffe6e6"/><stop offset="57.22%" stop-color="#ffcccc"/><stop offset="59.44%" stop-color="#ffcccc"/><stop offset="62.78%" stop-color="#ffb2b2"/><stop offset="65.00%" stop-color="#ffb2b2"/><stop offset="68.33%" stop-color="#ffb2b2"/><stop offset="70.56%" stop-color="#ffb2b2"/><stop offset="73.89%" stop-color="#ffcccc"/><stop offset="76.11%" stop-color="#ffcccc"/><stop offset="79.44%" stop-color="#ffe6e6"/><stop offset="81.67%" stop-color="#ffe6e6"/><stop offset="85.00%" stop-color="#e6e6ff"/><stop offset="87.22%" stop-color="#e6e6ff"/><stop offset="90.56%" stop-color="#e6e6ff"/><stop offset="92.78%" stop-color="#e6e6ff"/><stop offset="96.11%" stop-color="#ccccff"/><stop offset="98.33%" stop-color="#ccccff"/></linearGradient>
<linearGradient id="g3_13" x1="0" y1="0" x2="0" y2="1"><stop offset="1.67%" stop-color="#b2b2ff"/><stop offset="3.89%" stop-color="#b2b2ff"/><stop offset="7.22%" stop-color="#b2b2ff"/><stop offset="9.44%" stop-color="#b2b2ff"/><stop offset="12.78%" stop-color="#b2b2ff"/><stop offset="15.00%" stop-color="#b2b2ff"/><stop offset="18.33%" stop-color="#b2b2ff"/><stop offset="20.56%" stop-color="#b2b2ff"/><stop offset="23.89%" stop-color="#b2b2ff"/><stop offset="26.11%" stop-color="#b2b2ff"/><stop offset="29.44%" stop-color="#9999ff"/><stop offset="31.67%" stop-color="#9999ff"/><stop offset="35.00%" stop-color="#9999ff"/><stop offset="37.22%" stop-color="#9999ff"/><stop offset="40.56%" stop-color="#b2b2ff"/><stop offset="42.78%" stop-color="#b2b2ff"/><stop offset="46.11%" stop-color="#e6e6ff"/><stop offset="48.33%" stop-color="#e6e6ff"/><stop offset="51.67%" stop-color="#ffe6e6"/><stop offset="53.89%" stop-color="#ffe6e6"/><stop offset="57.22%" stop-color="#ffb2b2"/><stop offset="59.44%" stop-color="#ffb2b2"/><stop offset="62.78%" stop-color="#ff9999"/><stop offset="65.00%" stop-color="#ff9999"/><stop offset="68.33%" stop-color="#ff9999"/><stop offset="70.56%" stop-color="#ff9999"/><stop offset="73.89%" stop-color="#ffcccc"/><stop offset="76.11%" stop-color="#ffcccc"/><stop offset="79.44%" stop-color="#ffe6e6"/><stop offset="81.67%" stop-color="#ffe6e6"/><stop offset="85.00%" stop-color="#e6e6ff"/><stop offset="87.22%" stop-color="#e6e6ff"/><stop offset="90.56%" stop-color="#e6e6ff"/><stop offset="92.78%" stop-color="#e6e6ff"/><stop offset="96.11%" stop-color="#ccccff"/><stop offset="98.33%" stop-color="#ccccff"/></linearGradient>
<linearGradient id="g3_14" x1="0" y1="0" x2="0" y2="1"><stop offset="1.67%" stop-color="#8080ff"/><stop offset="3.89%" stop-color="#8080ff"/><stop offset="7.22%" stop-color="#8080ff"/><stop offset="9.44%" stop-color="#8080ff"/><stop offset="12.78%" stop-color="#8080ff"/><stop offset="15.00%" stop-color="#8080ff"/><stop offset="18.33%" stop-color="#9999ff"/><stop offset="20.56%" stop-color="#9999ff"/><stop offset="23.89%" stop-color="#9999ff"/><stop offset="26.11%" stop-color="#9999ff"/><stop offset="29.44%" stop-color="#9999ff"/><stop offset="31.67%" stop-color="#9999ff"/><stop offset="35.00%" stop-color="#b2b2ff"/><stop offset="37.22%" stop-color="#b2b2ff"/><stop offset="40.56%" stop-color="#ccccff"/><stop offset="42.78%" stop-color="#ccccff"/><stop offset="46.11%" stop-color="#e6e6ff"/><stop offset="48.33%" stop-color="#e6e6ff"/><stop offset="51.67%" stop-color="#ffe6e6"/><stop offset="53.89%" stop-color="#ffe6e6"/><stop offset="57.22%" stop-color="#ffb2b2"/><stop offset="59.44%" stop-color="#ffb2b2"/><stop offset="62.78%" stop-color="#ff9999"/><stop offset="65.00%" stop-color="#ff9999"/><stop offset="68.33%" stop-color="#ffb2b2"/><stop offset="70.56%" stop-color="#ffb2b2"/><stop offset="73.89%" stop-color="#ffe6e6"/><stop offset="76.11%" stop-color="#ffe6e6"/><stop offset="79.44%" stop-color="#e6e6ff"/><stop offset="81.67%" stop-color="#e6e6ff"/><stop offset="85.00%" stop-color="#e6e6ff"/><stop offset="87.22%" stop-color="#e6e6ff"/><stop offset="90.56%" stop-color="#ccccff"/><stop offset="92.78%" stop-color="#ccccff"/><stop offset="96.11%" stop-color="#b2b2ff"/><stop offset="98.33%" stop-color="#b2b2ff"/></linearGradient>
<linearGradient id="g3_15" x1="0" y1="0" x2="0" y2="1"><stop offset="1.67%" stop-color="#9999ff"/><stop offset="3.89%" stop-color="#9999ff"/><stop offset="7.22%" stop-color="#b2b2ff"/><stop offset="9.44%" stop-color="#b2b2ff"/><stop offset="12.78%" stop-color="#b2b2ff"/><stop offset="15.00%" stop-color="#b2b2ff"/><stop offset="18.33%" stop-color="#ccccff"/><stop offset="20.56%" stop-color="#ccccff"/><stop offset="23.89%" stop-color="#ccccff"/><stop offset="26.11%" stop-color="#ccccff"/><stop offset="29.44%" stop-color="#e6e6ff"/><stop offset="31.67%" stop-color="#e6e6ff"/><stop offset="35.00%" stop-color="#e6e6ff"/><stop offset="37.22%" stop-color="#e6e6ff"/><stop offset="40.56%" stop-color="#ffffff"/><stop offset="42.78%" stop-color="#ffffff"/><stop offset="46.11%" stop-color="#ffe6e6"/><stop offset="48.33%" stop-color="#ffe6e6"/><stop offset="51.67%" stop-color="#ffcccc"/><stop offset="53.89%" stop-color="#ffcccc"/><stop offset="57.22%" stop-color="#ffb2b2"/><stop offset="59.44%" stop-color="#ffb2b2"/><stop offset="62.78%" stop-color="#ff9999"/><stop offset="65.00%" stop-color="#ff9999"/><stop offset="68.33%" stop-color="#ff9999"/><stop offset="70.56%" stop-color="#ff9999"/><stop offset="73.89%" stop-color="#ffe6e6"/><stop offset="76.11%" stop-color="#ffe6e6"/><stop offset="79.44%" stop-color="#e6e6ff"/><stop offset="81.67%" stop-color="#e6e6ff"/><stop offset="85.00%" stop-color="#ccccff"/><stop offset="87.22%" stop-color="#ccccff"/><stop offset="90.56%" stop-color="#ccccff"/><stop offset="92.78%" stop-color="#ccccff"/><stop offset="96.11%" stop-color="#ccccff"/><stop offset="98.33%" stop-color="#ccccff"/></linearGradient>
<linearGradient id="g3_16" x1="0" y1="0" x2="0" y2="1"><stop offset="1.67%" stop-color="#ffb2b2"/><stop offset="3.89%" stop-color="#ffb2b2"/><stop offset="7.22%" stop-color="#ffb2b2"/><stop offset="9.44%" stop-color="#ffb2b2"/><stop offset="12.78%" stop-color="#ffb2b2"/><stop offset="15.00%" stop-color="#ffb2b2"/><stop offset="18.33%" stop-color="#ffb2b2"/><stop offset="20.56%" stop-color="#ffb2b2"/><stop offset="23.89%" stop-color="#ffb2b2"/><stop offset="26.11%" stop-color="#ffb2b2"/><stop offset="29.44%" stop-color="#ffb2b2"/><stop offset="31.67%" stop-color="#ffb2b2"/><stop offset="35.00%" stop-color="#ff9999"/><stop offset="37.22%" stop-color="#ff9999"/><stop offset="40.56%" stop-color="#ff9999"/><stop offset="42.78%" stop-color="#ff9999"/><stop offset="46.11%" stop-color="#ff8080"/><stop offset="48.33%" stop-color="#ff8080"/><stop offset="51.67%" stop-color="#ff6666"/><stop offset="53.89%" stop-color="#ff6666"/><stop offset="57.22%" stop-color="#ff6666"/><stop offset="59.44%" stop-color="#ff6666"/><stop offset="62.78%" stop-color="#ff8080"/><stop offset="65.00%" stop-color="#ff8080"/><stop offset="68.33%" stop-color="#ffb2b2"/><stop offset="70.56%" stop-color="#ffb2b2"/><stop offset="73.89%" stop-color="#e6e6ff"/><stop offset="76.11%" stop-color="#e6e6ff"/><stop offset="79.44%" stop-color="#1a1aff"/><stop offset="81.67%" stop-color="#1a1aff"/><stop offset="85.00%" stop-color="#1a1aff"/><stop offset="87.22%" stop-color="#1a1aff"/><stop offset="90.56%" stop-color="#1a1aff"/><stop offset="92.78%" stop-color="#1a1aff"/><stop offset="96.11%" stop-color="#3333ff"/><stop offset="98.33%" stop-color="#3333ff"/></linearGradient>
<linearGradient id="g3_17" x1="0" y1="0" x2="0" y2="1"><stop offset="1.67%" stop-color="#8080ff"/><stop offset="3.89%" stop-color="#8080ff"/><stop offset="7.22%" stop-color="#8080ff"/><stop offset="9.44%" stop-color="#8080ff"/><stop offset="12.78%" stop-color="#8080ff"/><stop offset="15.00%" stop-color="#8080ff"/><stop offset="18.33%" stop-color="#9999ff"/><stop offset="20.56%" stop-color="#9999ff"/><stop offset="23.89%" stop-color="#9999ff"/><stop offset="26.11%" stop-color="#9999ff"/><stop offset="29.44%" stop-color="#9999ff"/><stop offset="31.67%" stop-color="#9999ff"/><stop offset="35.00%" stop-color="#9999ff"/><stop offset="37.22%" stop-color="#9999ff"/><stop offset="40.56%" stop-color="#b2b2ff"/><stop offset="42.78%" stop-color="#b2b2ff"/><stop offset="46.11%" stop-color="#b2b2ff"/><stop offset="48.33%" stop-color="#b2b2ff"/><stop offset="51.67%" stop-color="#ccccff"/><stop offset="53.89%" stop-color="#ccccff"/><stop offset="57.22%" stop-color="#ccccff"/><stop offset="59.44%" stop-color="#ccccff"/><stop offset="62.78%" stop-color="#b2b2ff"/><stop offset="65.00%" stop-color="#b2b2ff"/><stop offset="68.33%" stop-color="#8080ff"/><stop offset="70.56%" stop-color="#8080ff"/><stop offset="73.89%" stop-color="#3333ff"/><stop offset="76.11%" stop-color="#3333ff"/><stop offset="79.44%" stop-color="#0000ff"/><stop offset="81.67%" stop-color="#0000ff"/><stop offset="85.00%" stop-color="#0000ff"/><stop offset="87.22%" stop-color="#0000ff"/><stop offset="90.56%" stop-color="#1a1aff"/><stop offset="92.78%" stop-color="#1a1aff"/><stop offset="96.11%" stop-color="#3333ff"/><stop offset="98.33%" stop-color="#3333ff"/></linearGradient>
<linearGradient id="g3_18" x1="0" y1="0" x2="0" y2="1"><stop offset="1.67%" stop-color="#9999ff"/><stop offset="3.89%" stop-color="#9999ff"/><stop offset="7.22%" stop-color="#9999ff"/><stop offset="9.44%" stop-color="#9999ff"/><stop offset="12.78%" stop-color="#9999ff"/><stop offset="15.00%" stop-color="#9999ff"/><stop offset="18.33%" stop-color="#b2b2ff"/><stop offset="20.56%" stop-color="#b2b2ff"/><stop offset="23.89%" stop-color="#b2b2ff"/><stop offset="26.11%" stop-color="#b2b2ff"/><stop offset="29.44%" stop-color="#ccccff"/><stop offset="31.67%" stop-color="#ccccff"/><stop offset="35.00%" stop-color="#ccccff"/><stop offset="37.22%" stop-color="#ccccff"/><stop offset="40.56%" stop-color="#b2b2ff"/><stop offset="42.78%" stop-color="#b2b2ff"/><stop offset="46.11%" stop-color="#b2b2ff"/><stop offset="48.33%" stop-color="#b2b2ff"/><stop offset="51.67%" stop-color="#ccccff"/><stop offset="53.89%" stop-color="#ccccff"/><stop offset="57.22%" stop-color="#ccccff"/><stop offset="59.44%" stop-color="#ccccff"/><stop offset="62.78%" stop-color="#b2b2ff"/><stop offset="65.00%" stop-color="#b2b2ff"/><stop offset="68.33%" stop-color="#8080ff"/><stop offset="70.56%" stop-color="#8080ff"/><stop offset="73.89%" stop-color="#6666ff"/><stop offset="76.11%" stop-color="#6666ff"/><stop offset="79.44%" stop-color="#3333ff"/><stop offset="81.67%" stop-color="#3333ff"/><stop offset="85.00%" stop-color="#3333ff"/><stop offset="87.22%" stop-color="#3333ff"/><stop offset="90.56%" stop-color="#4c4cff"/><stop offset="92.78%" stop-color="#4c4cff"/><stop offset="96.11%" stop-color="#6666ff"/><stop offset="98.33%" stop-color="#6666ff"/></linearGradient>
<linearGradient id="g3_19" x1="0" y1="0" x2="0" y2="1"><stop offset="1.67%" stop-color="#9999ff"/><stop offset="3.89%" stop-color="#9999ff"/><stop offset="7.22%" stop-color="#9999ff"/><stop offset="9.44%" stop-color="#9999ff"/><stop offset="12.78%" stop-color="#b2b2ff"/><stop offset="15.00%" stop-color="#b2b2ff"/><stop offset="18.33%" stop-color="#b2b2ff"/><stop offset="20.56%" stop-color="#b2b2ff"/><stop offset="23.89%" stop-color="#b2b2ff"/><stop offset="26.11%" stop-color="#b2b2ff"/><stop offset="29.44%" stop-color="#b2b2ff"/><stop offset="31.67%" stop-color="#b2b2ff"/><stop offset="35.00%" stop-color="#b2b2ff"/><stop offset="37.22%" stop-color="#b2b2ff"/><stop offset="40.56%" stop-color="#b2b2ff"/><stop offset="42.78%" stop-color="#b2b2ff"/><stop offset="46.11%" stop-color="#b2b2ff"/><stop offset="48.33%" stop-color="#b2b2ff"/><stop offset="51.67%" stop-color="#ccccff"/><stop offset="53.89%" stop-color="#ccccff"/><stop offset="57.22%" stop-color="#b2b2ff"/><stop offset="59.44%" stop-color="#b2b2ff"/><stop offset="62.78%" stop-color="#b2b2ff"/><stop offset="65.00%" stop-color="#b2b2ff"/><stop offset="68.33%" stop-color="#9999ff"/><stop offset="70.56%" stop-color="#9999ff"/><stop offset="73.89%" stop-color="#8080ff"/><stop offset="76.11%" stop-color="#8080ff"/><stop offset="79.44%" stop-color="#6666ff"/><stop offset="81.67%" stop-color="#6666ff"/><stop offset="85.00%" stop-color="#4c4cff"/><stop offset="87.22%" stop-color="#4c4cff"/><stop offset="90.56%" stop-color="#4c4cff"/><stop offset="92.78%" stop-color="#4c4cff"/><stop offset="96.11%" stop-color="#6666ff"/><stop offset="98.33%" stop-color="#6666ff"/></linearGradient>
<linearGradient id="g3_20" x1="0" y1="0" x2="0" y2="1"><stop offset="1.67%" stop-color="#8080ff"/><stop offset="3.89%" stop-color="#8080ff"/><stop offset="7.22%" stop-color="#8080ff"/><stop offset="9.44%" stop-color="#8080ff"/><stop offset="12.78%" stop-color="#8080ff"/><stop offset="15.00%" stop-color="#8080ff"/><stop offset="18.33%" stop-color="#8080ff"/><stop offset="20.56%" stop-color="#8080ff"/><stop offset="23.89%" stop-color="#6666ff"/><stop offset="26.11%" stop-color="#6666ff"/><stop offset="29.44%" stop-color="#6666ff"/><stop offset="31.67%" stop-color="#6666ff"/><stop offset="35.00%" stop-color="#8080ff"/><stop offset="37.22%" stop-color="#8080ff"/><stop offset="40.56%" stop-color="#8080ff"/><stop offset="42.78%" stop-color="#8080ff"/><stop offset="46.11%" stop-color="#8080ff"/><stop offset="48.33%" stop-color="#8080ff"/><stop offset="51.67%" stop-color="#9999ff"/><stop offset="53.89%" stop-color="#9999ff"/><stop offset="57.22%" stop-color="#9999ff"/><stop offset="59.44%" stop-color="#9999ff"/><stop offset="62.78%" stop-color="#b2b2ff"/><stop offset="65.00%" stop-color="#b2b2ff"/><stop offset="68.33%" stop-color="#ccccff"/><stop offset="70.56%" stop-color="#ccccff"/><stop offset="73.89%" stop-color="#e6e6ff"/><stop offset="76.11%" stop-color="#e6e6ff"/><stop offset="79.44%" stop-color="#ffffff"/><stop offset="81.67%" stop-color="#ffffff"/><stop offset="85.00%" stop-color="#e6e6ff"/><stop offset="87.22%" stop-color="#e6e6ff"/><stop offset="90.56%" stop-color="#ffe6e6"/><stop offset="92.78%" stop-color="#ffe6e6"/><stop offset="96.11%" stop-color="#e6e6ff"/><stop offset="98.33%" stop-color="#e6e6ff"/></linearGradient>
<linearGradient id="g3_21" x1="0" y1="0" x2="0" y2="1"><stop offset="1.67%" stop-color="#4c4cff"/><stop offset="3.89%" stop-color="#4c4cff"/><stop offset="7.22%" stop-color="#3333ff"/><stop offset="9.44%" stop-color="#3333ff"/><stop offset="12.78%" stop-color="#3333ff"/><stop offset="15.00%" stop-color="#3333ff"/><stop offset="18.33%" stop-color="#3333ff"/><stop offset="20.56%" stop-color="#3333ff"/><stop offset="23.89%" stop-color="#3333ff"/><stop offset="26.11%" stop-color="#3333ff"/><stop offset="29.44%" stop-color="#4c4cff"/><stop offset="31.67%" stop-color="#4c4cff"/><stop offset="35.00%" stop-color="#4c4cff"/><stop offset="37.22%" stop-color="#4c4cff"/><stop offset="40.56%" stop-color="#6666ff"/><stop offset="42.78%" stop-color="#6666ff"/><stop offset="46.11%" stop-color="#8080ff"/><stop offset="48.33%" stop-color="#8080ff"/><stop offset="51.67%" stop-color="#9999ff"/><stop offset="53.89%" stop-color="#9999ff"/><stop offset="57.22%" stop-color="#ccccff"/><stop offset="59.44%" stop-color="#ccccff"/><stop offset="62.78%" stop-color="#e6e6ff"/><stop offset="65.00%" stop-color="#e6e6ff"/><stop offset="68.33%" stop-color="#ffb2b2"/><stop offset="70.56%" stop-color="#ffb2b2"/><stop offset="73.89%" stop-color="#ff8080"/><stop offset="76.11%" stop-color="#ff8080"/><stop offset="79.44%" stop-color="#ff9999"/><stop offset="81.67%" stop-color="#ff9999"/><stop offset="85.00%" stop-color="#ffcccc"/><stop offset="87.22%" stop-color="#ffcccc"/><stop offset="90.56%" stop-color="#ffe6e6"/><stop offset="92.78%" stop-color="#ffe6e6"/><stop offset="96.11%" stop-color="#e6e6ff"/><stop offset="98.33%" stop-color="#e6e6ff"/></linearGradient>
<linearGradient id="g3_22" x1="0" y1="0" x2="0" y2="1"><stop offset="1.67%" stop-color="#8080ff"/><stop offset="3.89%" stop-color="#8080ff"/><stop offset="7.22%" stop-color="#6666ff"/><stop offset="9.44%" stop-color="#6666ff"/><stop offset="12.78%" stop-color="#3333ff"/><stop offset="15.00%" stop-color="#3333ff"/><stop offset="18.33%" stop-color="#1a1aff"/><stop offset="20.56%" stop-color="#1a1aff"/><stop offset="23.89%" stop-color="#0000ff"/><stop offset="26.11%" stop-color="#0000ff"/><stop offset="29.44%" stop-color="#0000ff"/><stop offset="31.67%" stop-color="#0000ff"/><stop offset="35.00%" stop-color="#0000ff"/><stop offset="37.22%" stop-color="#0000ff"/><stop offset="40.56%" stop-color="#0000ff"/><stop offset="42.78%" stop-color="#0000ff"/><stop offset="46.11%" stop-color="#1a1aff"/><stop offset="48.33%" stop-color="#1a1aff"/><stop offset="51.67%" stop-color="#4c4cff"/><stop offset="53.89%" stop-color="#4c4cff"/><stop offset="57.22%" stop-color="#8080ff"/><stop offset="59.44%" stop-color="#8080ff"/><stop offset="62.78%" stop-color="#b2b2ff"/><stop offset="65.00%" stop-color="#b2b2ff"/><stop offset="68.33%" stop-color="#e6e6ff"/><stop offset="70.56%" stop-color="#e6e6ff"/><stop offset="73.89%" stop-color="#ffcccc"/><stop offset="76.11%" stop-color="#ffcccc"/><stop offset="79.44%" stop-color="#ffcccc"/><stop offset="81.67%" stop-color="#ffcccc"/><stop offset="85.00%" stop-color="#ffe6e6"/><stop offset="87.22%" stop-color="#ffe6e6"/><stop offset="90.56%" stop-color="#ffe6e6"/><stop offset="92.78%" stop-color="#ffe6e6"/><stop offset="96.11%" stop-color="#e6e6ff"/><stop offset="98.33%" stop-color="#e6e6ff"/></linearGradient>
<linearGradient id="g3_23" x1="0" y1="0" x2="0" y2="1"><stop offset="1.67%" stop-color="#0000ff"/><stop offset="3.89%" stop-color="#0000ff"/><stop offset="7.22%" stop-color="#0000ff"/><stop offset="9.44%" stop-color="#0000ff"/><stop offset="12.78%" stop-color="#0000ff"/><stop offset="15.00%" stop-color="#0000ff"/><stop offset="18.33%" stop-color="#0000ff"/><stop offset="20.56%" stop-color="#0000ff"/><stop offset="23.89%" stop-color="#0000ff"/><stop offset="26.11%" stop-color="#0000ff"/><stop offset="29.44%" stop-color="#0000ff"/><stop offset="31.67%" stop-color="#0000ff"/><stop offset="35.00%" stop-color="#1a1aff"/><stop offset="37.22%" stop-color="#1a1aff"/><stop offset="40.56%" stop-color="#3333ff"/><stop offset="42.78%" stop-color="#3333ff"/><stop offset="46.11%" stop-color="#4c4cff"/><stop offset="48.33%" stop-color="#4c4cff"/><stop offset="51.67%" stop-color="#8080ff"/><stop offset="53.89%" stop-color="#8080ff"/><stop offset="57.22%" stop-color="#b2b2ff"/><stop offset="59.44%" stop-color="#b2b2ff"/><stop offset="62.78%" stop-color="#e6e6ff"/><stop offset="65.00%" stop-color="#e6e6ff"/><stop offset="68.33%" stop-color="#ffffff"/><stop offset="70.56%" stop-color="#ffffff"/><stop offset="73.89%" stop-color="#e6e6ff"/><stop offset="76.11%" stop-color="#e6e6ff"/><stop offset="79.44%" stop-color="#ffffff"/><stop offset="81.67%" stop-color="#ffffff"/><stop offset="85.00%" stop-color="#e6e6ff"/><stop offset="87.22%" stop-color="#e6e6ff"/><stop offset="90.56%" stop-color="#e6e6ff"/><stop offset="92.78%" stop-color="#e6e6ff"/><stop offset="96.11%" stop-color="#ccccff"/><stop offset="98.33%" stop-color="#ccccff"/></linearGradient>
<linearGradient id="g3_24" x1="0" y1="0" x2="0" y2="1"><stop offset="1.67%" stop-color="#8080ff"/><stop offset="3.89%" stop-color="#8080ff"/><stop offset="7.22%" stop-color="#8080ff"/><stop offset="9.44%" stop-color="#8080ff"/><stop offset="12.78%" stop-color="#8080ff"/><stop offset="15.00%" stop-color="#8080ff"/><stop offset="18.33%" stop-color="#8080ff"/><stop offset="20.56%" stop-color="#8080ff"/><stop offset="23.89%" stop-color="#8080ff"/><stop offset="26.11%" stop-color="#8080ff"/><stop offset="29.44%" stop-color="#8080ff"/><stop offset="31.67%" stop-color="#8080ff"/><stop offset="35.00%" stop-color="#9999ff"/><stop offset="37.22%" stop-color="#9999ff"/><stop offset="40.56%" stop-color="#9999ff"/><stop offset="42.78%" stop-color="#9999ff"/><stop offset="46.11%" stop-color="#9999ff"/><stop offset="48.33%" stop-color="#9999ff"/><stop offset="51.67%" stop-color="#b2b2ff"/><stop offset="53.89%" stop-color="#b2b2ff"/><stop offset="57.22%" stop-color="#b2b2ff"/><stop offset="59.44%" stop-color="#b2b2ff"/><stop offset="62.78%" stop-color="#b2b2ff"/><stop offset="65.00%" stop-color="#b2b2ff"/><stop offset="68.33%" stop-color="#b2b2ff"/><stop offset="70.56%" stop-color="#b2b2ff"/><stop offset="73.89%" stop-color="#b2b2ff"/><stop offset="76.11%" stop-color="#b2b2ff"/><stop offset="79.44%" stop-color="#b2b2ff"/><stop offset="81.67%" stop-color="#b2b2ff"/><stop offset="85.00%" stop-color="#b2b2ff"/><stop offset="87.22%" stop-color="#b2b2ff"/><stop offset="90.56%" stop-color="#9999ff"/><stop offset="92.78%" stop-color="#9999ff"/><stop offset="96.11%" stop-color="#9999ff"/><stop offset="98.33%" stop-color="#9999ff"/></linearGradient>
<clipPath id="clip0"><rect x="49.00" y="15.00" width="371.00" height="123.80"/></clipPath>
<clipPath id="clip1"><rect x="49.00" y="161.80" width="371.00" height="124.60"/></clipPath>
<clipPath id="clip2"><rect x="49.00" y="309.30" width="371.00" height="124.60"/></clipPath>
<clipPath id="clip3"><rect x="49.00" y="456.10" width="371.00" height="124.40"/></clipPath>
<linearGradient id="cb" x1="0" y1="0" x2="1" y2="0"><stop offset="0%" stop-color="#000082"/><stop offset="5%" stop-color="#00009b"/><stop offset="10%" stop-color="#0000b4"/><stop offset="15%" stop-color="#0000cd"/><stop offset="20%" stop-color="#0000e6"/><stop offset="25%" stop-color="#0000ff"/><stop offset="30%" stop-color="#3333ff"/><stop offset="35%" stop-color="#6666ff"/><stop offset="40%" stop-color="#9999ff"/><stop offset="45%" stop-color="#ccccff"/><stop offset="50%" stop-color="#ffffff"/><stop offset="55%" stop-color="#ffcccc"/><stop offset="60%" stop-color="#ff9999"/><stop offset="65%" stop-color="#ff6666"/><stop offset="70%" stop-color="#ff3333"/><stop offset="75%" stop-color="#ff0000"/><stop offset="80%" stop-color="#e60000"/><stop offset="85%" stop-color="#cd0000"/><stop offset="90%" stop-color="#b40000"/><stop offset="95%" stop-color="#9b0000"/><stop offset="100%" stop-color="#820000"/></linearGradient></defs>
<rect x="49.00" y="15.00" width="15.14" height="123.80" fill="url(#g0_0)"/>
<rect x="63.84" y="15.00" width="15.14" height="123.80" fill="url(#g0_1)"/>
<rect x="78.68" y="15.00" width="15.14" height="123.80" fill="url(#g0_2)"/>
<rect x="93.52" y="15.00" width="15.14" height="123.80" fill="url(#g0_3)"/>
<rect x="108.36" y="15.00" width="15.14" height="123.80" fill="url(#g0_4)"/>
<rect x="123.20" y="15.00" width="15.14" height="123.80" fill="url(#g0_5)"/>
<rect x="138.04" y="15.00" width="15.14" height="123.80" fill="url(#g0_6)"/>
<rect x="152.88" y="15.00" width="15.14" height="123.80" fill="url(#g0_7)"/>
<rect x="167.72" y="15.00" width="15.14" height="123.80" fill="url(#g0_8)"/>
<rect x="182.56" y="15.00" width="15.14" height="123.80" fill="url(#g0_9)"/>
<rect x="197.40" y="15.00" width="15.14" height="123.80" fill="url(#g0_10)"/>
<rect x="212.24" y="15.00" width="15.14" height="123.80" fill="url(#g0_11)"/>
<rect x="227.08" y="15.00" width="15.14" height="123.80" fill="url(#g0_12)"/>
<rect x="241.92" y="15.00" width="15.14" height="123.80" fill="url(#g0_13)"/>
<rect x="256.76" y="15.00" width="15.14" height="123.80" fill="url(#g0_14)"/>
<rect x="271.60" y="15.00" width="15.14" height="123.80" fill="url(#g0_15)"/>
<rect x="286.44" y="15.00" width="15.14" height="123.80" fill="url(#g0_16)"/>
<rect x="301.28" y="15.00" width="15.14" height="123.80" fill="url(#g0_17)"/>
<rect x="316.12" y="15.00" width="15.14" height="123.80" fill="url(#g0_18)"/>
<rect x="330.96" y="15.00" width="15.14" height="123.80" fill="url(#g0_19)"/>
<rect x="345.80" y="15.00" width="15.14" height="123.80" fill="url(#g0_20)"/>
<rect x="360.64" y="15.00" width="15.14" height="123.80" fill="url(#g0_21)"/>
<rect x="375.48" y="15.00" width="15.14" height="123.80" fill="url(#g0_22)"/>
<rect x="390.32" y="15.00" width="15.14" height="123.80" fill="url(#g0_23)"/>
<rect x="405.16" y="15.00" width="15.14" height="123.80" fill="url(#g0_24)"/>
<rect x="49.00" y="129.72" width="371.00" height="9.08" fill="#c4c4c4"/>
<rect x="49.00" y="161.80" width="15.14" height="124.60" fill="url(#g1_0)"/>
<rect x="63.84" y="161.80" width="15.14" height="124.60" fill="url(#g1_1)"/>
<rect x="78.68" y="161.80" width="15.14" height="124.60" fill="url(#g1_2)"/>
<rect x="93.52" y="161.80" width="15.14" height="124.60" fill="url(#g1_3)"/>
<rect x="108.36" y="161.80" width="15.14" height="124.60" fill="url(#g1_4)"/>
<rect x="123.20" y="161.80" width="15.14" height="124.60" fill="url(#g1_5)"/>
<rect x="138.04" y="161.80" width="15.14" height="124.60" fill="url(#g1_6)"/>
<rect x="152.88" y="161.80" width="15.14" height="124.60" fill="url(#g1_7)"/>
<rect x="167.72" y="161.80" width="15.14" height="124.60" fill="url(#g1_8)"/>
<rect x="182.56" y="161.80" width="15.14" height="124.60" fill="url(#g1_9)"/>
<rect x="197.40" y="161.80" width="15.14" height="124.60" fill="url(#g1_10)"/>
<rect x="212.24" y="161.80" width="15.14" height="124.60" fill="url(#g1_11)"/>
<rect x="227.08" y="161.80" width="15.14" height="124.60" fill="url(#g1_12)"/>
<rect x="241.92" y="161.80" width="15.14" height="124.60" fill="url(#g1_13)"/>
<rect x="256.76" y="161.80" width="15.14" height="124.60" fill="url(#g1_14)"/>
<rect x="271.60" y="161.80" width="15.14" height="124.60" fill="url(#g1_15)"/>
<rect x="286.44" y="161.80" width="15.14" height="124.60" fill="url(#g1_16)"/>
<rect x="301.28" y="161.80" width="15.14" height="124.60" fill="url(#g1_17)"/>
<rect x="316.12" y="161.80" width="15.14" height="124.60" fill="url(#g1_18)"/>
<rect x="330.96" y="161.80" width="15.14" height="124.60" fill="url(#g1_19)"/>
<rect x="345.80" y="161.80" width="15.14" height="124.60" fill="url(#g1_20)"/>
<rect x="360.64" y="161.80" width="15.14" height="124.60" fill="url(#g1_21)"/>
<rect x="375.48" y="161.80" width="15.14" height="124.60" fill="url(#g1_22)"/>
<rect x="390.32" y="161.80" width="15.14" height="124.60" fill="url(#g1_23)"/>
<rect x="405.16" y="161.80" width="15.14" height="124.60" fill="url(#g1_24)"/>
<rect x="49.00" y="277.26" width="371.00" height="9.14" fill="#c4c4c4"/>
<rect x="49.00" y="309.30" width="15.14" height="124.60" fill="url(#g2_0)"/>
<rect x="63.84" y="309.30" width="15.14" height="124.60" fill="url(#g2_1)"/>
<rect x="78.68" y="309.30" width="15.14" height="124.60" fill="url(#g2_2)"/>
<rect x="93.52" y="309.30" width="15.14" height="124.60" fill="url(#g2_3)"/>
<rect x="108.36" y="309.30" width="15.14" height="124.60" fill="url(#g2_4)"/>
<rect x="123.20" y="309.30" width="15.14" height="124.60" fill="url(#g2_5)"/>
<rect x="138.04" y="309.30" width="15.14" height="124.60" fill="url(#g2_6)"/>
<rect x="152.88" y="309.30" width="15.14" height="124.60" fill="url(#g2_7)"/>
<rect x="167.72" y="309.30" width="15.14" height="124.60" fill="url(#g2_8)"/>
<rect x="182.56" y="309.30" width="15.14" height="124.60" fill="url(#g2_9)"/>
<rect x="197.40" y="309.30" width="15.14" height="124.60" fill="url(#g2_10)"/>
<rect x="212.24" y="309.30" width="15.14" height="124.60" fill="url(#g2_11)"/>
<rect x="227.08" y="309.30" width="15.14" height="124.60" fill="url(#g2_12)"/>
<rect x="241.92" y="309.30" width="15.14" height="124.60" fill="url(#g2_13)"/>
<rect x="256.76" y="309.30" width="15.14" height="124.60" fill="url(#g2_14)"/>
<rect x="271.60" y="309.30" width="15.14" height="124.60" fill="url(#g2_15)"/>
<rect x="286.44" y="309.30" width="15.14" height="124.60" fill="url(#g2_16)"/>
<rect x="301.28" y="309.30" width="15.14" height="124.60" fill="url(#g2_17)"/>
<rect x="316.12" y="309.30" width="15.14" height="124.60" fill="url(#g2_18)"/>
<rect x="330.96" y="309.30" width="15.14" height="124.60" fill="url(#g2_19)"/>
<rect x="345.80" y="309.30" width="15.14" height="124.60" fill="url(#g2_20)"/>
<rect x="360.64" y="309.30" width="15.14" height="124.60" fill="url(#g2_21)"/>
<rect x="375.48" y="309.30" width="15.14" height="124.60" fill="url(#g2_22)"/>
<rect x="390.32" y="309.30" width="15.14" height="124.60" fill="url(#g2_23)"/>
<rect x="405.16" y="309.30" width="15.14" height="124.60" fill="url(#g2_24)"/>
<rect x="49.00" y="456.10" width="15.14" height="124.40" fill="url(#g3_0)"/>
<rect x="63.84" y="456.10" width="15.14" height="124.40" fill="url(#g3_1)"/>
<rect x="78.68" y="456.10" width="15.14" height="124.40" fill="url(#g3_2)"/>
<rect x="93.52" y="456.10" width="15.14" height="124.40" fill="url(#g3_3)"/>
<rect x="108.36" y="456.10" width="15.14" height="124.40" fill="url(#g3_4)"/>
<rect x="123.20" y="456.10" width="15.14" height="124.40" fill="url(#g3_5)"/>
<rect x="138.04" y="456.10" width="15.14" height="124.40" fill="url(#g3_6)"/>
<rect x="152.88" y="456.10" width="15.14" height="124.40" fill="url(#g3_7)"/>
<rect x="167.72" y="456.10" width="15.14" height="124.40" fill="url(#g3_8)"/>
<rect x="182.56" y="456.10" width="15.14" height="124.40" fill="url(#g3_9)"/>
<rect x="197.40" y="456.10" width="15.14" height="124.40" fill="url(#g3_10)"/>
<rect x="212.24" y="456.10" width="15.14" height="124.40" fill="url(#g3_11)"/>
<rect x="227.08" y="456.10" width="15.14" height="124.40" fill="url(#g3_12)"/>
<rect x="241.92" y="456.10" width="15.14" height="124.40" fill="url(#g3_13)"/>
<rect x="256.76" y="456.10" width="15.14" height="124.40" fill="url(#g3_14)"/>
<rect x="271.60" y="456.10" width="15.14" height="124.40" fill="url(#g3_15)"/>
<rect x="286.44" y="456.10" width="15.14" height="124.40" fill="url(#g3_16)"/>
<rect x="301.28" y="456.10" width="15.14" height="124.40" fill="url(#g3_17)"/>
<rect x="316.12" y="456.10" width="15.14" height="124.40" fill="url(#g3_18)"/>
<rect x="330.96" y="456.10" width="15.14" height="124.40" fill="url(#g3_19)"/>
<rect x="345.80" y="456.10" width="15.14" height="124.40" fill="url(#g3_20)"/>
<rect x="360.64" y="456.10" width="15.14" height="124.40" fill="url(#g3_21)"/>
<rect x="375.48" y="456.10" width="15.14" height="124.40" fill="url(#g3_22)"/>
<rect x="390.32" y="456.10" width="15.14" height="124.40" fill="url(#g3_23)"/>
<rect x="405.16" y="456.10" width="15.14" height="124.40" fill="url(#g3_24)"/>
<line x1="48.20" y1="15.00" x2="420.00" y2="15.00" stroke="#111" stroke-width="2.3"/>
<line x1="48.20" y1="138.80" x2="420.00" y2="138.80" stroke="#111" stroke-width="2.3"/>
<line x1="48.40" y1="15.00" x2="48.40" y2="138.80" stroke="#3a2a2a" stroke-width="1.3"/>
<line x1="420.00" y1="15.00" x2="420.00" y2="124.80" stroke="#2a4a9a" stroke-width="1.3"/>
<line x1="420.00" y1="124.80" x2="420.00" y2="138.80" stroke="#0f6e32" stroke-width="1.5"/>
<line x1="48.60" y1="15.00" x2="48.60" y2="5.50" stroke="#111" stroke-width="2.3"/>
<line x1="48.60" y1="138.80" x2="48.60" y2="148.30" stroke="#111" stroke-width="2.3"/>
<line x1="63.84" y1="15.00" x2="63.84" y2="9.20" stroke="#111" stroke-width="2.3"/>
<line x1="63.84" y1="138.80" x2="63.84" y2="144.60" stroke="#111" stroke-width="2.3"/>
<line x1="78.68" y1="15.00" x2="78.68" y2="9.20" stroke="#111" stroke-width="2.3"/>
<line x1="78.68" y1="138.80" x2="78.68" y2="144.60" stroke="#111" stroke-width="2.3"/>
<line x1="93.52" y1="15.00" x2="93.52" y2="9.20" stroke="#111" stroke-width="2.3"/>
<line x1="93.52" y1="138.80" x2="93.52" y2="144.60" stroke="#111" stroke-width="2.3"/>
<line x1="108.36" y1="15.00" x2="108.36" y2="9.20" stroke="#111" stroke-width="2.3"/>
<line x1="108.36" y1="138.80" x2="108.36" y2="144.60" stroke="#111" stroke-width="2.3"/>
<line x1="123.20" y1="15.00" x2="123.20" y2="5.50" stroke="#111" stroke-width="2.3"/>
<line x1="123.20" y1="138.80" x2="123.20" y2="148.30" stroke="#111" stroke-width="2.3"/>
<line x1="138.04" y1="15.00" x2="138.04" y2="9.20" stroke="#111" stroke-width="2.3"/>
<line x1="138.04" y1="138.80" x2="138.04" y2="144.60" stroke="#111" stroke-width="2.3"/>
<line x1="152.88" y1="15.00" x2="152.88" y2="9.20" stroke="#111" stroke-width="2.3"/>
<line x1="152.88" y1="138.80" x2="152.88" y2="144.60" stroke="#111" stroke-width="2.3"/>
<line x1="167.72" y1="15.00" x2="167.72" y2="9.20" stroke="#111" stroke-width="2.3"/>
<line x1="167.72" y1="138.80" x2="167.72" y2="144.60" stroke="#111" stroke-width="2.3"/>
<line x1="182.56" y1="15.00" x2="182.56" y2="9.20" stroke="#111" stroke-width="2.3"/>
<line x1="182.56" y1="138.80" x2="182.56" y2="144.60" stroke="#111" stroke-width="2.3"/>
<line x1="197.40" y1="15.00" x2="197.40" y2="5.50" stroke="#111" stroke-width="2.3"/>
<line x1="197.40" y1="138.80" x2="197.40" y2="148.30" stroke="#111" stroke-width="2.3"/>
<line x1="212.24" y1="15.00" x2="212.24" y2="9.20" stroke="#111" stroke-width="2.3"/>
<line x1="212.24" y1="138.80" x2="212.24" y2="144.60" stroke="#111" stroke-width="2.3"/>
<line x1="227.08" y1="15.00" x2="227.08" y2="9.20" stroke="#111" stroke-width="2.3"/>
<line x1="227.08" y1="138.80" x2="227.08" y2="144.60" stroke="#111" stroke-width="2.3"/>
<line x1="241.92" y1="15.00" x2="241.92" y2="9.20" stroke="#111" stroke-width="2.3"/>
<line x1="241.92" y1="138.80" x2="241.92" y2="144.60" stroke="#111" stroke-width="2.3"/>
<line x1="256.76" y1="15.00" x2="256.76" y2="9.20" stroke="#111" stroke-width="2.3"/>
<line x1="256.76" y1="138.80" x2="256.76" y2="144.60" stroke="#111" stroke-width="2.3"/>
<line x1="271.60" y1="15.00" x2="271.60" y2="5.50" stroke="#111" stroke-width="2.3"/>
<line x1="271.60" y1="138.80" x2="271.60" y2="148.30" stroke="#111" stroke-width="2.3"/>
<line x1="286.44" y1="15.00" x2="286.44" y2="9.20" stroke="#111" stroke-width="2.3"/>
<line x1="286.44" y1="138.80" x2="286.44" y2="144.60" stroke="#111" stroke-width="2.3"/>
<line x1="301.28" y1="15.00" x2="301.28" y2="9.20" stroke="#111" stroke-width="2.3"/>
<line x1="301.28" y1="138.80" x2="301.28" y2="144.60" stroke="#111" stroke-width="2.3"/>
<line x1="316.12" y1="15.00" x2="316.12" y2="9.20" stroke="#111" stroke-width="2.3"/>
<line x1="316.12" y1="138.80" x2="316.12" y2="144.60" stroke="#111" stroke-width="2.3"/>
<line x1="330.96" y1="15.00" x2="330.96" y2="9.20" stroke="#111" stroke-width="2.3"/>
<line x1="330.96" y1="138.80" x2="330.96" y2="144.60" stroke="#111" stroke-width="2.3"/>
<line x1="345.80" y1="15.00" x2="345.80" y2="5.50" stroke="#111" stroke-width="2.3"/>
<line x1="345.80" y1="138.80" x2="345.80" y2="148.30" stroke="#111" stroke-width="2.3"/>
<line x1="360.64" y1="15.00" x2="360.64" y2="9.20" stroke="#111" stroke-width="2.3"/>
<line x1="360.64" y1="138.80" x2="360.64" y2="144.60" stroke="#111" stroke-width="2.3"/>
<line x1="375.48" y1="15.00" x2="375.48" y2="9.20" stroke="#111" stroke-width="2.3"/>
<line x1="375.48" y1="138.80" x2="375.48" y2="144.60" stroke="#111" stroke-width="2.3"/>
<line x1="390.32" y1="15.00" x2="390.32" y2="9.20" stroke="#111" stroke-width="2.3"/>
<line x1="390.32" y1="138.80" x2="390.32" y2="144.60" stroke="#111" stroke-width="2.3"/>
<line x1="405.16" y1="15.00" x2="405.16" y2="9.20" stroke="#111" stroke-width="2.3"/>
<line x1="405.16" y1="138.80" x2="405.16" y2="144.60" stroke="#111" stroke-width="2.3"/>
<line x1="420.00" y1="15.00" x2="420.00" y2="5.50" stroke="#111" stroke-width="2.3"/>
<line x1="420.00" y1="138.80" x2="420.00" y2="148.30" stroke="#111" stroke-width="2.3"/>
<line x1="43.10" y1="138.80" x2="49.20" y2="138.80" stroke="#111" stroke-width="2.3"/>
<line x1="39.40" y1="125.04" x2="49.20" y2="125.04" stroke="#111" stroke-width="2.3"/>
<text x="33.80" y="133.04" style="font-family:'Liberation Serif',serif;font-weight:bold;font-size:21px" text-anchor="end" fill="#222">1</text>
<line x1="43.10" y1="111.29" x2="49.20" y2="111.29" stroke="#111" stroke-width="2.3"/>
<line x1="39.40" y1="97.53" x2="49.20" y2="97.53" stroke="#111" stroke-width="2.3"/>
<text x="33.80" y="105.53" style="font-family:'Liberation Serif',serif;font-weight:bold;font-size:21px" text-anchor="end" fill="#222">2</text>
<line x1="43.10" y1="83.78" x2="49.20" y2="83.78" stroke="#111" stroke-width="2.3"/>
<line x1="39.40" y1="70.02" x2="49.20" y2="70.02" stroke="#111" stroke-width="2.3"/>
<text x="33.80" y="78.02" style="font-family:'Liberation Serif',serif;font-weight:bold;font-size:21px" text-anchor="end" fill="#222">3</text>
<line x1="43.10" y1="56.27" x2="49.20" y2="56.27" stroke="#111" stroke-width="2.3"/>
<line x1="39.40" y1="42.51" x2="49.20" y2="42.51" stroke="#111" stroke-width="2.3"/>
<text x="33.80" y="50.51" style="font-family:'Liberation Serif',serif;font-weight:bold;font-size:21px" text-anchor="end" fill="#222">4</text>
<line x1="43.10" y1="28.76" x2="49.20" y2="28.76" stroke="#111" stroke-width="2.3"/>
<line x1="39.40" y1="15.00" x2="49.20" y2="15.00" stroke="#111" stroke-width="2.3"/>
<text x="33.80" y="23.00" style="font-family:'Liberation Serif',serif;font-weight:bold;font-size:21px" text-anchor="end" fill="#222">5</text>
<line x1="420.00" y1="138.80" x2="429.00" y2="138.80" stroke="#0f6e32" stroke-width="3"/>
<text x="435.30" y="146.40" style="font-family:'Liberation Serif',serif;font-weight:bold;font-size:21px" fill="#0f6e32">0</text>
<line x1="420.00" y1="107.85" x2="429.00" y2="107.85" stroke="#0f6e32" stroke-width="3"/>
<text x="435.30" y="115.45" style="font-family:'Liberation Serif',serif;font-weight:bold;font-size:21px" fill="#0f6e32">5</text>
<line x1="420.00" y1="76.90" x2="429.00" y2="76.90" stroke="#0f6e32" stroke-width="3"/>
<text x="435.30" y="84.50" style="font-family:'Liberation Serif',serif;font-weight:bold;font-size:21px" fill="#0f6e32">10</text>
<line x1="420.00" y1="45.95" x2="429.00" y2="45.95" stroke="#0f6e32" stroke-width="3"/>
<text x="435.30" y="53.55" style="font-family:'Liberation Serif',serif;font-weight:bold;font-size:21px" fill="#0f6e32">15</text>
<line x1="420.00" y1="15.00" x2="429.00" y2="15.00" stroke="#0f6e32" stroke-width="3"/>
<text x="435.30" y="22.60" style="font-family:'Liberation Serif',serif;font-weight:bold;font-size:21px" fill="#0f6e32">20</text>
<line x1="48.20" y1="161.80" x2="420.00" y2="161.80" stroke="#111" stroke-width="2.3"/>
<line x1="48.20" y1="286.40" x2="420.00" y2="286.40" stroke="#111" stroke-width="2.3"/>
<line x1="48.40" y1="161.80" x2="48.40" y2="286.40" stroke="#3a2a2a" stroke-width="1.3"/>
<line x1="420.00" y1="161.80" x2="420.00" y2="272.40" stroke="#2a4a9a" stroke-width="1.3"/>
<line x1="420.00" y1="272.40" x2="420.00" y2="286.40" stroke="#0f6e32" stroke-width="1.5"/>
<line x1="48.60" y1="161.80" x2="48.60" y2="152.30" stroke="#111" stroke-width="2.3"/>
<line x1="48.60" y1="286.40" x2="48.60" y2="295.90" stroke="#111" stroke-width="2.3"/>
<line x1="63.84" y1="161.80" x2="63.84" y2="156.00" stroke="#111" stroke-width="2.3"/>
<line x1="63.84" y1="286.40" x2="63.84" y2="292.20" stroke="#111" stroke-width="2.3"/>
<line x1="78.68" y1="161.80" x2="78.68" y2="156.00" stroke="#111" stroke-width="2.3"/>
<line x1="78.68" y1="286.40" x2="78.68" y2="292.20" stroke="#111" stroke-width="2.3"/>
<line x1="93.52" y1="161.80" x2="93.52" y2="156.00" stroke="#111" stroke-width="2.3"/>
<line x1="93.52" y1="286.40" x2="93.52" y2="292.20" stroke="#111" stroke-width="2.3"/>
<line x1="108.36" y1="161.80" x2="108.36" y2="156.00" stroke="#111" stroke-width="2.3"/>
<line x1="108.36" y1="286.40" x2="108.36" y2="292.20" stroke="#111" stroke-width="2.3"/>
<line x1="123.20" y1="161.80" x2="123.20" y2="152.30" stroke="#111" stroke-width="2.3"/>
<line x1="123.20" y1="286.40" x2="123.20" y2="295.90" stroke="#111" stroke-width="2.3"/>
<line x1="138.04" y1="161.80" x2="138.04" y2="156.00" stroke="#111" stroke-width="2.3"/>
<line x1="138.04" y1="286.40" x2="138.04" y2="292.20" stroke="#111" stroke-width="2.3"/>
<line x1="152.88" y1="161.80" x2="152.88" y2="156.00" stroke="#111" stroke-width="2.3"/>
<line x1="152.88" y1="286.40" x2="152.88" y2="292.20" stroke="#111" stroke-width="2.3"/>
<line x1="167.72" y1="161.80" x2="167.72" y2="156.00" stroke="#111" stroke-width="2.3"/>
<line x1="167.72" y1="286.40" x2="167.72" y2="292.20" stroke="#111" stroke-width="2.3"/>
<line x1="182.56" y1="161.80" x2="182.56" y2="156.00" stroke="#111" stroke-width="2.3"/>
<line x1="182.56" y1="286.40" x2="182.56" y2="292.20" stroke="#111" stroke-width="2.3"/>
<line x1="197.40" y1="161.80" x2="197.40" y2="152.30" stroke="#111" stroke-width="2.3"/>
<line x1="197.40" y1="286.40" x2="197.40" y2="295.90" stroke="#111" stroke-width="2.3"/>
<line x1="212.24" y1="161.80" x2="212.24" y2="156.00" stroke="#111" stroke-width="2.3"/>
<line x1="212.24" y1="286.40" x2="212.24" y2="292.20" stroke="#111" stroke-width="2.3"/>
<line x1="227.08" y1="161.80" x2="227.08" y2="156.00" stroke="#111" stroke-width="2.3"/>
<line x1="227.08" y1="286.40" x2="227.08" y2="292.20" stroke="#111" stroke-width="2.3"/>
<line x1="241.92" y1="161.80" x2="241.92" y2="156.00" stroke="#111" stroke-width="2.3"/>
<line x1="241.92" y1="286.40" x2="241.92" y2="292.20" stroke="#111" stroke-width="2.3"/>
<line x1="256.76" y1="161.80" x2="256.76" y2="156.00" stroke="#111" stroke-width="2.3"/>
<line x1="256.76" y1="286.40" x2="256.76" y2="292.20" stroke="#111" stroke-width="2.3"/>
<line x1="271.60" y1="161.80" x2="271.60" y2="152.30" stroke="#111" stroke-width="2.3"/>
<line x1="271.60" y1="286.40" x2="271.60" y2="295.90" stroke="#111" stroke-width="2.3"/>
<line x1="286.44" y1="161.80" x2="286.44" y2="156.00" stroke="#111" stroke-width="2.3"/>
<line x1="286.44" y1="286.40" x2="286.44" y2="292.20" stroke="#111" stroke-width="2.3"/>
<line x1="301.28" y1="161.80" x2="301.28" y2="156.00" stroke="#111" stroke-width="2.3"/>
<line x1="301.28" y1="286.40" x2="301.28" y2="292.20" stroke="#111" stroke-width="2.3"/>
<line x1="316.12" y1="161.80" x2="316.12" y2="156.00" stroke="#111" stroke-width="2.3"/>
<line x1="316.12" y1="286.40" x2="316.12" y2="292.20" stroke="#111" stroke-width="2.3"/>
<line x1="330.96" y1="161.80" x2="330.96" y2="156.00" stroke="#111" stroke-width="2.3"/>
<line x1="330.96" y1="286.40" x2="330.96" y2="292.20" stroke="#111" stroke-width="2.3"/>
<line x1="345.80" y1="161.80" x2="345.80" y2="152.30" stroke="#111" stroke-width="2.3"/>
<line x1="345.80" y1="286.40" x2="345.80" y2="295.90" stroke="#111" stroke-width="2.3"/>
<line x1="360.64" y1="161.80" x2="360.64" y2="156.00" stroke="#111" stroke-width="2.3"/>
<line x1="360.64" y1="286.40" x2="360.64" y2="292.20" stroke="#111" stroke-width="2.3"/>
<line x1="375.48" y1="161.80" x2="375.48" y2="156.00" stroke="#111" stroke-width="2.3"/>
<line x1="375.48" y1="286.40" x2="375.48" y2="292.20" stroke="#111" stroke-width="2.3"/>
<line x1="390.32" y1="161.80" x2="390.32" y2="156.00" stroke="#111" stroke-width="2.3"/>
<line x1="390.32" y1="286.40" x2="390.32" y2="292.20" stroke="#111" stroke-width="2.3"/>
<line x1="405.16" y1="161.80" x2="405.16" y2="156.00" stroke="#111" stroke-width="2.3"/>
<line x1="405.16" y1="286.40" x2="405.16" y2="292.20" stroke="#111" stroke-width="2.3"/>
<line x1="420.00" y1="161.80" x2="420.00" y2="152.30" stroke="#111" stroke-width="2.3"/>
<line x1="420.00" y1="286.40" x2="420.00" y2="295.90" stroke="#111" stroke-width="2.3"/>
<line x1="43.10" y1="286.40" x2="49.20" y2="286.40" stroke="#111" stroke-width="2.3"/>
<line x1="39.40" y1="272.56" x2="49.20" y2="272.56" stroke="#111" stroke-width="2.3"/>
<text x="33.80" y="280.56" style="font-family:'Liberation Serif',serif;font-weight:bold;font-size:21px" text-anchor="end" fill="#222">1</text>
<line x1="43.10" y1="258.71" x2="49.20" y2="258.71" stroke="#111" stroke-width="2.3"/>
<line x1="39.40" y1="244.87" x2="49.20" y2="244.87" stroke="#111" stroke-width="2.3"/>
<text x="33.80" y="252.87" style="font-family:'Liberation Serif',serif;font-weight:bold;font-size:21px" text-anchor="end" fill="#222">2</text>
<line x1="43.10" y1="231.02" x2="49.20" y2="231.02" stroke="#111" stroke-width="2.3"/>
<line x1="39.40" y1="217.18" x2="49.20" y2="217.18" stroke="#111" stroke-width="2.3"/>
<text x="33.80" y="225.18" style="font-family:'Liberation Serif',serif;font-weight:bold;font-size:21px" text-anchor="end" fill="#222">3</text>
<line x1="43.10" y1="203.33" x2="49.20" y2="203.33" stroke="#111" stroke-width="2.3"/>
<line x1="39.40" y1="189.49" x2="49.20" y2="189.49" stroke="#111" stroke-width="2.3"/>
<text x="33.80" y="197.49" style="font-family:'Liberation Serif',serif;font-weight:bold;font-size:21px" text-anchor="end" fill="#222">4</text>
<line x1="43.10" y1="175.64" x2="49.20" y2="175.64" stroke="#111" stroke-width="2.3"/>
<line x1="39.40" y1="161.80" x2="49.20" y2="161.80" stroke="#111" stroke-width="2.3"/>
<text x="33.80" y="169.80" style="font-family:'Liberation Serif',serif;font-weight:bold;font-size:21px" text-anchor="end" fill="#222">5</text>
<line x1="420.00" y1="286.40" x2="429.00" y2="286.40" stroke="#0f6e32" stroke-width="3"/>
<text x="435.30" y="294.00" style="font-family:'Liberation Serif',serif;font-weight:bold;font-size:21px" fill="#0f6e32">0</text>
<line x1="420.00" y1="255.25" x2="429.00" y2="255.25" stroke="#0f6e32" stroke-width="3"/>
<text x="435.30" y="262.85" style="font-family:'Liberation Serif',serif;font-weight:bold;font-size:21px" fill="#0f6e32">5</text>
<line x1="420.00" y1="224.10" x2="429.00" y2="224.10" stroke="#0f6e32" stroke-width="3"/>
<text x="435.30" y="231.70" style="font-family:'Liberation Serif',serif;font-weight:bold;font-size:21px" fill="#0f6e32">10</text>
<line x1="420.00" y1="192.95" x2="429.00" y2="192.95" stroke="#0f6e32" stroke-width="3"/>
<text x="435.30" y="200.55" style="font-family:'Liberation Serif',serif;font-weight:bold;font-size:21px" fill="#0f6e32">15</text>
<line x1="420.00" y1="161.80" x2="429.00" y2="161.80" stroke="#0f6e32" stroke-width="3"/>
<text x="435.30" y="169.40" style="font-family:'Liberation Serif',serif;font-weight:bold;font-size:21px" fill="#0f6e32">20</text>
<line x1="48.20" y1="309.30" x2="420.00" y2="309.30" stroke="#111" stroke-width="2.3"/>
<line x1="48.20" y1="433.90" x2="420.00" y2="433.90" stroke="#111" stroke-width="2.3"/>
<line x1="48.40" y1="309.30" x2="48.40" y2="433.90" stroke="#3a2a2a" stroke-width="1.3"/>
<line x1="420.00" y1="309.30" x2="420.00" y2="419.90" stroke="#2a4a9a" stroke-width="1.3"/>
<line x1="420.00" y1="419.90" x2="420.00" y2="433.90" stroke="#0f6e32" stroke-width="1.5"/>
<line x1="48.60" y1="309.30" x2="48.60" y2="299.80" stroke="#111" stroke-width="2.3"/>
<line x1="48.60" y1="433.90" x2="48.60" y2="443.40" stroke="#111" stroke-width="2.3"/>
<line x1="63.84" y1="309.30" x2="63.84" y2="303.50" stroke="#111" stroke-width="2.3"/>
<line x1="63.84" y1="433.90" x2="63.84" y2="439.70" stroke="#111" stroke-width="2.3"/>
<line x1="78.68" y1="309.30" x2="78.68" y2="303.50" stroke="#111" stroke-width="2.3"/>
<line x1="78.68" y1="433.90" x2="78.68" y2="439.70" stroke="#111" stroke-width="2.3"/>
<line x1="93.52" y1="309.30" x2="93.52" y2="303.50" stroke="#111" stroke-width="2.3"/>
<line x1="93.52" y1="433.90" x2="93.52" y2="439.70" stroke="#111" stroke-width="2.3"/>
<line x1="108.36" y1="309.30" x2="108.36" y2="303.50" stroke="#111" stroke-width="2.3"/>
<line x1="108.36" y1="433.90" x2="108.36" y2="439.70" stroke="#111" stroke-width="2.3"/>
<line x1="123.20" y1="309.30" x2="123.20" y2="299.80" stroke="#111" stroke-width="2.3"/>
<line x1="123.20" y1="433.90" x2="123.20" y2="443.40" stroke="#111" stroke-width="2.3"/>
<line x1="138.04" y1="309.30" x2="138.04" y2="303.50" stroke="#111" stroke-width="2.3"/>
<line x1="138.04" y1="433.90" x2="138.04" y2="439.70" stroke="#111" stroke-width="2.3"/>
<line x1="152.88" y1="309.30" x2="152.88" y2="303.50" stroke="#111" stroke-width="2.3"/>
<line x1="152.88" y1="433.90" x2="152.88" y2="439.70" stroke="#111" stroke-width="2.3"/>
<line x1="167.72" y1="309.30" x2="167.72" y2="303.50" stroke="#111" stroke-width="2.3"/>
<line x1="167.72" y1="433.90" x2="167.72" y2="439.70" stroke="#111" stroke-width="2.3"/>
<line x1="182.56" y1="309.30" x2="182.56" y2="303.50" stroke="#111" stroke-width="2.3"/>
<line x1="182.56" y1="433.90" x2="182.56" y2="439.70" stroke="#111" stroke-width="2.3"/>
<line x1="197.40" y1="309.30" x2="197.40" y2="299.80" stroke="#111" stroke-width="2.3"/>
<line x1="197.40" y1="433.90" x2="197.40" y2="443.40" stroke="#111" stroke-width="2.3"/>
<line x1="212.24" y1="309.30" x2="212.24" y2="303.50" stroke="#111" stroke-width="2.3"/>
<line x1="212.24" y1="433.90" x2="212.24" y2="439.70" stroke="#111" stroke-width="2.3"/>
<line x1="227.08" y1="309.30" x2="227.08" y2="303.50" stroke="#111" stroke-width="2.3"/>
<line x1="227.08" y1="433.90" x2="227.08" y2="439.70" stroke="#111" stroke-width="2.3"/>
<line x1="241.92" y1="309.30" x2="241.92" y2="303.50" stroke="#111" stroke-width="2.3"/>
<line x1="241.92" y1="433.90" x2="241.92" y2="439.70" stroke="#111" stroke-width="2.3"/>
<line x1="256.76" y1="309.30" x2="256.76" y2="303.50" stroke="#111" stroke-width="2.3"/>
<line x1="256.76" y1="433.90" x2="256.76" y2="439.70" stroke="#111" stroke-width="2.3"/>
<line x1="271.60" y1="309.30" x2="271.60" y2="299.80" stroke="#111" stroke-width="2.3"/>
<line x1="271.60" y1="433.90" x2="271.60" y2="443.40" stroke="#111" stroke-width="2.3"/>
<line x1="286.44" y1="309.30" x2="286.44" y2="303.50" stroke="#111" stroke-width="2.3"/>
<line x1="286.44" y1="433.90" x2="286.44" y2="439.70" stroke="#111" stroke-width="2.3"/>
<line x1="301.28" y1="309.30" x2="301.28" y2="303.50" stroke="#111" stroke-width="2.3"/>
<line x1="301.28" y1="433.90" x2="301.28" y2="439.70" stroke="#111" stroke-width="2.3"/>
<line x1="316.12" y1="309.30" x2="316.12" y2="303.50" stroke="#111" stroke-width="2.3"/>
<line x1="316.12" y1="433.90" x2="316.12" y2="439.70" stroke="#111" stroke-width="2.3"/>
<line x1="330.96" y1="309.30" x2="330.96" y2="303.50" stroke="#111" stroke-width="2.3"/>
<line x1="330.96" y1="433.90" x2="330.96" y2="439.70" stroke="#111" stroke-width="2.3"/>
<line x1="345.80" y1="309.30" x2="345.80" y2="299.80" stroke="#111" stroke-width="2.3"/>
<line x1="345.80" y1="433.90" x2="345.80" y2="443.40" stroke="#111" stroke-width="2.3"/>
<line x1="360.64" y1="309.30" x2="360.64" y2="303.50" stroke="#111" stroke-width="2.3"/>
<line x1="360.64" y1="433.90" x2="360.64" y2="439.70" stroke="#111" stroke-width="2.3"/>
<line x1="375.48" y1="309.30" x2="375.48" y2="303.50" stroke="#111" stroke-width="2.3"/>
<line x1="375.48" y1="433.90" x2="375.48" y2="439.70" stroke="#111" stroke-width="2.3"/>
<line x1="390.32" y1="309.30" x2="390.32" y2="303.50" stroke="#111" stroke-width="2.3"/>
<line x1="390.32" y1="433.90" x2="390.32" y2="439.70" stroke="#111" stroke-width="2.3"/>
<line x1="405.16" y1="309.30" x2="405.16" y2="303.50" stroke="#111" stroke-width="2.3"/>
<line x1="405.16" y1="433.90" x2="405.16" y2="439.70" stroke="#111" stroke-width="2.3"/>
<line x1="420.00" y1="309.30" x2="420.00" y2="299.80" stroke="#111" stroke-width="2.3"/>
<line x1="420.00" y1="433.90" x2="420.00" y2="443.40" stroke="#111" stroke-width="2.3"/>
<line x1="43.10" y1="433.90" x2="49.20" y2="433.90" stroke="#111" stroke-width="2.3"/>
<line x1="39.40" y1="420.06" x2="49.20" y2="420.06" stroke="#111" stroke-width="2.3"/>
<text x="33.80" y="428.06" style="font-family:'Liberation Serif',serif;font-weight:bold;font-size:21px" text-anchor="end" fill="#222">1</text>
<line x1="43.10" y1="406.21" x2="49.20" y2="406.21" stroke="#111" stroke-width="2.3"/>
<line x1="39.40" y1="392.37" x2="49.20" y2="392.37" stroke="#111" stroke-width="2.3"/>
<text x="33.80" y="400.37" style="font-family:'Liberation Serif',serif;font-weight:bold;font-size:21px" text-anchor="end" fill="#222">2</text>
<line x1="43.10" y1="378.52" x2="49.20" y2="378.52" stroke="#111" stroke-width="2.3"/>
<line x1="39.40" y1="364.68" x2="49.20" y2="364.68" stroke="#111" stroke-width="2.3"/>
<text x="33.80" y="372.68" style="font-family:'Liberation Serif',serif;font-weight:bold;font-size:21px" text-anchor="end" fill="#222">3</text>
<line x1="43.10" y1="350.83" x2="49.20" y2="350.83" stroke="#111" stroke-width="2.3"/>
<line x1="39.40" y1="336.99" x2="49.20" y2="336.99" stroke="#111" stroke-width="2.3"/>
<text x="33.80" y="344.99" style="font-family:'Liberation Serif',serif;font-weight:bold;font-size:21px" text-anchor="end" fill="#222">4</text>
<line x1="43.10" y1="323.14" x2="49.20" y2="323.14" stroke="#111" stroke-width="2.3"/>
<line x1="39.40" y1="309.30" x2="49.20" y2="309.30" stroke="#111" stroke-width="2.3"/>
<text x="33.80" y="317.30" style="font-family:'Liberation Serif',serif;font-weight:bold;font-size:21px" text-anchor="end" fill="#222">5</text>
<line x1="420.00" y1="433.90" x2="429.00" y2="433.90" stroke="#0f6e32" stroke-width="3"/>
<text x="435.30" y="441.50" style="font-family:'Liberation Serif',serif;font-weight:bold;font-size:21px" fill="#0f6e32">0</text>
<line x1="420.00" y1="402.75" x2="429.00" y2="402.75" stroke="#0f6e32" stroke-width="3"/>
<text x="435.30" y="410.35" style="font-family:'Liberation Serif',serif;font-weight:bold;font-size:21px" fill="#0f6e32">5</text>
<line x1="420.00" y1="371.60" x2="429.00" y2="371.60" stroke="#0f6e32" stroke-width="3"/>
<text x="435.30" y="379.20" style="font-family:'Liberation Serif',serif;font-weight:bold;font-size:21px" fill="#0f6e32">10</text>
<line x1="420.00" y1="340.45" x2="429.00" y2="340.45" stroke="#0f6e32" stroke-width="3"/>
<text x="435.30" y="348.05" style="font-family:'Liberation Serif',serif;font-weight:bold;font-size:21px" fill="#0f6e32">15</text>
<line x1="420.00" y1="309.30" x2="429.00" y2="309.30" stroke="#0f6e32" stroke-width="3"/>
<text x="435.30" y="316.90" style="font-family:'Liberation Serif',serif;font-weight:bold;font-size:21px" fill="#0f6e32">20</text>
<line x1="48.20" y1="456.10" x2="420.00" y2="456.10" stroke="#111" stroke-width="2.3"/>
<line x1="48.20" y1="580.50" x2="420.00" y2="580.50" stroke="#111" stroke-width="2.3"/>
<line x1="48.40" y1="456.10" x2="48.40" y2="580.50" stroke="#3a2a2a" stroke-width="1.3"/>
<line x1="420.00" y1="456.10" x2="420.00" y2="566.50" stroke="#2a4a9a" stroke-width="1.3"/>
<line x1="420.00" y1="566.50" x2="420.00" y2="580.50" stroke="#0f6e32" stroke-width="1.5"/>
<line x1="48.60" y1="456.10" x2="48.60" y2="446.60" stroke="#111" stroke-width="2.3"/>
<line x1="48.60" y1="580.50" x2="48.60" y2="590.00" stroke="#111" stroke-width="2.3"/>
<line x1="63.84" y1="456.10" x2="63.84" y2="450.30" stroke="#111" stroke-width="2.3"/>
<line x1="63.84" y1="580.50" x2="63.84" y2="586.30" stroke="#111" stroke-width="2.3"/>
<line x1="78.68" y1="456.10" x2="78.68" y2="450.30" stroke="#111" stroke-width="2.3"/>
<line x1="78.68" y1="580.50" x2="78.68" y2="586.30" stroke="#111" stroke-width="2.3"/>
<line x1="93.52" y1="456.10" x2="93.52" y2="450.30" stroke="#111" stroke-width="2.3"/>
<line x1="93.52" y1="580.50" x2="93.52" y2="586.30" stroke="#111" stroke-width="2.3"/>
<line x1="108.36" y1="456.10" x2="108.36" y2="450.30" stroke="#111" stroke-width="2.3"/>
<line x1="108.36" y1="580.50" x2="108.36" y2="586.30" stroke="#111" stroke-width="2.3"/>
<line x1="123.20" y1="456.10" x2="123.20" y2="446.60" stroke="#111" stroke-width="2.3"/>
<line x1="123.20" y1="580.50" x2="123.20" y2="590.00" stroke="#111" stroke-width="2.3"/>
<line x1="138.04" y1="456.10" x2="138.04" y2="450.30" stroke="#111" stroke-width="2.3"/>
<line x1="138.04" y1="580.50" x2="138.04" y2="586.30" stroke="#111" stroke-width="2.3"/>
<line x1="152.88" y1="456.10" x2="152.88" y2="450.30" stroke="#111" stroke-width="2.3"/>
<line x1="152.88" y1="580.50" x2="152.88" y2="586.30" stroke="#111" stroke-width="2.3"/>
<line x1="167.72" y1="456.10" x2="167.72" y2="450.30" stroke="#111" stroke-width="2.3"/>
<line x1="167.72" y1="580.50" x2="167.72" y2="586.30" stroke="#111" stroke-width="2.3"/>
<line x1="182.56" y1="456.10" x2="182.56" y2="450.30" stroke="#111" stroke-width="2.3"/>
<line x1="182.56" y1="580.50" x2="182.56" y2="586.30" stroke="#111" stroke-width="2.3"/>
<line x1="197.40" y1="456.10" x2="197.40" y2="446.60" stroke="#111" stroke-width="2.3"/>
<line x1="197.40" y1="580.50" x2="197.40" y2="590.00" stroke="#111" stroke-width="2.3"/>
<line x1="212.24" y1="456.10" x2="212.24" y2="450.30" stroke="#111" stroke-width="2.3"/>
<line x1="212.24" y1="580.50" x2="212.24" y2="586.30" stroke="#111" stroke-width="2.3"/>
<line x1="227.08" y1="456.10" x2="227.08" y2="450.30" stroke="#111" stroke-width="2.3"/>
<line x1="227.08" y1="580.50" x2="227.08" y2="586.30" stroke="#111" stroke-width="2.3"/>
<line x1="241.92" y1="456.10" x2="241.92" y2="450.30" stroke="#111" stroke-width="2.3"/>
<line x1="241.92" y1="580.50" x2="241.92" y2="586.30" stroke="#111" stroke-width="2.3"/>
<line x1="256.76" y1="456.10" x2="256.76" y2="450.30" stroke="#111" stroke-width="2.3"/>
<line x1="256.76" y1="580.50" x2="256.76" y2="586.30" stroke="#111" stroke-width="2.3"/>
<line x1="271.60" y1="456.10" x2="271.60" y2="446.60" stroke="#111" stroke-width="2.3"/>
<line x1="271.60" y1="580.50" x2="271.60" y2="590.00" stroke="#111" stroke-width="2.3"/>
<line x1="286.44" y1="456.10" x2="286.44" y2="450.30" stroke="#111" stroke-width="2.3"/>
<line x1="286.44" y1="580.50" x2="286.44" y2="586.30" stroke="#111" stroke-width="2.3"/>
<line x1="301.28" y1="456.10" x2="301.28" y2="450.30" stroke="#111" stroke-width="2.3"/>
<line x1="301.28" y1="580.50" x2="301.28" y2="586.30" stroke="#111" stroke-width="2.3"/>
<line x1="316.12" y1="456.10" x2="316.12" y2="450.30" stroke="#111" stroke-width="2.3"/>
<line x1="316.12" y1="580.50" x2="316.12" y2="586.30" stroke="#111" stroke-width="2.3"/>
<line x1="330.96" y1="456.10" x2="330.96" y2="450.30" stroke="#111" stroke-width="2.3"/>
<line x1="330.96" y1="580.50" x2="330.96" y2="586.30" stroke="#111" stroke-width="2.3"/>
<line x1="345.80" y1="456.10" x2="345.80" y2="446.60" stroke="#111" stroke-width="2.3"/>
<line x1="345.80" y1="580.50" x2="345.80" y2="590.00" stroke="#111" stroke-width="2.3"/>
<line x1="360.64" y1="456.10" x2="360.64" y2="450.30" stroke="#111" stroke-width="2.3"/>
<line x1="360.64" y1="580.50" x2="360.64" y2="586.30" stroke="#111" stroke-width="2.3"/>
<line x1="375.48" y1="456.10" x2="375.48" y2="450.30" stroke="#111" stroke-width="2.3"/>
<line x1="375.48" y1="580.50" x2="375.48" y2="586.30" stroke="#111" stroke-width="2.3"/>
<line x1="390.32" y1="456.10" x2="390.32" y2="450.30" stroke="#111" stroke-width="2.3"/>
<line x1="390.32" y1="580.50" x2="390.32" y2="586.30" stroke="#111" stroke-width="2.3"/>
<line x1="405.16" y1="456.10" x2="405.16" y2="450.30" stroke="#111" stroke-width="2.3"/>
<line x1="405.16" y1="580.50" x2="405.16" y2="586.30" stroke="#111" stroke-width="2.3"/>
<line x1="420.00" y1="456.10" x2="420.00" y2="446.60" stroke="#111" stroke-width="2.3"/>
<line x1="420.00" y1="580.50" x2="420.00" y2="590.00" stroke="#111" stroke-width="2.3"/>
<line x1="43.10" y1="580.50" x2="49.20" y2="580.50" stroke="#111" stroke-width="2.3"/>
<line x1="39.40" y1="566.68" x2="49.20" y2="566.68" stroke="#111" stroke-width="2.3"/>
<text x="33.80" y="574.68" style="font-family:'Liberation Serif',serif;font-weight:bold;font-size:21px" text-anchor="end" fill="#222">1</text>
<line x1="43.10" y1="552.86" x2="49.20" y2="552.86" stroke="#111" stroke-width="2.3"/>
<line x1="39.40" y1="539.03" x2="49.20" y2="539.03" stroke="#111" stroke-width="2.3"/>
<text x="33.80" y="547.03" style="font-family:'Liberation Serif',serif;font-weight:bold;font-size:21px" text-anchor="end" fill="#222">2</text>
<line x1="43.10" y1="525.21" x2="49.20" y2="525.21" stroke="#111" stroke-width="2.3"/>
<line x1="39.40" y1="511.39" x2="49.20" y2="511.39" stroke="#111" stroke-width="2.3"/>
<text x="33.80" y="519.39" style="font-family:'Liberation Serif',serif;font-weight:bold;font-size:21px" text-anchor="end" fill="#222">3</text>
<line x1="43.10" y1="497.57" x2="49.20" y2="497.57" stroke="#111" stroke-width="2.3"/>
<line x1="39.40" y1="483.74" x2="49.20" y2="483.74" stroke="#111" stroke-width="2.3"/>
<text x="33.80" y="491.74" style="font-family:'Liberation Serif',serif;font-weight:bold;font-size:21px" text-anchor="end" fill="#222">4</text>
<line x1="43.10" y1="469.92" x2="49.20" y2="469.92" stroke="#111" stroke-width="2.3"/>
<line x1="39.40" y1="456.10" x2="49.20" y2="456.10" stroke="#111" stroke-width="2.3"/>
<text x="33.80" y="464.10" style="font-family:'Liberation Serif',serif;font-weight:bold;font-size:21px" text-anchor="end" fill="#222">5</text>
<line x1="420.00" y1="580.50" x2="429.00" y2="580.50" stroke="#0f6e32" stroke-width="3"/>
<text x="435.30" y="588.10" style="font-family:'Liberation Serif',serif;font-weight:bold;font-size:21px" fill="#0f6e32">0</text>
<line x1="420.00" y1="549.40" x2="429.00" y2="549.40" stroke="#0f6e32" stroke-width="3"/>
<text x="435.30" y="557.00" style="font-family:'Liberation Serif',serif;font-weight:bold;font-size:21px" fill="#0f6e32">5</text>
<line x1="420.00" y1="518.30" x2="429.00" y2="518.30" stroke="#0f6e32" stroke-width="3"/>
<text x="435.30" y="525.90" style="font-family:'Liberation Serif',serif;font-weight:bold;font-size:21px" fill="#0f6e32">10</text>
<line x1="420.00" y1="487.20" x2="429.00" y2="487.20" stroke="#0f6e32" stroke-width="3"/>
<text x="435.30" y="494.80" style="font-family:'Liberation Serif',serif;font-weight:bold;font-size:21px" fill="#0f6e32">15</text>
<line x1="420.00" y1="456.10" x2="429.00" y2="456.10" stroke="#0f6e32" stroke-width="3"/>
<text x="435.30" y="463.70" style="font-family:'Liberation Serif',serif;font-weight:bold;font-size:21px" fill="#0f6e32">20</text>
<g clip-path="url(#clip0)">
<path d="M97.6,35.0 C99.7,35.1 105.8,35.4 110.0,35.6 C114.2,35.8 118.6,35.6 123.0,36.2 C127.4,36.8 131.5,38.6 136.6,39.3 C141.7,40.0 148.6,40.1 153.7,40.4 C158.8,40.7 163.0,41.3 167.3,40.9 C171.6,40.5 175.3,38.8 179.3,37.9 C183.3,37.0 186.9,36.0 191.2,35.3 C195.5,34.6 201.4,34.1 205.0,33.5 C208.6,32.9 210.2,31.5 213.0,31.6 C215.8,31.7 219.2,33.2 222.0,34.0 C224.8,34.8 227.3,35.7 230.0,36.4 C232.7,37.1 234.7,37.7 238.0,38.0 C241.3,38.3 246.0,38.5 250.0,38.0 C254.0,37.5 258.0,36.2 262.0,35.0 C266.0,33.8 269.7,32.7 274.0,31.0 C278.3,29.3 283.7,26.0 288.0,25.0 C292.3,24.0 295.7,24.8 300.0,25.0 C304.3,25.2 310.3,26.3 314.0,26.0 C317.7,25.7 320.0,24.3 322.0,23.0 C324.0,21.7 325.0,19.4 326.0,18.0 C327.0,16.6 327.7,15.1 328.0,14.5" fill="none" stroke="#111" stroke-width="1.5"/>
<path d="M129.8,14.5 C130.1,15.1 129.8,17.2 131.5,18.3 C133.2,19.4 136.6,20.0 140.0,20.8 C143.4,21.6 148.6,23.4 152.0,23.2 C155.4,22.9 157.7,20.5 160.5,19.3 C163.3,18.1 166.8,16.6 169.0,15.8 C171.2,15.0 173.2,14.7 174.0,14.5" fill="none" stroke="#111" stroke-width="1.5"/>
<path d="M158.0,29.7 C158.0,29.2 163.2,28.3 165.6,28.3 C168.0,28.3 172.4,29.2 172.4,29.7 C172.4,30.2 168.0,31.1 165.6,31.1 C163.2,31.1 158.0,30.2 158.0,29.7" fill="none" stroke="#111" stroke-width="1.5"/>
<path d="M78.0,60.5 C81.3,60.5 91.9,60.6 97.6,60.5 C103.3,60.4 107.7,60.2 112.0,60.0 C116.3,59.8 120.8,60.2 123.5,59.2 C126.2,58.2 128.2,55.6 128.3,54.0 C128.4,52.4 126.7,50.8 124.0,49.5 C121.3,48.2 116.0,46.8 112.0,46.5 C108.0,46.2 102.0,47.3 100.0,47.5" fill="none" stroke="#111" stroke-width="1.5" stroke-dasharray="5.5,3.5"/>
<path d="M172.4,53.5 C173.0,52.9 173.3,51.1 175.9,49.8 C178.5,48.5 184.1,46.5 187.8,45.5 C191.5,44.5 194.2,44.5 198.0,43.8 C201.8,43.1 206.5,41.3 210.6,41.3 C214.7,41.3 218.6,42.8 222.6,43.8 C226.6,44.8 230.6,45.8 234.5,47.2 C238.4,48.6 241.1,50.2 246.0,52.0 C250.9,53.8 258.0,56.3 264.0,58.0 C270.0,59.7 276.0,60.5 282.0,62.0 C288.0,63.5 294.3,65.7 300.0,67.0 C305.7,68.3 311.0,69.3 316.0,70.0 C321.0,70.7 327.7,70.8 330.0,71.0" fill="none" stroke="#111" stroke-width="1.5" stroke-dasharray="5.5,3.5"/>
<path d="M203.0,55.0 C203.5,54.2 204.5,51.0 206.0,50.0 C207.5,49.0 210.0,48.7 212.0,49.0 C214.0,49.3 217.2,50.5 218.0,52.0 C218.8,53.5 218.2,56.6 217.0,58.0 C215.8,59.4 213.0,60.3 211.0,60.5 C209.0,60.7 206.0,59.2 205.0,59.0" fill="none" stroke="#111" stroke-width="1.5" stroke-dasharray="5.5,3.5"/>
<path d="M172.4,56.0 C172.1,57.0 170.4,59.3 170.7,61.7 C171.0,64.1 172.2,68.2 174.2,70.3 C176.2,72.4 178.7,73.8 182.7,74.5 C186.7,75.2 192.8,74.5 198.0,74.5 C203.2,74.5 208.5,74.6 214.0,74.5 C219.5,74.4 226.4,73.8 231.1,73.7 C235.8,73.6 237.8,74.3 242.0,74.0 C246.2,73.7 252.3,71.5 256.0,72.0 C259.7,72.5 261.0,75.5 264.0,77.0 C267.0,78.5 269.7,80.2 274.0,81.0 C278.3,81.8 284.7,82.2 290.0,82.0 C295.3,81.8 301.3,80.7 306.0,80.0 C310.7,79.3 314.3,78.5 318.0,78.0 C321.7,77.5 325.0,77.7 328.0,77.0 C331.0,76.3 334.7,74.5 336.0,74.0" fill="none" stroke="#111" stroke-width="1.5" stroke-dasharray="5.5,3.5"/>
<path d="M294.0,40.0 C295.7,39.8 300.3,39.5 304.0,39.0 C307.7,38.5 311.3,37.7 316.0,37.0 C320.7,36.3 327.0,35.5 332.0,35.0 C337.0,34.5 342.7,34.5 346.0,34.0 C349.3,33.5 351.3,33.3 352.0,32.0 C352.7,30.7 351.0,28.3 350.0,26.0 C349.0,23.7 347.0,19.9 346.0,18.0 C345.0,16.1 344.3,15.1 344.0,14.5" fill="none" stroke="#111" stroke-width="1.5" stroke-dasharray="5.5,3.5"/>
<path d="M292.0,50.0 C293.3,50.3 297.7,51.3 300.0,52.0 C302.3,52.7 303.3,53.5 306.0,54.0 C308.7,54.5 311.7,54.8 316.0,55.0 C320.3,55.2 327.0,54.8 332.0,55.0 C337.0,55.2 342.0,56.0 346.0,56.0 C350.0,56.0 354.3,55.2 356.0,55.0" fill="none" stroke="#111" stroke-width="1.5" stroke-dasharray="5.5,3.5"/>
<path d="M366.0,15.0 C366.5,16.8 369.2,22.5 369.0,26.0 C368.8,29.5 367.0,33.2 365.0,36.0 C363.0,38.8 358.0,40.8 357.0,43.0 C356.0,45.2 357.3,47.5 359.0,49.0 C360.7,50.5 364.5,50.8 367.0,52.0 C369.5,53.2 371.8,54.0 374.0,56.0 C376.2,58.0 379.0,60.7 380.0,64.0 C381.0,67.3 380.3,73.3 380.0,76.0 C379.7,78.7 378.2,78.3 378.0,80.0 C377.8,81.7 378.8,85.0 379.0,86.0" fill="none" stroke="#111" stroke-width="1.5" stroke-dasharray="5.5,3.5"/>
<path d="M384.0,15.0 C384.3,16.8 386.0,22.5 386.0,26.0 C386.0,29.5 384.8,32.3 384.0,36.0 C383.2,39.7 382.2,44.7 381.0,48.0 C379.8,51.3 378.3,53.7 377.0,56.0 C375.7,58.3 374.0,59.3 373.0,62.0 C372.0,64.7 371.2,69.0 371.0,72.0 C370.8,75.0 371.8,78.7 372.0,80.0" fill="none" stroke="#111" stroke-width="1.5" stroke-dasharray="5.5,3.5"/>
<path d="M364.0,66.0 C363.8,68.0 362.5,74.7 363.0,78.0 C363.5,81.3 365.8,83.3 367.0,86.0 C368.2,88.7 367.8,93.2 370.0,94.0 C372.2,94.8 376.7,91.7 380.0,91.0 C383.3,90.3 387.3,89.5 390.0,90.0 C392.7,90.5 393.7,93.0 396.0,94.0 C398.3,95.0 400.7,95.3 404.0,96.0 C407.3,96.7 413.3,97.7 416.0,98.0 C418.7,98.3 419.3,98.0 420.0,98.0" fill="none" stroke="#111" stroke-width="1.5" stroke-dasharray="5.5,3.5"/>
<path d="M408.0,46.0 C408.0,47.3 408.0,51.0 408.0,54.0 C408.0,57.0 408.3,60.0 408.0,64.0 C407.7,68.0 408.0,74.7 406.0,78.0 C404.0,81.3 398.8,82.8 396.0,84.0 C393.2,85.2 390.2,84.8 389.0,85.0" fill="none" stroke="#111" stroke-width="1.5" stroke-dasharray="5.5,3.5"/>
<path d="M380.0,124.0 C381.7,124.0 386.7,125.3 390.0,124.0 C393.3,122.7 397.0,118.0 400.0,116.0 C403.0,114.0 404.7,113.0 408.0,112.0 C411.3,111.0 418.0,110.3 420.0,110.0" fill="none" stroke="#111" stroke-width="1.5" stroke-dasharray="5.5,3.5"/>
<path d="M378.0,122.0 C380.0,122.7 385.7,125.0 390.0,126.0 C394.3,127.0 399.0,128.0 404.0,128.0 C409.0,128.0 417.3,126.3 420.0,126.0" fill="none" stroke="#111" stroke-width="1.5" stroke-dasharray="5.5,3.5"/>
<path d="M363.0,100.0 C363.2,102.3 363.8,109.3 364.0,114.0 C364.2,118.7 364.0,125.7 364.0,128.0" fill="none" stroke="#111" stroke-width="1.5" stroke-dasharray="5.5,3.5"/>
<path d="M367.0,100.0 C367.2,102.3 367.8,109.3 368.0,114.0 C368.2,118.7 368.0,125.7 368.0,128.0" fill="none" stroke="#111" stroke-width="1.5" stroke-dasharray="5.5,3.5"/>
<path d="M371.0,102.0 C371.2,104.3 371.8,111.7 372.0,116.0 C372.2,120.3 372.0,126.0 372.0,128.0" fill="none" stroke="#111" stroke-width="1.5" stroke-dasharray="5.5,3.5"/>
<path d="M344.0,90.0 C345.7,89.0 347.8,90.5 350.0,91.0 C352.2,91.5 357.0,92.2 357.0,93.0 C357.0,93.8 351.0,93.8 350.0,96.0 C349.0,98.2 352.0,103.3 351.0,106.0 C350.0,108.7 347.2,111.3 344.0,112.0 C340.8,112.7 334.7,111.2 332.0,110.0 C329.3,108.8 327.7,106.7 328.0,105.0 C328.3,103.3 332.0,101.3 334.0,100.0 C336.0,98.7 338.3,98.7 340.0,97.0 C341.7,95.3 342.3,91.0 344.0,90.0" fill="none" stroke="#111" stroke-width="1.5"/>
<path d="M336.0,128.0 C336.3,127.2 337.0,124.0 338.0,123.0 C339.0,122.0 339.7,122.2 342.0,122.0 C344.3,121.8 349.0,122.5 352.0,122.0 C355.0,121.5 358.3,118.0 360.0,119.0 C361.7,120.0 361.7,126.5 362.0,128.0" fill="none" stroke="#111" stroke-width="1.5"/>
<path d="M418.0,82.0 C417.7,83.0 415.7,86.3 416.0,88.0 C416.3,89.7 419.3,91.3 420.0,92.0" fill="none" stroke="#111" stroke-width="1.5"/>
<path d="M211.0,97.0 C211.3,96.1 215.2,95.1 218.0,94.5 C220.8,93.9 225.2,93.6 228.0,93.5 C230.8,93.4 233.7,93.1 235.0,94.0 C236.3,94.9 237.5,97.9 236.0,99.0 C234.5,100.1 229.3,100.3 226.0,100.5 C222.7,100.7 218.5,100.6 216.0,100.0 C213.5,99.4 210.7,97.9 211.0,97.0" fill="none" stroke="#111" stroke-width="1.5"/>
<path d="M270.0,94.0 C271.3,93.7 274.7,92.2 278.0,92.0 C281.3,91.8 286.0,93.2 290.0,93.0 C294.0,92.8 299.5,90.8 302.0,91.0 C304.5,91.2 305.3,92.8 305.0,94.0 C304.7,95.2 303.2,97.2 300.0,98.0 C296.8,98.8 290.7,99.0 286.0,99.0 C281.3,99.0 274.7,98.5 272.0,98.0 C269.3,97.5 270.3,96.3 270.0,96.0" fill="none" stroke="#111" stroke-width="1.5"/>
<path d="M49.0,127.5 C52.7,126.9 62.6,124.6 71.3,123.7 C80.0,122.8 92.3,122.1 101.0,121.9 C109.7,121.7 116.6,122.3 123.4,122.6 C130.2,122.9 135.8,123.2 142.0,123.7 C148.2,124.2 152.5,126.5 160.6,125.6 C168.7,124.7 181.1,120.4 190.4,118.2 C199.7,116.0 209.8,113.6 216.4,112.6 C223.0,111.6 225.7,111.8 230.0,112.0 C234.3,112.2 238.0,114.0 242.0,114.0 C246.0,114.0 249.3,111.7 254.0,112.0 C258.7,112.3 264.7,114.8 270.0,116.0 C275.3,117.2 282.3,117.7 286.0,119.0 C289.7,120.3 291.0,123.2 292.0,124.0" fill="none" stroke="#111" stroke-width="1.5" stroke-dasharray="5.5,3.5"/>
<path d="M95.0,129.0 C97.5,128.5 105.0,126.3 110.0,126.0 C115.0,125.7 120.8,126.4 125.0,127.0 C129.2,127.6 133.3,129.1 135.0,129.5" fill="none" stroke="#111" stroke-width="1.5" stroke-dasharray="5.5,3.5"/>
<path d="M200.0,129.5 C202.7,128.8 211.0,126.1 216.0,125.0 C221.0,123.9 225.7,123.0 230.0,123.0 C234.3,123.0 238.0,125.0 242.0,125.0 C246.0,125.0 249.3,122.7 254.0,123.0 C258.7,123.3 264.0,125.9 270.0,127.0 C276.0,128.1 286.7,129.1 290.0,129.5" fill="none" stroke="#111" stroke-width="1.5" stroke-dasharray="5.5,3.5"/>
<text x="0" y="0" transform="translate(110.4,35.6) rotate(0)" style="font-family:'Liberation Serif',serif;font-weight:bold;font-size:15px" text-anchor="middle" fill="#111" dy="5">0</text>
<text x="0" y="0" transform="translate(108.0,15.0) rotate(0)" style="font-family:'Liberation Serif',serif;font-weight:bold;font-size:15px" text-anchor="middle" fill="#111" dy="5">0</text>
<text x="0" y="0" transform="translate(256.0,37.0) rotate(-10)" style="font-family:'Liberation Serif',serif;font-weight:bold;font-size:15px" text-anchor="middle" fill="#111" dy="5">0</text>
<text x="0" y="0" transform="translate(345.0,92.0) rotate(70)" style="font-family:'Liberation Serif',serif;font-weight:bold;font-size:15px" text-anchor="middle" fill="#111" dy="5">0</text>
<text x="0" y="0" transform="translate(228.0,97.0) rotate(0)" style="font-family:'Liberation Serif',serif;font-weight:bold;font-size:15px" text-anchor="middle" fill="#111" dy="5">0</text>
<text x="0" y="0" transform="translate(283.0,95.0) rotate(0)" style="font-family:'Liberation Serif',serif;font-weight:bold;font-size:15px" text-anchor="middle" fill="#111" dy="5">0</text>
<text x="0" y="0" transform="translate(344.0,124.0) rotate(0)" style="font-family:'Liberation Serif',serif;font-weight:bold;font-size:15px" text-anchor="middle" fill="#111" dy="5">0</text>
</g>
<g clip-path="url(#clip1)">
<path d="M148.0,277.0 C148.3,276.0 149.0,273.3 150.0,271.0 C151.0,268.7 152.3,265.0 154.0,263.0 C155.7,261.0 156.3,260.7 160.0,259.0 C163.7,257.3 171.0,254.7 176.0,253.0 C181.0,251.3 185.7,250.3 190.0,249.0 C194.3,247.7 199.5,246.5 202.0,245.0 C204.5,243.5 204.7,241.7 205.0,240.0 C205.3,238.3 205.5,236.7 204.0,235.0 C202.5,233.3 199.3,231.7 196.0,230.0 C192.7,228.3 187.8,226.3 184.0,225.0 C180.2,223.7 175.2,223.2 173.0,222.0 C170.8,220.8 170.2,219.5 171.0,218.0 C171.8,216.5 174.8,214.2 178.0,213.0 C181.2,211.8 185.3,211.7 190.0,211.0 C194.7,210.3 202.3,209.8 206.0,209.0 C209.7,208.2 209.9,207.0 212.0,206.0 C214.1,205.0 216.4,203.9 218.6,202.8 C220.8,201.7 223.9,201.0 225.2,199.5 C226.5,198.0 226.3,196.0 226.3,194.0 C226.3,192.0 224.8,190.0 225.2,187.4 C225.6,184.8 227.0,181.2 228.5,178.6 C230.0,176.0 231.6,174.2 234.0,172.0 C236.4,169.8 240.2,167.2 242.8,165.4 C245.4,163.6 248.3,161.7 249.4,161.0" fill="none" stroke="#111" stroke-width="1.5"/>
<path d="M225.2,202.8 C224.5,204.3 221.9,208.7 220.8,211.6 C219.7,214.5 218.2,217.8 218.6,220.4 C219.0,223.0 221.1,225.6 223.0,227.0 C224.9,228.4 227.8,228.8 230.0,229.0 C232.2,229.2 235.0,228.2 236.0,228.0" fill="none" stroke="#111" stroke-width="1.5"/>
<path d="M230.0,235.0 C229.0,236.0 226.3,238.3 224.0,241.0 C221.7,243.7 218.3,248.7 216.0,251.0 C213.7,253.3 212.7,253.0 210.0,255.0 C207.3,257.0 202.7,260.0 200.0,263.0 C197.3,266.0 195.3,270.7 194.0,273.0 C192.7,275.3 192.3,276.3 192.0,277.0" fill="none" stroke="#111" stroke-width="1.5"/>
<path d="M99.0,163.0 C101.0,163.7 107.0,166.0 111.0,167.0 C115.0,168.0 119.0,169.3 123.0,169.0 C127.0,168.7 132.3,166.2 135.0,165.0 C137.7,163.8 138.3,162.5 139.0,162.0" fill="none" stroke="#111" stroke-width="1.5" stroke-dasharray="5.5,3.5"/>
<path d="M49.0,229.4 C52.8,228.9 64.1,227.7 71.8,226.3 C79.5,224.9 89.1,221.9 95.0,221.0 C100.9,220.1 104.5,221.8 107.0,220.6 C109.5,219.4 108.8,216.4 110.0,214.0 C111.2,211.6 112.5,208.0 114.0,206.0 C115.5,204.0 116.7,202.5 119.0,202.0 C121.3,201.5 125.0,202.5 128.0,203.0 C131.0,203.5 134.0,205.7 137.0,205.0 C140.0,204.3 144.2,200.8 146.0,199.0 C147.8,197.2 148.5,195.7 148.0,194.0 C147.5,192.3 145.3,190.3 143.0,189.0 C140.7,187.7 136.3,187.0 134.0,186.0 C131.7,185.0 129.8,184.7 129.0,183.0 C128.2,181.3 127.5,177.7 129.0,176.0 C130.5,174.3 136.2,174.2 138.0,173.0 C139.8,171.8 139.7,169.7 140.0,169.0" fill="none" stroke="#111" stroke-width="1.5" stroke-dasharray="5.5,3.5"/>
<path d="M83.2,242.7 C85.2,241.8 91.0,237.8 95.0,237.0 C99.0,236.2 102.7,237.7 107.0,238.0 C111.3,238.3 116.3,238.7 121.0,238.6 C125.7,238.5 130.7,237.9 135.0,237.6 C139.3,237.3 143.7,236.9 147.0,237.0 C150.3,237.1 153.0,237.0 155.0,238.0 C157.0,239.0 158.3,242.2 159.0,243.0" fill="none" stroke="#111" stroke-width="1.5" stroke-dasharray="5.5,3.5"/>
<path d="M75.6,252.2 C77.7,253.2 84.4,256.9 88.0,258.0 C91.6,259.1 93.8,258.8 97.0,259.0 C100.2,259.2 104.0,259.7 107.0,259.0 C110.0,258.3 113.7,255.7 115.0,255.0" fill="none" stroke="#111" stroke-width="1.5" stroke-dasharray="5.5,3.5"/>
<path d="M225.2,201.7 C226.7,201.5 230.7,201.0 234.0,200.6 C237.3,200.2 241.9,200.2 245.0,199.5 C248.1,198.8 250.5,197.5 252.7,196.2 C254.9,194.9 256.2,193.5 258.2,191.8 C260.2,190.2 262.6,188.5 264.8,186.3 C267.0,184.1 269.9,181.3 271.4,178.6 C272.9,175.8 273.4,172.7 273.6,169.8 C273.8,166.9 272.7,162.5 272.5,161.0" fill="none" stroke="#111" stroke-width="1.5"/>
<path d="M256.0,227.0 C255.8,229.9 254.5,239.8 254.9,244.6 C255.3,249.4 256.2,253.4 258.2,255.6 C260.2,257.8 264.4,258.2 267.0,257.8 C269.6,257.4 271.4,255.6 273.6,253.4 C275.8,251.2 278.4,248.3 280.2,244.6 C282.0,240.9 283.5,235.4 284.6,231.4 C285.7,227.4 286.2,224.4 286.8,220.4 C287.4,216.4 287.5,211.6 287.9,207.2 C288.3,202.8 289.0,198.8 289.0,194.0 C289.0,189.2 287.9,184.1 287.9,178.6 C287.9,173.1 288.8,163.9 289.0,161.0" fill="none" stroke="#111" stroke-width="1.5"/>
<path d="M292.0,161.0 C291.9,164.2 291.6,172.7 291.5,180.0 C291.4,187.3 291.2,198.6 291.6,205.0 C292.0,211.4 293.6,212.7 293.8,218.2 C294.0,223.7 293.4,231.8 292.7,238.0 C292.0,244.2 290.7,251.6 289.4,255.6 C288.1,259.6 286.9,260.6 285.0,262.2 C283.1,263.8 279.2,264.5 278.0,265.0" fill="none" stroke="#111" stroke-width="1.5"/>
<path d="M295.5,161.0 C295.4,164.2 294.9,172.7 295.0,180.0 C295.1,187.3 295.6,198.6 296.0,205.0 C296.4,211.4 296.7,213.4 297.1,218.2 C297.5,223.0 298.2,228.5 298.2,233.6 C298.2,238.7 297.8,244.6 297.1,249.0 C296.4,253.4 295.8,257.1 293.8,260.0 C291.8,262.9 288.6,264.9 285.0,266.6 C281.4,268.3 274.2,269.4 272.0,270.0" fill="none" stroke="#111" stroke-width="1.5"/>
<path d="M229.6,275.4 C231.8,274.3 238.4,270.3 242.8,268.8 C247.2,267.3 251.2,266.6 256.0,266.6 C260.8,266.6 267.0,268.1 271.4,268.8 C275.8,269.5 277.6,271.0 282.4,271.0 C287.2,271.0 295.4,268.6 300.0,268.8 C304.6,269.0 308.3,271.5 310.0,272.0" fill="none" stroke="#111" stroke-width="1.5"/>
<path d="M390.0,229.0 C391.0,227.7 392.3,225.7 394.0,223.0 C395.7,220.3 398.3,215.7 400.0,213.0 C401.7,210.3 403.7,209.0 404.0,207.0 C404.3,205.0 404.3,203.2 402.0,201.0 C399.7,198.8 394.7,195.7 390.0,194.0 C385.3,192.3 380.0,191.2 374.0,191.0 C368.0,190.8 359.0,192.2 354.0,193.0 C349.0,193.8 346.7,193.7 344.0,196.0 C341.3,198.3 339.0,203.8 338.0,207.0 C337.0,210.2 337.0,212.0 338.0,215.0 C339.0,218.0 341.0,223.0 344.0,225.0 C347.0,227.0 353.3,226.0 356.0,227.0 C358.7,228.0 358.0,229.7 360.0,231.0 C362.0,232.3 365.5,233.8 368.0,235.0 C370.5,236.2 373.0,237.8 375.0,238.0 C377.0,238.2 377.8,237.2 380.0,236.0 C382.2,234.8 386.3,232.2 388.0,231.0 C389.7,229.8 389.0,230.3 390.0,229.0" fill="none" stroke="#111" stroke-width="1.5"/>
<path d="M360.0,203.0 C361.7,202.3 366.7,199.8 370.0,199.0 C373.3,198.2 378.0,197.2 380.0,198.0 C382.0,198.8 382.0,201.3 382.0,204.0 C382.0,206.7 380.7,211.0 380.0,214.0 C379.3,217.0 379.0,220.0 378.0,222.0 C377.0,224.0 374.7,225.3 374.0,226.0" fill="none" stroke="#111" stroke-width="1.5"/>
<path d="M302.6,165.4 C305.2,165.0 313.6,163.2 318.0,163.2 C322.4,163.2 325.3,164.3 329.0,165.4 C332.7,166.5 337.1,168.0 340.0,169.8 C342.9,171.6 344.8,174.2 346.6,176.4 C348.4,178.6 351.0,181.2 351.0,183.0 C351.0,184.8 348.8,186.5 346.6,187.4 C344.4,188.3 339.3,188.3 337.8,188.5" fill="none" stroke="#111" stroke-width="1.5" stroke-dasharray="5.5,3.5"/>
<path d="M300.4,174.2 C301.1,176.0 303.0,182.3 304.8,185.2 C306.6,188.1 310.3,190.7 311.4,191.8" fill="none" stroke="#111" stroke-width="1.5" stroke-dasharray="5.5,3.5"/>
<path d="M298.2,202.8 C299.3,203.5 302.2,205.4 304.8,207.2 C307.4,209.0 311.8,211.6 313.6,213.8 C315.4,216.0 315.4,219.3 315.8,220.4" fill="none" stroke="#111" stroke-width="1.5" stroke-dasharray="5.5,3.5"/>
<path d="M335.6,189.6 C335.2,190.3 334.5,191.8 333.4,194.0 C332.3,196.2 330.8,200.2 329.0,202.8 C327.2,205.4 324.2,207.6 322.4,209.4 C320.6,211.2 318.7,213.1 318.0,213.8" fill="none" stroke="#111" stroke-width="1.5" stroke-dasharray="5.5,3.5"/>
<path d="M324.6,227.0 C323.9,229.2 320.6,235.1 320.2,240.2 C319.8,245.3 321.3,253.0 322.4,257.8 C323.5,262.6 326.1,267.0 326.8,268.8" fill="none" stroke="#111" stroke-width="1.5" stroke-dasharray="5.5,3.5"/>
<path d="M333.4,227.0 C334.5,228.8 337.8,235.1 340.0,238.0 C342.2,240.9 343.3,243.9 346.6,244.6 C349.9,245.3 355.8,242.0 359.8,242.4 C363.8,242.8 367.9,245.0 370.8,246.8 C373.7,248.6 375.6,251.6 377.4,253.4 C379.2,255.2 381.1,257.1 381.8,257.8" fill="none" stroke="#111" stroke-width="1.5" stroke-dasharray="5.5,3.5"/>
<path d="M362.0,260.0 C360.9,261.1 357.2,264.0 355.4,266.6 C353.6,269.2 351.7,273.9 351.0,275.4" fill="none" stroke="#111" stroke-width="1.5" stroke-dasharray="5.5,3.5"/>
<path d="M293.8,275.4 C296.0,275.0 303.0,273.9 307.0,273.2 C311.0,272.5 316.2,271.4 318.0,271.0" fill="none" stroke="#111" stroke-width="1.5" stroke-dasharray="5.5,3.5"/>
<path d="M357.6,163.2 C359.4,164.3 365.3,168.0 368.6,169.8 C371.9,171.6 374.5,172.4 377.4,174.2 C380.3,176.0 383.3,179.3 386.2,180.8 C389.1,182.3 389.4,181.5 395.0,183.0 C400.6,184.5 415.8,188.8 420.0,190.0" fill="none" stroke="#111" stroke-width="1.5" stroke-dasharray="5.5,3.5"/>
<path d="M373.0,262.2 C374.8,261.5 380.3,259.3 384.0,257.8 C387.7,256.3 389.0,255.4 395.0,253.4 C401.0,251.4 415.8,247.2 420.0,246.0" fill="none" stroke="#111" stroke-width="1.5" stroke-dasharray="5.5,3.5"/>
<text x="0" y="0" transform="translate(172.0,203.0) rotate(-30)" style="font-family:'Liberation Serif',serif;font-weight:bold;font-size:15px" text-anchor="middle" fill="#111" dy="5">0</text>
<text x="0" y="0" transform="translate(153.0,263.0) rotate(-70)" style="font-family:'Liberation Serif',serif;font-weight:bold;font-size:15px" text-anchor="middle" fill="#111" dy="5">0</text>
<text x="0" y="0" transform="translate(213.0,207.0) rotate(-30)" style="font-family:'Liberation Serif',serif;font-weight:bold;font-size:15px" text-anchor="middle" fill="#111" dy="5">0</text>
<text x="0" y="0" transform="translate(222.0,245.0) rotate(-60)" style="font-family:'Liberation Serif',serif;font-weight:bold;font-size:15px" text-anchor="middle" fill="#111" dy="5">10</text>
<text x="0" y="0" transform="translate(253.0,236.0) rotate(-90)" style="font-family:'Liberation Serif',serif;font-weight:bold;font-size:15px" text-anchor="middle" fill="#111" dy="5">20</text>
<text x="0" y="0" transform="translate(281.0,241.0) rotate(-70)" style="font-family:'Liberation Serif',serif;font-weight:bold;font-size:15px" text-anchor="middle" fill="#111" dy="5">20</text>
<text x="0" y="0" transform="translate(287.0,204.0) rotate(-70)" style="font-family:'Liberation Serif',serif;font-weight:bold;font-size:15px" text-anchor="middle" fill="#111" dy="5">30</text>
<text x="0" y="0" transform="translate(272.0,272.0) rotate(0)" style="font-family:'Liberation Serif',serif;font-weight:bold;font-size:15px" text-anchor="middle" fill="#111" dy="5">0</text>
<text x="0" y="0" transform="translate(361.0,205.0) rotate(-90)" style="font-family:'Liberation Serif',serif;font-weight:bold;font-size:15px" text-anchor="middle" fill="#111" dy="5">10</text>
<text x="0" y="0" transform="translate(361.0,231.0) rotate(-70)" style="font-family:'Liberation Serif',serif;font-weight:bold;font-size:15px" text-anchor="middle" fill="#111" dy="5">0</text>
<text x="0" y="0" transform="translate(388.0,231.0) rotate(-60)" style="font-family:'Liberation Serif',serif;font-weight:bold;font-size:15px" text-anchor="middle" fill="#111" dy="5">0</text>
</g>
<g clip-path="url(#clip2)">
<path d="M97.6,328.9 C99.4,329.1 103.9,329.8 108.2,330.0 C112.5,330.2 118.8,330.4 123.6,330.0 C128.4,329.6 133.9,328.7 136.8,327.8 C139.7,326.9 140.6,325.5 141.2,324.5 C141.8,323.5 140.6,323.2 140.1,321.6 C139.6,320.0 138.4,316.8 137.9,314.6 C137.4,312.5 137.0,309.7 136.8,308.7" fill="none" stroke="#111" stroke-width="1.5"/>
<path d="M134.6,345.4 C137.5,345.0 146.0,343.0 152.2,343.2 C158.4,343.4 167.8,345.0 172.0,346.5 C176.2,348.0 177.1,350.0 177.5,352.0 C177.9,354.0 176.9,357.1 174.2,358.6 C171.4,360.1 166.9,360.6 161.0,360.8 C155.1,361.0 146.3,360.4 139.0,359.7 C131.7,359.0 121.4,357.7 117.0,356.4 C112.6,355.1 112.6,353.3 112.6,352.0 C112.6,350.7 116.3,349.2 117.0,348.7" fill="none" stroke="#111" stroke-width="1.5"/>
<path d="M49.0,366.8 C51.8,367.0 60.3,367.3 66.0,368.0 C71.7,368.7 77.4,370.1 83.1,371.0 C88.8,371.9 94.5,372.7 100.2,373.6 C105.9,374.5 112.8,375.4 117.2,376.2 C121.7,377.0 124.0,378.1 126.9,378.3 C129.8,378.5 129.7,377.8 134.6,377.3 C139.5,376.8 148.5,375.7 156.6,375.1 C164.7,374.6 176.6,374.2 183.0,374.0 C189.4,373.8 190.8,374.7 195.0,374.0 C199.2,373.3 204.5,371.8 208.2,369.6 C211.9,367.4 215.5,363.7 217.0,360.8 C218.5,357.9 216.6,354.2 217.0,352.0 C217.4,349.8 219.6,349.1 219.2,347.6 C218.8,346.1 214.8,345.0 214.8,343.2 C214.8,341.4 217.0,338.8 219.2,336.6 C221.4,334.4 225.9,331.6 228.0,330.0 C230.1,328.4 230.3,327.9 232.0,327.0 C233.7,326.1 235.3,326.2 237.9,324.5 C240.5,322.8 244.7,318.8 247.8,316.8 C250.9,314.8 253.3,313.3 256.6,312.4 C259.9,311.5 264.3,310.9 267.6,311.3 C270.9,311.7 273.8,312.6 276.4,314.6 C279.0,316.6 280.8,320.1 283.0,323.4 C285.2,326.7 287.8,330.7 289.6,334.4 C291.4,338.1 293.4,341.4 294.0,345.4 C294.6,349.4 292.5,354.9 292.9,358.6 C293.3,362.3 294.5,364.8 296.2,367.4 C297.9,370.0 301.7,372.9 302.8,374.0" fill="none" stroke="#111" stroke-width="1.5"/>
<path d="M176.4,308.7 C176.8,309.3 176.8,310.7 178.6,312.4 C180.4,314.1 184.1,317.2 187.4,319.0 C190.7,320.8 195.3,322.5 198.4,323.4 C201.5,324.3 202.9,324.7 206.0,324.5 C209.1,324.3 213.8,323.4 217.0,322.3 C220.2,321.2 223.7,318.7 225.0,318.0" fill="none" stroke="#111" stroke-width="1.5"/>
<path d="M49.0,384.7 C52.4,384.9 63.5,385.3 69.5,385.6 C75.5,385.9 81.2,386.2 85.0,386.5 C88.8,386.8 91.5,387.0 92.0,387.5 C92.5,388.0 88.7,389.2 88.0,389.5" fill="none" stroke="#111" stroke-width="1.5"/>
<path d="M49.0,403.5 C51.8,403.1 61.7,402.1 66.0,401.0 C70.3,399.9 73.2,397.4 74.6,396.7" fill="none" stroke="#111" stroke-width="1.5"/>
<path d="M49.0,416.3 C51.8,416.1 60.3,415.3 66.0,415.4 C71.7,415.5 77.4,416.7 83.1,417.1 C88.8,417.5 94.5,418.7 100.2,418.0 C105.9,417.3 114.4,413.8 117.2,412.9" fill="none" stroke="#111" stroke-width="1.5" stroke-dasharray="5.5,3.5"/>
<path d="M49.0,425.6 C51.8,425.0 60.3,423.1 66.0,422.2 C71.7,421.3 77.4,420.9 83.1,420.5 C88.8,420.1 94.5,419.7 100.2,419.7 C105.9,419.7 114.4,420.4 117.2,420.5" fill="none" stroke="#111" stroke-width="1.5" stroke-dasharray="5.5,3.5"/>
<path d="M242.3,338.8 C243.6,337.5 246.9,332.8 250.0,331.1 C253.1,329.5 257.7,328.0 261.0,328.9 C264.3,329.8 268.5,332.9 269.8,336.6 C271.1,340.3 270.2,346.9 268.7,350.9 C267.2,354.9 264.1,358.2 261.0,360.8 C257.9,363.4 253.7,365.4 250.0,366.3 C246.3,367.2 242.7,367.2 239.0,366.3 C235.3,365.4 230.4,362.8 228.0,360.8 C225.6,358.8 225.2,355.3 224.7,354.2" fill="none" stroke="#111" stroke-width="1.5" stroke-dasharray="5.5,3.5"/>
<path d="M228.0,348.7 L242.3,347.6" fill="none" stroke="#111" stroke-width="1.5" stroke-dasharray="5.5,3.5"/>
<path d="M217.0,409.2 C218.1,408.1 219.9,404.4 223.6,402.6 C227.3,400.8 232.8,399.7 239.0,398.2 C245.2,396.7 254.4,395.6 261.0,393.8 C267.6,392.0 273.8,388.7 278.6,387.2 C283.4,385.7 285.9,385.0 289.6,385.0 C293.3,385.0 298.0,386.5 300.6,387.2 C303.2,387.9 304.3,389.0 305.0,389.4" fill="none" stroke="#111" stroke-width="1.5"/>
<path d="M217.0,409.2 C218.1,409.9 219.9,412.1 223.6,413.6 C227.3,415.1 235.0,416.8 239.0,418.0 C243.0,419.2 244.9,420.6 247.8,421.0 C250.7,421.4 253.7,418.9 256.6,420.2 C259.5,421.5 263.6,426.9 265.4,429.0 C267.2,431.1 267.2,432.3 267.6,433.0" fill="none" stroke="#111" stroke-width="1.5"/>
<path d="M274.2,413.6 C275.7,414.0 280.1,415.6 283.0,415.8 C285.9,416.0 289.2,414.7 291.8,414.7 C294.4,414.7 297.3,415.6 298.4,415.8" fill="none" stroke="#111" stroke-width="1.5"/>
<path d="M301.0,318.0 C303.3,318.3 310.3,319.2 315.0,320.0 C319.7,320.8 325.3,321.8 329.0,323.0 C332.7,324.2 335.7,326.3 337.0,327.0" fill="none" stroke="#111" stroke-width="1.5"/>
<path d="M315.0,308.7 C317.7,308.9 326.0,309.1 331.0,310.0 C336.0,310.9 341.0,314.0 345.0,314.0 C349.0,314.0 353.3,310.7 355.0,310.0" fill="none" stroke="#111" stroke-width="1.5"/>
<path d="M353.0,330.0 C354.3,330.7 358.0,333.0 361.0,334.0 C364.0,335.0 368.3,335.0 371.0,336.0 C373.7,337.0 375.0,339.7 377.0,340.0 C379.0,340.3 381.3,339.3 383.0,338.0 C384.7,336.7 386.0,335.0 387.0,332.0 C388.0,329.0 389.7,323.3 389.0,320.0 C388.3,316.7 384.0,313.3 383.0,312.0" fill="none" stroke="#111" stroke-width="1.5"/>
<path d="M351.8,338.7 C353.5,339.6 358.9,341.8 362.0,343.8 C365.1,345.8 368.3,348.0 370.6,350.6 C372.9,353.2 372.6,357.2 375.7,359.2 C378.8,361.2 384.2,361.8 389.3,362.6 C394.4,363.5 401.3,363.7 406.4,364.3 C411.5,364.9 417.7,365.7 420.0,366.0" fill="none" stroke="#111" stroke-width="1.5"/>
<path d="M319.0,347.0 C321.7,347.3 329.7,348.8 335.0,349.0 C340.3,349.2 346.7,347.8 351.0,348.0 C355.3,348.2 358.3,348.7 361.0,350.0 C363.7,351.3 365.1,353.9 367.0,356.0 C368.9,358.1 370.3,360.4 372.3,362.6 C374.3,364.8 375.4,367.7 379.1,369.4 C382.8,371.1 390.1,371.4 394.4,372.8 C398.7,374.2 400.4,377.3 404.7,377.9 C409.0,378.5 417.4,376.5 420.0,376.2" fill="none" stroke="#111" stroke-width="1.5"/>
<path d="M317.0,346.0 C316.0,346.7 312.7,348.3 311.0,350.0 C309.3,351.7 308.3,353.0 307.0,356.0 C305.7,359.0 303.7,366.0 303.0,368.0" fill="none" stroke="#111" stroke-width="1.5"/>
<path d="M295.0,388.0 C296.3,388.7 299.7,390.7 303.0,392.0 C306.3,393.3 311.7,395.0 315.0,396.0 C318.3,397.0 320.3,397.5 323.0,398.0 C325.7,398.5 328.0,398.3 331.0,399.0 C334.0,399.7 338.3,400.5 341.0,402.0 C343.7,403.5 345.7,405.0 347.0,408.0 C348.3,411.0 349.0,416.7 349.0,420.0 C349.0,423.3 347.5,425.8 347.0,428.0 C346.5,430.2 346.2,432.2 346.0,433.0" fill="none" stroke="#111" stroke-width="1.5"/>
<path d="M297.0,414.0 C299.3,413.7 307.3,412.2 311.0,412.0 C314.7,411.8 316.3,412.3 319.0,413.0 C321.7,413.7 327.0,415.0 327.0,416.0 C327.0,417.0 321.7,418.3 319.0,419.0 C316.3,419.7 313.7,420.0 311.0,420.0 C308.3,420.0 305.3,419.5 303.0,419.0 C300.7,418.5 298.0,417.3 297.0,417.0" fill="none" stroke="#111" stroke-width="1.5"/>
<path d="M403.0,343.8 C404.7,343.5 410.4,342.2 413.2,342.1 C416.0,342.0 418.9,342.9 420.0,343.0" fill="none" stroke="#111" stroke-width="1.5"/>
<path d="M321.0,366.0 C322.0,366.0 324.3,365.7 327.0,366.0 C329.7,366.3 334.3,366.7 337.0,368.0 C339.7,369.3 342.3,372.0 343.0,374.0 C343.7,376.0 342.7,378.7 341.0,380.0 C339.3,381.3 335.7,381.8 333.0,382.0 C330.3,382.2 327.0,382.0 325.0,381.0 C323.0,380.0 322.0,377.8 321.0,376.0 C320.0,374.2 319.3,371.0 319.0,370.0" fill="none" stroke="#111" stroke-width="1.5" stroke-dasharray="5.5,3.5"/>
<path d="M349.0,368.0 C348.3,369.7 345.0,374.7 345.0,378.0 C345.0,381.3 347.7,384.3 349.0,388.0 C350.3,391.7 352.0,396.0 353.0,400.0 C354.0,404.0 354.7,407.3 355.0,412.0 C355.3,416.7 355.0,425.3 355.0,428.0" fill="none" stroke="#111" stroke-width="1.5" stroke-dasharray="5.5,3.5"/>
<path d="M361.0,396.0 C361.0,398.0 361.0,403.3 361.0,408.0 C361.0,412.7 361.0,421.3 361.0,424.0" fill="none" stroke="#111" stroke-width="1.5" stroke-dasharray="5.5,3.5"/>
<path d="M369.0,374.0 C369.0,376.3 368.8,384.0 369.0,388.0 C369.2,392.0 369.3,394.7 370.0,398.0 C370.7,401.3 371.8,405.7 373.0,408.0 C374.2,410.3 375.3,411.7 377.0,412.0 C378.7,412.3 380.7,411.0 383.0,410.0 C385.3,409.0 388.8,408.4 391.0,406.0 C393.2,403.6 393.6,397.6 396.2,395.8 C398.8,394.0 404.7,395.1 406.4,395.0" fill="none" stroke="#111" stroke-width="1.5" stroke-dasharray="5.5,3.5"/>
<path d="M373.0,424.0 C374.7,424.3 379.3,425.7 383.0,426.0 C386.7,426.3 392.2,425.2 395.0,426.0 C397.8,426.8 398.8,430.0 399.6,430.8" fill="none" stroke="#111" stroke-width="1.5" stroke-dasharray="5.5,3.5"/>
<text x="0" y="0" transform="translate(140.0,323.0) rotate(-80)" style="font-family:'Liberation Serif',serif;font-weight:bold;font-size:15px" text-anchor="middle" fill="#111" dy="5">0</text>
<text x="0" y="0" transform="translate(126.0,348.0) rotate(-10)" style="font-family:'Liberation Serif',serif;font-weight:bold;font-size:15px" text-anchor="middle" fill="#111" dy="5">10</text>
<text x="0" y="0" transform="translate(127.0,379.0) rotate(0)" style="font-family:'Liberation Serif',serif;font-weight:bold;font-size:15px" text-anchor="middle" fill="#111" dy="5">0</text>
<text x="0" y="0" transform="translate(80.0,392.0) rotate(-30)" style="font-family:'Liberation Serif',serif;font-weight:bold;font-size:15px" text-anchor="middle" fill="#111" dy="5">0</text>
<text x="0" y="0" transform="translate(229.0,317.0) rotate(-50)" style="font-family:'Liberation Serif',serif;font-weight:bold;font-size:15px" text-anchor="middle" fill="#111" dy="5">10</text>
<text x="0" y="0" transform="translate(233.0,328.0) rotate(-70)" style="font-family:'Liberation Serif',serif;font-weight:bold;font-size:15px" text-anchor="middle" fill="#111" dy="5">0</text>
<text x="0" y="0" transform="translate(248.0,421.0) rotate(0)" style="font-family:'Liberation Serif',serif;font-weight:bold;font-size:15px" text-anchor="middle" fill="#111" dy="5">0</text>
<text x="0" y="0" transform="translate(303.0,415.0) rotate(0)" style="font-family:'Liberation Serif',serif;font-weight:bold;font-size:15px" text-anchor="middle" fill="#111" dy="5">10</text>
<text x="0" y="0" transform="translate(323.0,398.0) rotate(-80)" style="font-family:'Liberation Serif',serif;font-weight:bold;font-size:15px" text-anchor="middle" fill="#111" dy="5">0</text>
<text x="0" y="0" transform="translate(340.0,331.0) rotate(-50)" style="font-family:'Liberation Serif',serif;font-weight:bold;font-size:15px" text-anchor="middle" fill="#111" dy="5">10</text>
<text x="0" y="0" transform="translate(346.0,320.0) rotate(-45)" style="font-family:'Liberation Serif',serif;font-weight:bold;font-size:15px" text-anchor="middle" fill="#111" dy="5">20</text>
<text x="0" y="0" transform="translate(356.0,311.0) rotate(-30)" style="font-family:'Liberation Serif',serif;font-weight:bold;font-size:15px" text-anchor="middle" fill="#111" dy="5">30</text>
<text x="0" y="0" transform="translate(358.0,317.0) rotate(-60)" style="font-family:'Liberation Serif',serif;font-weight:bold;font-size:15px" text-anchor="middle" fill="#111" dy="5">0</text>
<text x="0" y="0" transform="translate(352.0,328.0) rotate(-60)" style="font-family:'Liberation Serif',serif;font-weight:bold;font-size:15px" text-anchor="middle" fill="#111" dy="5">0</text>
<text x="0" y="0" transform="translate(319.0,347.0) rotate(-80)" style="font-family:'Liberation Serif',serif;font-weight:bold;font-size:15px" text-anchor="middle" fill="#111" dy="5">0</text>
</g>
<g clip-path="url(#clip3)">
<path d="M49.0,517.0 C54.0,517.3 69.3,518.9 79.0,518.6 C88.7,518.4 99.7,515.4 107.0,515.5 C114.3,515.6 116.0,518.4 123.0,519.0 C130.0,519.6 142.8,519.4 149.0,519.4 C155.2,519.4 154.8,518.8 160.0,519.0 C165.2,519.2 176.0,520.6 180.0,520.6 C184.0,520.6 184.7,519.9 184.0,519.0 C183.3,518.1 176.3,516.0 176.0,515.0 C175.7,514.0 178.0,513.8 182.0,513.0 C186.0,512.2 195.3,512.0 200.0,510.0 C204.7,508.0 208.0,503.5 210.0,501.0 C212.0,498.5 211.3,498.0 212.0,495.0 C212.7,492.0 212.0,486.0 214.0,483.0 C216.0,480.0 221.0,479.3 224.0,477.0 C227.0,474.7 230.0,472.5 232.0,469.0 C234.0,465.5 235.3,458.0 236.0,455.8" fill="none" stroke="#111" stroke-width="1.5"/>
<path d="M190.0,455.8 C190.3,456.4 190.5,457.9 192.0,459.4 C193.5,460.9 195.5,464.2 198.8,464.9 C202.1,465.6 209.1,465.3 212.0,463.8 C214.9,462.3 215.7,457.1 216.4,455.8" fill="none" stroke="#111" stroke-width="1.5"/>
<path d="M49.0,529.1 C52.8,529.1 66.4,529.4 71.8,529.1 C77.2,528.8 75.6,527.2 81.3,527.2 C87.0,527.2 95.5,528.2 106.0,529.1 C116.5,530.0 132.6,532.3 144.0,532.9 C155.4,533.5 166.7,533.4 174.4,532.9 C182.1,532.4 185.2,530.9 190.0,529.8 C194.8,528.7 199.5,527.4 203.2,526.5 C206.9,525.6 209.4,524.3 212.0,524.3 C214.6,524.3 216.4,525.2 218.6,526.5 C220.8,527.8 222.3,530.4 225.2,532.0 C228.1,533.6 232.5,534.9 236.2,536.4 C239.9,537.9 244.8,539.7 247.2,540.8 C249.6,541.9 250.5,541.9 250.5,543.0 C250.5,544.1 249.2,546.3 247.2,547.4 C245.2,548.5 242.4,549.2 238.4,549.6 C234.4,550.0 228.1,549.6 223.0,549.6 C217.9,549.6 212.4,549.8 207.6,549.6 C202.8,549.4 198.7,549.1 194.4,548.5 C190.1,547.9 189.4,546.2 182.0,546.2 C174.6,546.2 157.0,548.0 150.0,548.5 C143.0,549.0 143.5,549.2 140.0,549.5 C136.5,549.8 134.2,549.1 129.0,550.0 C123.8,550.9 115.7,553.8 109.0,555.0 C102.3,556.2 95.7,556.5 89.0,557.0 C82.3,557.5 75.7,557.7 69.0,558.0 C62.3,558.3 52.3,558.8 49.0,559.0" fill="none" stroke="#111" stroke-width="1.5"/>
<path d="M49.0,569.0 C49.7,568.5 49.7,566.8 53.0,566.0 C56.3,565.2 63.0,564.5 69.0,564.0 C75.0,563.5 82.3,563.5 89.0,563.0 C95.7,562.5 102.3,561.7 109.0,561.0 C115.7,560.3 123.3,559.6 129.0,559.0 C134.7,558.4 137.3,557.8 143.0,557.4 C148.7,557.0 154.6,556.8 163.0,556.8 C171.4,556.8 186.0,555.9 193.4,557.6 C200.8,559.3 204.5,564.9 207.6,567.2 C210.7,569.5 212.7,570.3 212.0,571.6 C211.3,572.9 206.9,574.2 203.2,574.9 C199.5,575.5 195.5,575.1 190.0,575.5 C184.5,575.9 173.3,576.8 170.0,577.0" fill="none" stroke="#111" stroke-width="1.5" stroke-dasharray="5.5,3.5"/>
<path d="M52.8,569.0 C54.7,570.3 61.0,574.9 64.2,576.6 C67.4,578.3 70.7,578.6 72.0,579.0" fill="none" stroke="#111" stroke-width="1.5" stroke-dasharray="5.5,3.5"/>
<path d="M218.6,497.9 C219.0,499.5 220.1,504.7 220.8,507.8 C221.5,510.9 220.8,514.4 223.0,516.6 C225.2,518.8 230.0,519.5 234.0,521.0 C238.0,522.5 242.8,523.9 247.2,525.4 C251.6,526.9 255.3,528.3 260.4,529.8 C265.5,531.3 273.6,532.7 278.0,534.2 C282.4,535.7 285.3,537.9 286.8,538.6" fill="none" stroke="#111" stroke-width="1.5" stroke-dasharray="5.5,3.5"/>
<path d="M225.2,495.7 C227.4,495.5 235.5,496.6 238.4,494.6 C241.3,492.6 240.6,487.3 242.8,483.6 C245.0,479.9 249.0,475.9 251.6,472.6 C254.2,469.3 256.0,466.6 258.2,463.8 C260.4,461.0 263.7,457.1 264.8,455.8" fill="none" stroke="#111" stroke-width="1.5" stroke-dasharray="5.5,3.5"/>
<path d="M282.4,459.4 C281.7,461.2 280.2,466.4 278.0,470.4 C275.8,474.4 269.9,479.9 269.2,483.6 C268.5,487.3 272.1,489.8 273.6,492.4 C275.1,495.0 276.9,495.7 278.0,499.0 C279.1,502.3 279.1,508.5 280.2,512.2 C281.3,515.9 283.5,518.4 284.6,521.0 C285.7,523.6 286.4,526.5 286.8,527.6" fill="none" stroke="#111" stroke-width="1.5" stroke-dasharray="5.5,3.5"/>
<path d="M289.0,456.0 C289.1,462.5 289.2,482.3 289.3,495.0 C289.4,507.7 289.5,525.8 289.5,532.0" fill="none" stroke="#111" stroke-width="1.5" stroke-dasharray="5.5,3.5"/>
<path d="M293.0,456.0 C293.0,462.5 293.1,482.3 293.2,495.0 C293.3,507.7 293.4,525.8 293.5,532.0" fill="none" stroke="#111" stroke-width="1.5" stroke-dasharray="5.5,3.5"/>
<path d="M297.5,455.8 C297.6,463.2 297.6,487.6 297.8,500.0 C298.0,512.4 298.0,523.8 298.5,530.0 C299.0,536.2 300.3,537.0 301.0,537.0 C301.7,537.0 302.5,536.2 302.5,530.0 C302.5,523.8 301.1,512.4 300.8,500.0 C300.5,487.6 300.6,463.2 300.5,455.8" fill="none" stroke="#111" stroke-width="1.5"/>
<path d="M267.0,549.6 C269.6,549.2 278.4,547.8 282.4,547.4 C286.4,547.0 289.7,547.4 291.2,547.4" fill="none" stroke="#111" stroke-width="1.5" stroke-dasharray="5.5,3.5"/>
<path d="M267.0,551.8 C266.3,553.3 263.0,558.0 262.6,560.6 C262.2,563.2 263.0,565.7 264.8,567.2 C266.6,568.7 269.9,569.4 273.6,569.4 C277.3,569.4 283.1,567.2 286.8,567.2 C290.5,567.2 294.1,569.0 295.6,569.4" fill="none" stroke="#111" stroke-width="1.5" stroke-dasharray="5.5,3.5"/>
<path d="M286.8,556.2 C288.3,557.3 293.4,561.3 295.6,562.8 C297.8,564.3 299.3,564.6 300.0,565.0" fill="none" stroke="#111" stroke-width="1.5" stroke-dasharray="5.5,3.5"/>
<path d="M301.0,455.8 C301.4,457.5 301.7,462.8 303.2,466.0 C304.7,469.2 306.9,473.5 309.8,474.8 C312.7,476.1 317.1,474.2 320.8,473.7 C324.5,473.1 328.1,471.1 331.8,471.5 C335.5,471.9 338.8,474.1 342.8,475.9 C346.8,477.7 351.6,480.9 356.0,482.5 C360.4,484.1 365.5,485.6 369.2,485.8 C372.9,486.0 376.5,484.0 378.0,483.6" fill="none" stroke="#111" stroke-width="1.5"/>
<path d="M303.2,536.4 C303.6,533.8 304.7,525.8 305.4,521.0 C306.1,516.2 306.5,511.8 307.6,507.8 C308.7,503.8 309.4,499.7 312.0,496.8 C314.6,493.9 319.3,491.7 323.0,490.2 C326.7,488.7 329.2,488.2 334.0,488.0 C338.8,487.8 346.5,488.6 351.6,489.1 C356.7,489.7 361.1,491.3 364.8,491.3 C368.5,491.3 370.4,489.5 373.6,489.1 C376.8,488.7 381.0,488.8 384.2,489.1 C387.4,489.4 389.3,490.0 392.7,490.8 C396.1,491.6 401.3,491.9 404.7,494.2 C408.1,496.5 410.9,501.3 413.2,504.4 C415.5,507.5 417.2,511.1 418.3,513.0 C419.4,514.9 419.7,515.5 420.0,516.0" fill="none" stroke="#111" stroke-width="1.5"/>
<path d="M382.4,492.4 C383.5,493.5 387.5,496.4 389.0,499.0 C390.5,501.6 390.6,505.4 391.2,507.8 C391.8,510.2 391.6,511.5 392.3,513.3 C393.0,515.1 394.3,516.8 395.6,518.8 C396.9,520.8 399.3,524.3 400.0,525.4" fill="none" stroke="#111" stroke-width="1.5"/>
<path d="M356.0,455.8 C355.3,456.8 352.0,459.2 351.6,461.6 C351.2,464.0 352.0,467.8 353.8,470.4 C355.6,473.0 358.6,475.5 362.6,477.0 C366.6,478.5 373.6,478.8 378.0,479.2 C382.4,479.6 386.4,479.9 389.0,479.2 C391.6,478.5 392.7,475.5 393.4,474.8" fill="none" stroke="#111" stroke-width="1.5"/>
<path d="M325.2,510.0 C326.7,509.3 330.7,507.1 334.0,505.6 C337.3,504.1 341.3,502.7 345.0,501.2 C348.7,499.7 352.7,497.2 356.0,496.8 C359.3,496.4 361.9,497.2 364.8,499.0 C367.7,500.8 370.7,505.2 373.6,507.8 C376.5,510.4 380.2,512.2 382.4,514.4 C384.6,516.6 386.1,519.9 386.8,521.0" fill="none" stroke="#111" stroke-width="1.5" stroke-dasharray="5.5,3.5"/>
<path d="M325.2,512.2 C325.9,513.3 327.4,517.3 329.6,518.8 C331.8,520.3 336.9,520.6 338.4,521.0" fill="none" stroke="#111" stroke-width="1.5" stroke-dasharray="5.5,3.5"/>
<path d="M312.0,554.0 C313.8,553.3 318.6,550.7 323.0,549.6 C327.4,548.5 332.9,548.1 338.4,547.4 C343.9,546.7 350.1,545.6 356.0,545.2 C361.9,544.8 368.5,544.8 373.6,545.2 C378.7,545.6 383.5,546.3 386.8,547.4 C390.1,548.5 392.3,551.1 393.4,551.8" fill="none" stroke="#111" stroke-width="1.5" stroke-dasharray="5.5,3.5"/>
<path d="M290.0,558.4 C291.5,558.8 295.9,559.5 298.8,560.6 C301.7,561.7 306.1,564.3 307.6,565.0" fill="none" stroke="#111" stroke-width="1.5" stroke-dasharray="5.5,3.5"/>
<path d="M312.0,556.2 C312.0,557.3 310.5,561.0 312.0,562.8 C313.5,564.6 317.1,566.1 320.8,567.2 C324.5,568.3 330.0,570.1 334.0,569.4 C338.0,568.7 342.8,565.0 345.0,562.8 C347.2,560.6 346.8,557.3 347.2,556.2" fill="none" stroke="#111" stroke-width="1.5" stroke-dasharray="5.5,3.5"/>
<path d="M358.2,556.2 C359.3,557.3 361.5,561.7 364.8,562.8 C368.1,563.9 374.3,562.4 378.0,562.8 C381.7,563.2 384.2,563.9 386.8,565.0 C389.4,566.1 392.3,568.7 393.4,569.4" fill="none" stroke="#111" stroke-width="1.5" stroke-dasharray="5.5,3.5"/>
<path d="M290.0,569.4 C292.2,569.6 299.2,570.7 303.2,570.5 C307.2,570.3 312.4,568.7 314.2,568.3" fill="none" stroke="#111" stroke-width="1.5" stroke-dasharray="5.5,3.5"/>
<path d="M250.0,580.0 C253.3,579.8 263.3,578.8 270.0,578.5 C276.7,578.2 283.7,578.6 290.0,578.2 C296.3,577.8 301.7,576.5 307.6,576.0 C313.5,575.5 319.3,575.3 325.2,574.9 C331.1,574.5 337.7,573.8 342.8,573.8 C347.9,573.8 352.3,575.0 356.0,575.0 C359.7,575.0 361.1,574.4 364.8,573.8 C368.5,573.2 372.8,571.8 378.0,571.6 C383.2,571.4 390.3,572.7 396.2,572.6 C402.1,572.5 409.2,571.5 413.2,570.9 C417.2,570.3 418.9,569.5 420.0,569.2" fill="none" stroke="#111" stroke-width="1.5"/>
<path d="M396.2,531.7 C397.1,533.1 398.5,538.0 401.3,540.3 C404.1,542.6 410.1,544.5 413.2,545.4 C416.3,546.2 418.9,545.4 420.0,545.4" fill="none" stroke="#111" stroke-width="1.5"/>
<path d="M220.0,496.8 C220.6,496.2 220.6,493.6 223.8,493.0 C227.0,492.4 236.5,493.0 239.0,493.0" fill="none" stroke="#111" stroke-width="1.5" stroke-dasharray="5.5,3.5"/>
<text x="0" y="0" transform="translate(109.0,517.0) rotate(0)" style="font-family:'Liberation Serif',serif;font-weight:bold;font-size:15px" text-anchor="middle" fill="#111" dy="5">0</text>
<text x="0" y="0" transform="translate(211.0,491.0) rotate(90)" style="font-family:'Liberation Serif',serif;font-weight:bold;font-size:15px" text-anchor="middle" fill="#111" dy="5">0</text>
<text x="0" y="0" transform="translate(75.6,529.1) rotate(0)" style="font-family:'Liberation Serif',serif;font-weight:bold;font-size:15px" text-anchor="middle" fill="#111" dy="5">0</text>
<text x="0" y="0" transform="translate(218.6,528.7) rotate(-40)" style="font-family:'Liberation Serif',serif;font-weight:bold;font-size:15px" text-anchor="middle" fill="#111" dy="5">0</text>
<text x="0" y="0" transform="translate(141.0,551.0) rotate(0)" style="font-family:'Liberation Serif',serif;font-weight:bold;font-size:15px" text-anchor="middle" fill="#111" dy="5">0</text>
<text x="0" y="0" transform="translate(373.6,489.1) rotate(0)" style="font-family:'Liberation Serif',serif;font-weight:bold;font-size:15px" text-anchor="middle" fill="#111" dy="5">10</text>
<text x="0" y="0" transform="translate(392.3,513.3) rotate(-70)" style="font-family:'Liberation Serif',serif;font-weight:bold;font-size:15px" text-anchor="middle" fill="#111" dy="5">0</text>
<text x="0" y="0" transform="translate(325.2,575.0) rotate(0)" style="font-family:'Liberation Serif',serif;font-weight:bold;font-size:15px" text-anchor="middle" fill="#111" dy="5">0</text>
<text x="0" y="0" transform="translate(356.0,576.0) rotate(0)" style="font-family:'Liberation Serif',serif;font-weight:bold;font-size:15px" text-anchor="middle" fill="#111" dy="5">10</text>
</g>
<polyline points="49.0,96.6 51.5,101.2 53.9,99.9 56.4,100.9 58.9,92.7 61.4,100.1 63.8,103.5 66.3,99.4 68.8,95.9 71.3,104.1 73.7,95.2 76.2,101.0 78.7,95.8 81.2,92.3 83.6,95.0 86.1,93.8 88.6,93.2 91.0,91.9 93.5,98.3 96.0,98.2 98.5,101.4 100.9,93.9 103.4,97.3 105.9,100.2 108.4,100.0 110.8,94.7 113.3,98.6 115.8,96.0 118.3,90.5 120.7,96.1 123.2,91.9 125.7,95.8 128.1,93.8 130.6,94.6 133.1,95.0 135.6,94.8 138.0,90.5 140.5,98.4 143.0,95.1 145.5,95.2 147.9,97.9 150.4,99.7 152.9,96.8 155.4,96.7 157.8,93.5 160.3,102.6 162.8,99.9 165.2,99.8 167.7,98.8 170.2,95.9 172.7,89.7 175.1,92.8 177.6,92.8 180.1,91.2 182.6,92.3 185.0,93.1 187.5,87.3 190.0,86.8 192.5,93.3 194.9,94.1 197.4,88.3 199.9,90.2 202.3,79.8 204.8,87.5 207.3,82.7 209.8,81.9 212.2,80.2 214.7,78.9 217.2,83.1 219.7,79.6 222.1,74.5 224.6,74.7 227.1,68.8 229.6,69.7 232.0,70.8 234.5,53.2 237.0,54.7 239.4,51.5 241.9,57.9 244.4,47.0 246.9,54.2 249.3,41.3 251.8,41.3 254.3,40.0 256.8,33.9 259.2,51.0 261.7,40.5 264.2,36.4 266.7,42.7 269.1,26.4 271.6,42.7 274.1,38.6 276.5,30.6 279.0,32.9 281.5,29.4 284.0,23.5 286.4,19.3 288.9,24.0 291.4,20.2 293.9,24.9 296.3,28.6 298.8,49.8 301.3,36.2 303.8,49.7 306.2,41.7 308.7,48.1 311.2,56.7 313.6,61.1 316.1,58.7 318.6,56.8 321.1,54.6 323.5,66.8 326.0,68.7 328.5,70.6 331.0,66.7 333.4,72.0 335.9,75.8 338.4,69.8 340.9,65.9 343.3,69.2 345.8,79.0 348.3,78.6 350.7,82.1 353.2,80.7 355.7,75.8 358.2,84.6 360.6,89.1 363.1,85.4 365.6,95.0 368.1,95.8 370.5,92.5 373.0,91.9 375.5,102.5 378.0,98.0 380.4,97.9 382.9,96.7 385.4,99.5 387.8,106.0 390.3,101.5 392.8,98.7 395.3,93.7 397.7,105.7 400.2,105.5 402.7,100.7 405.2,106.6 407.6,108.6 410.1,101.2 412.6,106.7 415.1,106.0 417.5,101.9 420.0,101.6" fill="none" stroke="#1a7d3c" stroke-width="1.9" stroke-linejoin="round"/>
<polyline points="49.0,253.5 51.5,247.7 53.9,251.9 56.4,251.9 58.9,251.5 61.4,251.2 63.8,249.9 66.3,251.8 68.8,254.2 71.3,251.0 73.7,244.0 76.2,248.1 78.7,248.7 81.2,250.0 83.6,246.5 86.1,247.9 88.6,249.7 91.0,251.6 93.5,253.9 96.0,253.3 98.5,253.4 100.9,250.2 103.4,254.0 105.9,253.5 108.4,251.0 110.8,250.5 113.3,250.4 115.8,249.2 118.3,253.2 120.7,251.7 123.2,252.5 125.7,248.7 128.1,251.3 130.6,253.8 133.1,254.6 135.6,255.1 138.0,251.6 140.5,251.8 143.0,249.0 145.5,249.8 147.9,250.9 150.4,251.8 152.9,252.0 155.4,251.6 157.8,248.7 160.3,244.4 162.8,242.0 165.2,247.4 167.7,243.6 170.2,244.1 172.7,240.9 175.1,241.0 177.6,240.1 180.1,239.2 182.6,238.8 185.0,245.1 187.5,241.6 190.0,241.3 192.5,246.9 194.9,241.3 197.4,245.2 199.9,242.7 202.3,241.9 204.8,248.4 207.3,250.5 209.8,248.9 212.2,243.6 214.7,242.4 217.2,236.8 219.7,241.1 222.1,239.5 224.6,236.2 227.1,236.1 229.6,226.4 232.0,206.9 234.5,192.7 237.0,197.2 239.4,204.4 241.9,216.4 244.4,230.1 246.9,221.8 249.3,216.1 251.8,219.7 254.3,220.3 256.8,210.9 259.2,187.8 261.7,192.9 264.2,197.2 266.7,185.9 269.1,183.9 271.6,187.9 274.1,183.7 276.5,180.6 279.0,194.1 281.5,187.4 284.0,189.3 286.4,183.9 288.9,175.7 291.4,184.0 293.9,182.2 296.3,183.8 298.8,191.8 301.3,177.1 303.8,176.3 306.2,191.5 308.7,178.1 311.2,180.4 313.6,175.2 316.1,169.0 318.6,175.8 321.1,176.5 323.5,180.5 326.0,180.9 328.5,189.1 331.0,182.7 333.4,183.2 335.9,196.6 338.4,206.2 340.9,207.6 343.3,210.6 345.8,208.8 348.3,214.1 350.7,214.2 353.2,219.0 355.7,219.9 358.2,213.7 360.6,214.6 363.1,215.3 365.6,221.3 368.1,223.4 370.5,220.9 373.0,219.5 375.5,220.2 378.0,230.8 380.4,233.5 382.9,232.0 385.4,236.0 387.8,235.7 390.3,233.5 392.8,244.8 395.3,242.2 397.7,249.8 400.2,254.8 402.7,255.7 405.2,260.1 407.6,257.3 410.1,255.2 412.6,257.2 415.1,254.5 417.5,257.7 420.0,261.8" fill="none" stroke="#1a7d3c" stroke-width="1.9" stroke-linejoin="round"/>
<polyline points="49.0,394.8 51.5,395.2 53.9,398.4 56.4,393.3 58.9,393.8 61.4,400.3 63.8,400.8 66.3,399.3 68.8,398.8 71.3,397.8 73.7,399.8 76.2,400.0 78.7,394.9 81.2,399.5 83.6,399.6 86.1,399.6 88.6,396.9 91.0,396.5 93.5,400.1 96.0,394.8 98.5,400.3 100.9,399.1 103.4,397.7 105.9,395.9 108.4,397.4 110.8,398.7 113.3,400.5 115.8,399.5 118.3,400.8 120.7,401.6 123.2,400.2 125.7,400.8 128.1,394.8 130.6,399.4 133.1,394.2 135.6,395.4 138.0,394.8 140.5,402.0 143.0,400.3 145.5,399.8 147.9,401.1 150.4,398.3 152.9,395.7 155.4,398.1 157.8,394.7 160.3,397.2 162.8,393.1 165.2,394.2 167.7,399.4 170.2,397.3 172.7,398.2 175.1,397.8 177.6,400.8 180.1,397.4 182.6,394.8 185.0,400.2 187.5,398.5 190.0,396.6 192.5,392.6 194.9,397.5 197.4,398.0 199.9,398.6 202.3,399.0 204.8,390.0 207.3,396.2 209.8,394.4 212.2,396.7 214.7,395.5 217.2,395.1 219.7,394.4 222.1,400.1 224.6,398.2 227.1,395.4 229.6,398.7 232.0,394.6 234.5,397.7 237.0,395.5 239.4,399.2 241.9,400.6 244.4,396.7 246.9,400.2 249.3,395.7 251.8,397.0 254.3,399.8 256.8,395.3 259.2,399.4 261.7,400.6 264.2,395.3 266.7,399.4 269.1,396.9 271.6,396.8 274.1,401.1 276.5,394.6 279.0,400.2 281.5,398.1 284.0,401.7 286.4,401.3 288.9,400.5 291.4,397.2 293.9,393.8 296.3,397.8 298.8,403.0 301.3,402.8 303.8,402.2 306.2,393.5 308.7,370.0 311.2,357.4 313.6,355.6 316.1,346.9 318.6,349.5 321.1,348.1 323.5,344.8 326.0,344.6 328.5,348.5 331.0,344.1 333.4,355.5 335.9,361.9 338.4,355.7 340.9,344.2 343.3,343.8 345.8,342.1 348.3,347.7 350.7,342.0 353.2,338.6 355.7,355.4 358.2,347.4 360.6,351.6 363.1,357.0 365.6,364.8 368.1,362.6 370.5,362.8 373.0,369.9 375.5,361.9 378.0,362.6 380.4,371.3 382.9,375.8 385.4,373.9 387.8,376.0 390.3,376.1 392.8,377.4 395.3,379.4 397.7,375.5 400.2,380.4 402.7,389.4 405.2,393.0 407.6,388.7 410.1,387.7 412.6,394.7 415.1,398.4 417.5,399.5 420.0,393.9" fill="none" stroke="#1a7d3c" stroke-width="1.9" stroke-linejoin="round"/>
<polyline points="49.0,537.1 51.5,538.5 53.9,532.8 56.4,547.0 58.9,548.4 61.4,544.5 63.8,536.5 66.3,534.8 68.8,545.9 71.3,548.7 73.7,540.2 76.2,545.7 78.7,550.1 81.2,546.2 83.6,543.1 86.1,541.6 88.6,549.9 91.0,545.0 93.5,550.4 96.0,551.5 98.5,544.7 100.9,544.3 103.4,535.8 105.9,550.6 108.4,535.5 110.8,535.5 113.3,539.1 115.8,550.4 118.3,542.5 120.7,544.4 123.2,539.6 125.7,537.4 128.1,548.1 130.6,535.0 133.1,544.7 135.6,537.3 138.0,534.0 140.5,530.3 143.0,545.9 145.5,547.4 147.9,533.8 150.4,548.3 152.9,541.7 155.4,543.8 157.8,537.9 160.3,539.1 162.8,538.1 165.2,534.1 167.7,529.9 170.2,543.2 172.7,537.3 175.1,549.3 177.6,532.8 180.1,529.4 182.6,540.7 185.0,531.3 187.5,532.6 190.0,530.4 192.5,542.7 194.9,550.7 197.4,538.1 199.9,530.1 202.3,531.8 204.8,543.9 207.3,531.2 209.8,531.5 212.2,531.2 214.7,523.4 217.2,542.6 219.7,549.5 222.1,549.7 224.6,547.3 227.1,540.4 229.6,532.5 232.0,543.8 234.5,535.5 237.0,542.2 239.4,544.3 241.9,541.4 244.4,532.3 246.9,543.5 249.3,546.9 251.8,544.2 254.3,545.2 256.8,546.7 259.2,527.9 261.7,534.3 264.2,538.7 266.7,524.3 269.1,546.7 271.6,545.4 274.1,543.7 276.5,544.7 279.0,545.1 281.5,540.9 284.0,544.5 286.4,539.2 288.9,523.7 291.4,540.8 293.9,545.0 296.3,526.7 298.8,532.2 301.3,516.6 303.8,530.2 306.2,528.1 308.7,532.8 311.2,522.0 313.6,534.8 316.1,520.0 318.6,532.4 321.1,526.2 323.5,536.7 326.0,537.3 328.5,524.6 331.0,523.4 333.4,517.3 335.9,515.7 338.4,522.2 340.9,525.2 343.3,533.6 345.8,523.4 348.3,524.2 350.7,524.4 353.2,519.2 355.7,520.2 358.2,534.8 360.6,532.3 363.1,523.3 365.6,524.2 368.1,520.9 370.5,530.9 373.0,526.1 375.5,532.3 378.0,531.7 380.4,518.3 382.9,531.1 385.4,537.2 387.8,531.5 390.3,530.9 392.8,525.7 395.3,519.0 397.7,520.5 400.2,505.0 402.7,532.0 405.2,537.3 407.6,543.2 410.1,537.0 412.6,535.6 415.1,540.3 417.5,527.1 420.0,537.1" fill="none" stroke="#1a7d3c" stroke-width="1.9" stroke-linejoin="round"/>
<rect x="49.20" y="15.50" width="48.00" height="43.00" fill="#fff" stroke="#333" stroke-width="1.8"/>
<polygon points="61.6,30.3 55.2,47.5 75.3,45.5" fill="#f00000"/>
<line x1="61.6" y1="30.3" x2="55.2" y2="47.5" stroke="#000" stroke-width="1.3"/>
<line x1="55.2" y1="47.5" x2="75.3" y2="45.5" stroke="#000" stroke-width="1.3"/>
<line x1="61.6" y1="30.3" x2="75.3" y2="45.5" stroke="#000" stroke-width="1.3"/>
<line x1="61.6" y1="30.3" x2="79.8" y2="32.5" stroke="#000" stroke-width="1.3"/>
<line x1="79.8" y1="32.5" x2="75.3" y2="45.5" stroke="#000" stroke-width="1.3"/>
<line x1="79.8" y1="32.5" x2="93.0" y2="25.5" stroke="#000" stroke-width="1.3"/>
<line x1="79.8" y1="32.5" x2="93.0" y2="37.1" stroke="#000" stroke-width="1.3"/>
<line x1="93.0" y1="25.5" x2="93.0" y2="37.1" stroke="#000" stroke-width="1.3"/>
<line x1="75.3" y1="45.5" x2="93.0" y2="37.1" stroke="#000" stroke-width="1.3"/>
<circle cx="61.6" cy="30.3" r="1.9" fill="#000"/>
<circle cx="55.2" cy="47.5" r="1.9" fill="#000"/>
<circle cx="75.3" cy="45.5" r="1.9" fill="#000"/>
<circle cx="79.8" cy="32.5" r="1.9" fill="#000"/>
<circle cx="93.0" cy="25.5" r="1.9" fill="#000"/>
<circle cx="93.0" cy="37.1" r="1.9" fill="#000"/>
<rect x="392.6" y="15.80" width="27.4" height="31.5" fill="#fff"/>
<text x="407.5" y="35.50" style="font-family:'Liberation Serif',serif;font-weight:bold;font-size:21px" text-anchor="middle" fill="#111">(a)</text>
<line x1="48.20" y1="15.00" x2="420.00" y2="15.00" stroke="#111" stroke-width="2.3"/>
<rect x="49.20" y="162.30" width="48.00" height="43.00" fill="#fff" stroke="#333" stroke-width="1.8"/>
<polygon points="61.6,177.1 79.8,179.3 75.3,192.3" fill="#f00000"/>
<line x1="61.6" y1="177.1" x2="55.2" y2="194.3" stroke="#000" stroke-width="1.3"/>
<line x1="55.2" y1="194.3" x2="75.3" y2="192.3" stroke="#000" stroke-width="1.3"/>
<line x1="61.6" y1="177.1" x2="75.3" y2="192.3" stroke="#000" stroke-width="1.3"/>
<line x1="61.6" y1="177.1" x2="79.8" y2="179.3" stroke="#000" stroke-width="1.3"/>
<line x1="79.8" y1="179.3" x2="75.3" y2="192.3" stroke="#000" stroke-width="1.3"/>
<line x1="79.8" y1="179.3" x2="93.0" y2="172.3" stroke="#000" stroke-width="1.3"/>
<line x1="79.8" y1="179.3" x2="93.0" y2="184.0" stroke="#000" stroke-width="1.3"/>
<line x1="93.0" y1="172.3" x2="93.0" y2="184.0" stroke="#000" stroke-width="1.3"/>
<line x1="75.3" y1="192.3" x2="93.0" y2="184.0" stroke="#000" stroke-width="1.3"/>
<circle cx="61.6" cy="177.1" r="1.9" fill="#000"/>
<circle cx="55.2" cy="194.3" r="1.9" fill="#000"/>
<circle cx="75.3" cy="192.3" r="1.9" fill="#000"/>
<circle cx="79.8" cy="179.3" r="1.9" fill="#000"/>
<circle cx="93.0" cy="172.3" r="1.9" fill="#000"/>
<circle cx="93.0" cy="184.0" r="1.9" fill="#000"/>
<rect x="392.6" y="162.60" width="27.4" height="31.5" fill="#fff"/>
<text x="407.5" y="182.30" style="font-family:'Liberation Serif',serif;font-weight:bold;font-size:21px" text-anchor="middle" fill="#111">(b)</text>
<line x1="48.20" y1="161.80" x2="420.00" y2="161.80" stroke="#111" stroke-width="2.3"/>
<rect x="49.20" y="309.80" width="48.00" height="43.00" fill="#fff" stroke="#333" stroke-width="1.8"/>
<polygon points="79.8,326.8 93.0,331.4 75.3,339.8" fill="#f00000"/>
<line x1="61.6" y1="324.6" x2="55.2" y2="341.8" stroke="#000" stroke-width="1.3"/>
<line x1="55.2" y1="341.8" x2="75.3" y2="339.8" stroke="#000" stroke-width="1.3"/>
<line x1="61.6" y1="324.6" x2="75.3" y2="339.8" stroke="#000" stroke-width="1.3"/>
<line x1="61.6" y1="324.6" x2="79.8" y2="326.8" stroke="#000" stroke-width="1.3"/>
<line x1="79.8" y1="326.8" x2="75.3" y2="339.8" stroke="#000" stroke-width="1.3"/>
<line x1="79.8" y1="326.8" x2="93.0" y2="319.8" stroke="#000" stroke-width="1.3"/>
<line x1="79.8" y1="326.8" x2="93.0" y2="331.4" stroke="#000" stroke-width="1.3"/>
<line x1="93.0" y1="319.8" x2="93.0" y2="331.4" stroke="#000" stroke-width="1.3"/>
<line x1="75.3" y1="339.8" x2="93.0" y2="331.4" stroke="#000" stroke-width="1.3"/>
<circle cx="61.6" cy="324.6" r="1.9" fill="#000"/>
<circle cx="55.2" cy="341.8" r="1.9" fill="#000"/>
<circle cx="75.3" cy="339.8" r="1.9" fill="#000"/>
<circle cx="79.8" cy="326.8" r="1.9" fill="#000"/>
<circle cx="93.0" cy="319.8" r="1.9" fill="#000"/>
<circle cx="93.0" cy="331.4" r="1.9" fill="#000"/>
<rect x="392.6" y="310.10" width="27.4" height="31.5" fill="#fff"/>
<text x="407.5" y="329.80" style="font-family:'Liberation Serif',serif;font-weight:bold;font-size:21px" text-anchor="middle" fill="#111">(c)</text>
<line x1="48.20" y1="309.30" x2="420.00" y2="309.30" stroke="#111" stroke-width="2.3"/>
<rect x="49.20" y="456.60" width="48.00" height="43.00" fill="#fff" stroke="#333" stroke-width="1.8"/>
<polygon points="79.8,473.6 93.0,466.6 93.0,478.2" fill="#f00000"/>
<line x1="61.6" y1="471.4" x2="55.2" y2="488.6" stroke="#000" stroke-width="1.3"/>
<line x1="55.2" y1="488.6" x2="75.3" y2="486.6" stroke="#000" stroke-width="1.3"/>
<line x1="61.6" y1="471.4" x2="75.3" y2="486.6" stroke="#000" stroke-width="1.3"/>
<line x1="61.6" y1="471.4" x2="79.8" y2="473.6" stroke="#000" stroke-width="1.3"/>
<line x1="79.8" y1="473.6" x2="75.3" y2="486.6" stroke="#000" stroke-width="1.3"/>
<line x1="79.8" y1="473.6" x2="93.0" y2="466.6" stroke="#000" stroke-width="1.3"/>
<line x1="79.8" y1="473.6" x2="93.0" y2="478.2" stroke="#000" stroke-width="1.3"/>
<line x1="93.0" y1="466.6" x2="93.0" y2="478.2" stroke="#000" stroke-width="1.3"/>
<line x1="75.3" y1="486.6" x2="93.0" y2="478.2" stroke="#000" stroke-width="1.3"/>
<circle cx="61.6" cy="471.4" r="1.9" fill="#000"/>
<circle cx="55.2" cy="488.6" r="1.9" fill="#000"/>
<circle cx="75.3" cy="486.6" r="1.9" fill="#000"/>
<circle cx="79.8" cy="473.6" r="1.9" fill="#000"/>
<circle cx="93.0" cy="466.6" r="1.9" fill="#000"/>
<circle cx="93.0" cy="478.2" r="1.9" fill="#000"/>
<rect x="392.6" y="456.90" width="27.4" height="31.5" fill="#fff"/>
<text x="407.5" y="476.60" style="font-family:'Liberation Serif',serif;font-weight:bold;font-size:21px" text-anchor="middle" fill="#111">(d)</text>
<line x1="48.20" y1="456.10" x2="420.00" y2="456.10" stroke="#111" stroke-width="2.3"/>
<text x="49.00" y="616.30" style="font-family:'Liberation Serif',serif;font-weight:bold;font-size:21px" text-anchor="middle" fill="#222">1300</text>
<text x="123.20" y="616.30" style="font-family:'Liberation Serif',serif;font-weight:bold;font-size:21px" text-anchor="middle" fill="#222">1330</text>
<text x="197.40" y="616.30" style="font-family:'Liberation Serif',serif;font-weight:bold;font-size:21px" text-anchor="middle" fill="#222">1400</text>
<text x="271.60" y="616.30" style="font-family:'Liberation Serif',serif;font-weight:bold;font-size:21px" text-anchor="middle" fill="#222">1430</text>
<text x="345.80" y="616.30" style="font-family:'Liberation Serif',serif;font-weight:bold;font-size:21px" text-anchor="middle" fill="#222">1500</text>
<text x="420.00" y="616.30" style="font-family:'Liberation Serif',serif;font-weight:bold;font-size:21px" text-anchor="middle" fill="#222">1530</text>
<text x="235.00" y="643.00" style="font-family:'Liberation Serif',serif;font-weight:bold;font-size:23px" text-anchor="middle" fill="#222">Hour (LST)</text>
<rect x="49.00" y="647.3" width="371.00" height="13.8" fill="url(#cb)" stroke="#333" stroke-width="0.8"/>
<line x1="49.00" y1="661" x2="49.00" y2="658" stroke="#333" stroke-width="0.8"/>
<text x="49.00" y="689" style="font-family:'Liberation Serif',serif;font-weight:bold;font-size:20px" text-anchor="middle" fill="#222">-50</text>
<line x1="141.75" y1="661" x2="141.75" y2="658" stroke="#333" stroke-width="0.8"/>
<text x="141.75" y="689" style="font-family:'Liberation Serif',serif;font-weight:bold;font-size:20px" text-anchor="middle" fill="#222">-25</text>
<line x1="234.50" y1="661" x2="234.50" y2="658" stroke="#333" stroke-width="0.8"/>
<text x="234.50" y="689" style="font-family:'Liberation Serif',serif;font-weight:bold;font-size:20px" text-anchor="middle" fill="#222">0</text>
<line x1="327.25" y1="661" x2="327.25" y2="658" stroke="#333" stroke-width="0.8"/>
<text x="327.25" y="689" style="font-family:'Liberation Serif',serif;font-weight:bold;font-size:20px" text-anchor="middle" fill="#222">25</text>
<line x1="420.00" y1="661" x2="420.00" y2="658" stroke="#333" stroke-width="0.8"/>
<text x="420.00" y="689" style="font-family:'Liberation Serif',serif;font-weight:bold;font-size:20px" text-anchor="middle" fill="#222">50</text>
<text x="234" y="721.2" style="font-family:'Liberation Serif',serif;font-weight:bold;font-size:21px" text-anchor="middle" fill="#222">Divergence (×10<tspan dy="-8.5" style="font-size:15px">-5</tspan><tspan dy="8.5"> s</tspan><tspan dy="-8.5" style="font-size:15px">-1</tspan><tspan dy="8.5">)</tspan></text>
<text transform="translate(19.6,286.2) rotate(-90)" style="font-family:'Liberation Serif',serif;font-weight:bold;font-size:21.5px" text-anchor="middle" fill="#222">Altitude (km)</text>
<text transform="translate(483,284.5) rotate(-90)" style="font-family:'Liberation Serif',serif;font-weight:bold;font-size:21.3px" text-anchor="middle" fill="#0f6e32">95th percentile of WS<tspan dy="9.5" style="font-size:16px">10m</tspan><tspan dy="-9.5" dx="6">(m s</tspan><tspan dy="-10.5" style="font-size:16px">-1</tspan><tspan dy="10.5">)</tspan></text>
</svg>
</body></html>
